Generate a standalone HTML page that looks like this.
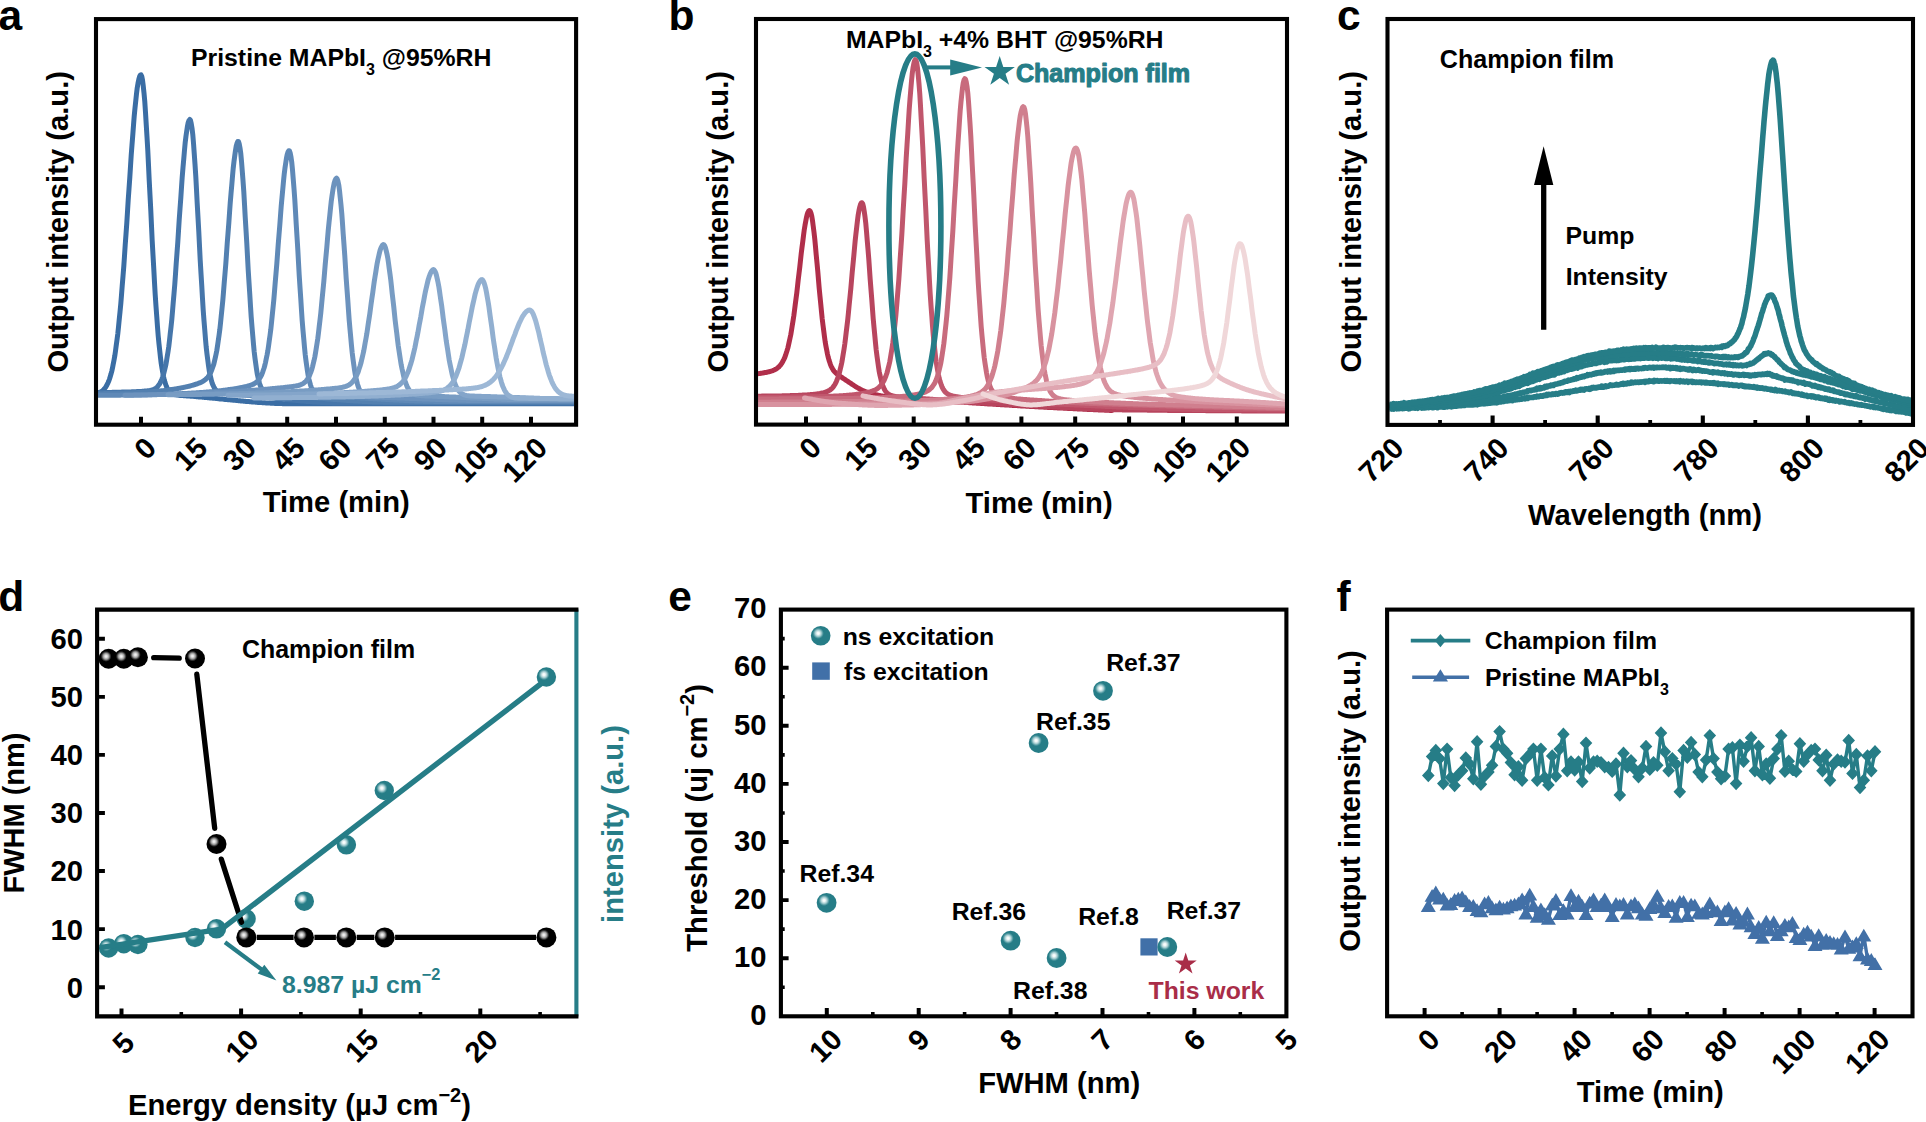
<!DOCTYPE html>
<html lang="en"><head><meta charset="utf-8"><title>Figure</title>
<style>html,body{margin:0;padding:0;background:#fff;overflow:hidden}svg{display:block}text{font-family:'Liberation Sans', sans-serif;font-weight:700}</style></head>
<body>
<svg width="1926" height="1122" viewBox="0 0 1926 1122" role="img" aria-label="Six panel figure">
<defs>
<radialGradient id="gk" cx="0.374" cy="0.378" r="0.27" fx="0.374" fy="0.378"><stop offset="0" stop-color="#f6f6f6"/><stop offset="0.22" stop-color="#e2e2e2"/><stop offset="0.55" stop-color="#9a9a9a"/><stop offset="0.82" stop-color="#333"/><stop offset="1" stop-color="#000"/></radialGradient>
<radialGradient id="gt" cx="0.374" cy="0.378" r="0.285" fx="0.374" fy="0.378"><stop offset="0" stop-color="#ffffff"/><stop offset="0.22" stop-color="#f1f8f8"/><stop offset="0.55" stop-color="#a6cdd1"/><stop offset="0.82" stop-color="#4f98a0"/><stop offset="1" stop-color="#267d87"/></radialGradient>
<clipPath id="ca"><rect x="98" y="21.1" width="476.1" height="401.6"/></clipPath>
<clipPath id="cb"><rect x="758" y="21" width="527" height="401.6"/></clipPath>
<clipPath id="cc"><rect x="1389.5" y="21" width="521.5" height="401.9"/></clipPath>
</defs>
<g id="pa">
<g clip-path="url(#ca)" fill="none" stroke-width="5.0" stroke-linecap="round" stroke-linejoin="round">
<path d="M90,394.1 L90.8,394 L91.5,394 L92.2,393.9 L93,393.9 L93.8,393.8 L94.5,393.7 L95.2,393.6 L96,393.4 L96.8,393.3 L97.5,393.1 L98.2,392.9 L99,392.6 L99.8,392.3 L100.5,392 L101.2,391.5 L102,391 L102.8,390.5 L103.5,389.8 L104.2,389 L105,388.1 L105.8,387 L106.5,385.8 L107.2,384.4 L108,382.8 L108.8,381 L109.5,379 L110.2,376.7 L111,374.1 L111.8,371.1 L112.5,367.9 L113.2,364.3 L114,360.3 L114.8,355.8 L115.5,351 L116.2,345.7 L117,339.9 L117.8,333.7 L118.5,326.9 L119.2,319.7 L120,312 L120.8,303.7 L121.5,295 L122.2,285.9 L123,276.3 L123.8,266.3 L124.5,255.9 L125.2,245.2 L126,234.2 L126.8,223 L127.5,211.6 L128.2,200.2 L129,188.8 L129.8,177.5 L130.5,166.3 L131.2,155.4 L132,144.9 L132.8,134.8 L133.5,125.2 L134.2,116.2 L135,107.9 L135.8,100.5 L136.5,93.8 L137.2,88.1 L138,83.3 L138.8,79.5 L139.5,76.8 L140.2,75.2 L141,74.8 L141.8,76.5 L142.5,80.1 L143.2,85.6 L144,92.9 L144.8,101.8 L145.5,112.3 L146.2,124 L147,136.9 L147.8,150.7 L148.5,165.2 L149.2,180.2 L150,195.4 L150.8,210.7 L151.5,225.9 L152.2,240.8 L153,255.2 L153.8,269.1 L154.5,282.3 L155.2,294.7 L156,306.3 L156.8,317.1 L157.5,326.9 L158.2,335.9 L159,344 L159.8,351.3 L160.5,357.7 L161.2,363.4 L162,368.4 L162.8,372.7 L163.5,376.5 L164.2,379.7 L165,382.4 L165.8,384.7 L166.5,386.6 L167.2,388.2 L168,389.6 L168.8,390.7 L169.5,391.6 L170.2,392.3 L171,392.9 L171.8,393.4 L172.5,393.8 L173.2,394.1 L174,394.4 L174.8,394.6 L175.5,394.8 L176.2,394.9 L177,395 L177.8,395.1 L178.5,395.2 L179.2,395.3 L180,395.4 L180.8,395.4 L181.5,395.5 L182.2,395.5 L183,395.6 L183.8,395.7 L184.5,395.7 L185.2,395.8 L186,395.8 L186.8,395.9 L187.5,395.9 L188.2,396 L189,396 L189.8,396.1 L190.5,396.2 L191.2,396.2 L192,396.3 L192.8,396.3 L193.5,396.4 L194.2,396.5 L195,396.5 L195.8,396.6 L196.5,396.7 L197.2,396.7 L198,396.8 L198.8,396.9 L199.5,396.9 L200.2,397 L201,397.1 L201.8,397.1 L202.5,397.2 L203.2,397.3 L204,397.3 L204.8,397.4 L205.5,397.5 L206.2,397.5 L207,397.6 L207.8,397.7 L208.5,397.7 L209.2,397.8 L210,397.9 L210.8,398 L211.5,398 L212.2,398.1 L213,398.2 L213.8,398.3 L214.5,398.3 L215.2,398.4 L216,398.5 L216.8,398.6 L217.5,398.6 L218.2,398.7 L219,398.8 L219.8,398.9 L220.5,398.9 L221.2,399 L222,399.1 L222.8,399.1 L223.5,399.2 L224.2,399.3 L225,399.4 L225.8,399.4 L226.5,399.5 L227.2,399.6 L228,399.7 L228.8,399.7 L229.5,399.8 L230.2,399.9 L231,400 L231.8,400 L232.5,400.1 L233.2,400.2 L234,400.3 L234.8,400.3 L235.5,400.4 L236.2,400.5 L237,400.6 L237.8,400.6 L238.5,400.7 L239.2,400.8 L240,400.8 L240.8,400.9 L241.5,401 L242.2,401 L243,401.1 L243.8,401.2 L244.5,401.2 L245.2,401.3 L246,401.4 L246.8,401.4 L247.5,401.5 L248.2,401.6 L249,401.6 L249.8,401.7 L250.5,401.8 L251.2,401.8 L252,401.9 L252.8,402 L253.5,402 L254.2,402.1 L255,402.1 L255.8,402.2 L256.5,402.3 L257.2,402.3 L258,402.4 L258.8,402.4 L259.5,402.5 L260.2,402.5 L261,402.6 L261.8,402.6 L262.5,402.7 L263.2,402.7 L264,402.8 L264.8,402.8 L265.5,402.9 L266.2,402.9 L267,403 L267.8,403 L268.5,403.1 L269.2,403.1 L270,403.1 L270.8,403.2 L271.5,403.2 L272.2,403.3 L273,403.3 L273.8,403.3 L274.5,403.4 L275.2,403.4 L276,403.4 L276.8,403.5 L277.5,403.5 L278.2,403.5 L279,403.5 L279.8,403.6 L280.5,403.6 L281.2,403.6 L282,403.6 L282.8,403.7 L283.5,403.7 L284.2,403.7 L285,403.7 L285.8,403.7 L286.5,403.7 L287.2,403.8 L288,403.8 L288.8,403.8 L289.5,403.8 L290.2,403.8 L291,403.8 L291.8,403.8 L292.5,403.8 L293.2,403.8 L294,403.8 L294.8,403.8 L295.5,403.8 L296.2,403.8 L297,403.8 L297.8,403.8 L298.5,403.8 L299.2,403.8 L300,403.8 L300.8,403.8 L301.5,403.8 L302.2,403.8 L303,403.8 L303.8,403.8 L304.5,403.8 L305.2,403.8 L306,403.8 L306.8,403.8 L307.5,403.8 L308.2,403.8 L309,403.8 L309.8,403.8 L310.5,403.8 L311.2,403.8 L312,403.8 L312.8,403.8 L313.5,403.8 L314.2,403.8 L315,403.8 L315.8,403.8 L316.5,403.8 L317.2,403.8 L318,403.8 L318.8,403.8 L319.5,403.8 L320.2,403.8 L321,403.8 L321.8,403.8 L322.5,403.8 L323.2,403.8 L324,403.8 L324.8,403.8 L325.5,403.8 L326.2,403.8 L327,403.8 L327.8,403.8 L328.5,403.8 L329.2,403.8 L330,403.8 L330.8,403.8 L331.5,403.8 L332.2,403.8 L333,403.8 L333.8,403.8 L334.5,403.8 L335.2,403.8 L336,403.8 L336.8,403.8 L337.5,403.8 L338.2,403.8 L339,403.8 L339.8,403.8 L340.5,403.8 L341.2,403.8 L342,403.8 L342.8,403.8 L343.5,403.8 L344.2,403.8 L345,403.8 L345.8,403.8 L346.5,403.8 L347.2,403.8 L348,403.8 L348.8,403.8 L349.5,403.8 L350.2,403.8 L351,403.8 L351.8,403.8 L352.5,403.8 L353.2,403.8 L354,403.8 L354.8,403.8 L355.5,403.8 L356.2,403.8 L357,403.8 L357.8,403.8 L358.5,403.8 L359.2,403.8 L360,403.8 L360.8,403.8 L361.5,403.8 L362.2,403.8 L363,403.8 L363.8,403.8 L364.5,403.8 L365.2,403.8 L366,403.8 L366.8,403.8 L367.5,403.8 L368.2,403.8 L369,403.8 L369.8,403.8 L370.5,403.8 L371.2,403.8 L372,403.8 L372.8,403.8 L373.5,403.8 L374.2,403.8 L375,403.8 L375.8,403.8 L376.5,403.8 L377.2,403.8 L378,403.8 L378.8,403.8 L379.5,403.8 L380.2,403.8 L381,403.8 L381.8,403.8 L382.5,403.8 L383.2,403.8 L384,403.8 L384.8,403.8 L385.5,403.8 L386.2,403.8 L387,403.8 L387.8,403.8 L388.5,403.8 L389.2,403.8 L390,403.8 L390.8,403.8 L391.5,403.8 L392.2,403.8 L393,403.8 L393.8,403.8 L394.5,403.8 L395.2,403.8 L396,403.8 L396.8,403.8 L397.5,403.8 L398.2,403.8 L399,403.8 L399.8,403.8 L400.5,403.8 L401.2,403.8 L402,403.8 L402.8,403.8 L403.5,403.8 L404.2,403.8 L405,403.8 L405.8,403.8 L406.5,403.8 L407.2,403.8 L408,403.8 L408.8,403.8 L409.5,403.8 L410.2,403.8 L411,403.8 L411.8,403.8 L412.5,403.8 L413.2,403.8 L414,403.8 L414.8,403.8 L415.5,403.8 L416.2,403.8 L417,403.8 L417.8,403.8 L418.5,403.8 L419.2,403.8 L420,403.8 L420.8,403.8 L421.5,403.8 L422.2,403.8 L423,403.8 L423.8,403.8 L424.5,403.8 L425.2,403.8 L426,403.8 L426.8,403.8 L427.5,403.8 L428.2,403.8 L429,403.8 L429.8,403.8 L430.5,403.8 L431.2,403.8 L432,403.8 L432.8,403.8 L433.5,403.8 L434.2,403.8 L435,403.8 L435.8,403.8 L436.5,403.8 L437.2,403.8 L438,403.8 L438.8,403.8 L439.5,403.8 L440.2,403.8 L441,403.8 L441.8,403.8 L442.5,403.8 L443.2,403.8 L444,403.8 L444.8,403.8 L445.5,403.8 L446.2,403.8 L447,403.8 L447.8,403.8 L448.5,403.8 L449.2,403.8 L450,403.8 L450.8,403.8 L451.5,403.8 L452.2,403.8 L453,403.8 L453.8,403.8 L454.5,403.8 L455.2,403.8 L456,403.8 L456.8,403.8 L457.5,403.8 L458.2,403.8 L459,403.8 L459.8,403.8 L460.5,403.8 L461.2,403.8 L462,403.8 L462.8,403.8 L463.5,403.8 L464.2,403.8 L465,403.8 L465.8,403.8 L466.5,403.8 L467.2,403.8 L468,403.8 L468.8,403.8 L469.5,403.8 L470.2,403.8 L471,403.8 L471.8,403.8 L472.5,403.8 L473.2,403.8 L474,403.8 L474.8,403.8 L475.5,403.8 L476.2,403.8 L477,403.8 L477.8,403.8 L478.5,403.8 L479.2,403.8 L480,403.8 L480.8,403.8 L481.5,403.8 L482.2,403.8 L483,403.8 L483.8,403.8 L484.5,403.8 L485.2,403.8 L486,403.8 L486.8,403.8 L487.5,403.8 L488.2,403.8 L489,403.8 L489.8,403.8 L490.5,403.8 L491.2,403.8 L492,403.8 L492.8,403.8 L493.5,403.8 L494.2,403.8 L495,403.8 L495.8,403.8 L496.5,403.8 L497.2,403.8 L498,403.8 L498.8,403.8 L499.5,403.8 L500.2,403.8 L501,403.8 L501.8,403.8 L502.5,403.8 L503.2,403.8 L504,403.8 L504.8,403.8 L505.5,403.8 L506.2,403.8 L507,403.8 L507.8,403.8 L508.5,403.8 L509.2,403.8 L510,403.8 L510.8,403.8 L511.5,403.8 L512.2,403.8 L513,403.8 L513.8,403.8 L514.5,403.8 L515.2,403.8 L516,403.8 L516.8,403.8 L517.5,403.8 L518.2,403.8 L519,403.8 L519.8,403.8 L520.5,403.8 L521.2,403.8 L522,403.8 L522.8,403.8 L523.5,403.8 L524.2,403.8 L525,403.8 L525.8,403.8 L526.5,403.8 L527.2,403.8 L528,403.8 L528.8,403.8 L529.5,403.8 L530.2,403.8 L531,403.8 L531.8,403.8 L532.5,403.8 L533.2,403.8 L534,403.8 L534.8,403.8 L535.5,403.8 L536.2,403.8 L537,403.8 L537.8,403.8 L538.5,403.8 L539.2,403.8 L540,403.8 L540.8,403.8 L541.5,403.8 L542.2,403.8 L543,403.8 L543.8,403.8 L544.5,403.8 L545.2,403.8 L546,403.8 L546.8,403.8 L547.5,403.8 L548.2,403.8 L549,403.8 L549.8,403.8 L550.5,403.8 L551.2,403.8 L552,403.8 L552.8,403.8 L553.5,403.8 L554.2,403.8 L555,403.8 L555.8,403.8 L556.5,403.8 L557.2,403.8 L558,403.8 L558.8,403.8 L559.5,403.8 L560.2,403.8 L561,403.8 L561.8,403.8 L562.5,403.8 L563.2,403.8 L564,403.8 L564.8,403.8 L565.5,403.8 L566.2,403.8 L567,403.8 L567.8,403.8 L568.5,403.8 L569.2,403.8 L570,403.8 L570.8,403.8 L571.5,403.8 L572.2,403.8 L573,403.8 L573.8,403.8 L574.5,403.8 L575.2,403.8 L576,403.8 L576.8,403.8 L577.5,403.8 L578.2,403.8 L579,403.8 L579.8,403.8 L580.5,403.8 L581.2,403.8" stroke="#3a6da4"/>
<path d="M90,392.6 L90.8,392.6 L91.5,392.6 L92.2,392.6 L93,392.6 L93.8,392.6 L94.5,392.6 L95.2,392.6 L96,392.6 L96.8,392.5 L97.5,392.5 L98.2,392.5 L99,392.5 L99.8,392.5 L100.5,392.5 L101.2,392.5 L102,392.5 L102.8,392.5 L103.5,392.5 L104.2,392.5 L105,392.5 L105.8,392.4 L106.5,392.4 L107.2,392.4 L108,392.4 L108.8,392.4 L109.5,392.4 L110.2,392.4 L111,392.4 L111.8,392.4 L112.5,392.3 L113.2,392.3 L114,392.3 L114.8,392.3 L115.5,392.3 L116.2,392.3 L117,392.3 L117.8,392.2 L118.5,392.2 L119.2,392.2 L120,392.2 L120.8,392.2 L121.5,392.1 L122.2,392.1 L123,392.1 L123.8,392.1 L124.5,392.1 L125.2,392 L126,392 L126.8,392 L127.5,392 L128.2,392 L129,391.9 L129.8,391.9 L130.5,391.9 L131.2,391.9 L132,391.8 L132.8,391.8 L133.5,391.8 L134.2,391.7 L135,391.7 L135.8,391.7 L136.5,391.6 L137.2,391.6 L138,391.6 L138.8,391.5 L139.5,391.5 L140.2,391.5 L141,391.4 L141.8,391.4 L142.5,391.3 L143.2,391.3 L144,391.2 L144.8,391.1 L145.5,391.1 L146.2,391 L147,390.9 L147.8,390.8 L148.5,390.7 L149.2,390.6 L150,390.5 L150.8,390.3 L151.5,390.1 L152.2,389.9 L153,389.6 L153.8,389.3 L154.5,389 L155.2,388.5 L156,388 L156.8,387.4 L157.5,386.7 L158.2,385.8 L159,384.8 L159.8,383.6 L160.5,382.3 L161.2,380.7 L162,378.9 L162.8,376.8 L163.5,374.4 L164.2,371.6 L165,368.5 L165.8,365 L166.5,361.1 L167.2,356.7 L168,351.8 L168.8,346.4 L169.5,340.5 L170.2,334.1 L171,327.1 L171.8,319.5 L172.5,311.4 L173.2,302.8 L174,293.7 L174.8,284.1 L175.5,274.1 L176.2,263.7 L177,253 L177.8,242.1 L178.5,231 L179.2,219.9 L180,208.9 L180.8,198 L181.5,187.4 L182.2,177.2 L183,167.5 L183.8,158.5 L184.5,150.1 L185.2,142.6 L186,136 L186.8,130.5 L187.5,126 L188.2,122.6 L189,120.5 L189.8,119.5 L190.5,120.4 L191.2,123.3 L192,128.1 L192.8,134.8 L193.5,143.1 L194.2,153 L195,164.2 L195.8,176.5 L196.5,189.6 L197.2,203.4 L198,217.5 L198.8,231.8 L199.5,246 L200.2,260 L201,273.5 L201.8,286.4 L202.5,298.6 L203.2,310.1 L204,320.7 L204.8,330.4 L205.5,339.2 L206.2,347.1 L207,354.1 L207.8,360.3 L208.5,365.7 L209.2,370.4 L210,374.5 L210.8,377.9 L211.5,380.8 L212.2,383.2 L213,385.2 L213.8,386.8 L214.5,388.2 L215.2,389.3 L216,390.2 L216.8,390.9 L217.5,391.4 L218.2,391.9 L219,392.2 L219.8,392.5 L220.5,392.8 L221.2,392.9 L222,393.1 L222.8,393.2 L223.5,393.3 L224.2,393.4 L225,393.5 L225.8,393.5 L226.5,393.6 L227.2,393.7 L228,393.7 L228.8,393.8 L229.5,393.8 L230.2,393.9 L231,393.9 L231.8,394 L232.5,394.1 L233.2,394.1 L234,394.2 L234.8,394.2 L235.5,394.3 L236.2,394.3 L237,394.4 L237.8,394.5 L238.5,394.5 L239.2,394.6 L240,394.7 L240.8,394.7 L241.5,394.8 L242.2,394.9 L243,394.9 L243.8,395 L244.5,395.1 L245.2,395.1 L246,395.2 L246.8,395.3 L247.5,395.4 L248.2,395.4 L249,395.5 L249.8,395.6 L250.5,395.6 L251.2,395.7 L252,395.8 L252.8,395.9 L253.5,395.9 L254.2,396 L255,396.1 L255.8,396.2 L256.5,396.3 L257.2,396.3 L258,396.4 L258.8,396.5 L259.5,396.6 L260.2,396.6 L261,396.7 L261.8,396.8 L262.5,396.9 L263.2,397 L264,397.1 L264.8,397.1 L265.5,397.2 L266.2,397.3 L267,397.4 L267.8,397.5 L268.5,397.5 L269.2,397.6 L270,397.7 L270.8,397.8 L271.5,397.9 L272.2,397.9 L273,398 L273.8,398.1 L274.5,398.2 L275.2,398.3 L276,398.4 L276.8,398.4 L277.5,398.5 L278.2,398.6 L279,398.7 L279.8,398.8 L280.5,398.8 L281.2,398.9 L282,399 L282.8,399.1 L283.5,399.2 L284.2,399.2 L285,399.3 L285.8,399.4 L286.5,399.5 L287.2,399.6 L288,399.6 L288.8,399.7 L289.5,399.8 L290.2,399.9 L291,399.9 L291.8,400 L292.5,400.1 L293.2,400.2 L294,400.2 L294.8,400.3 L295.5,400.4 L296.2,400.5 L297,400.5 L297.8,400.6 L298.5,400.7 L299.2,400.7 L300,400.8 L300.8,400.9 L301.5,401 L302.2,401 L303,401.1 L303.8,401.1 L304.5,401.2 L305.2,401.3 L306,401.3 L306.8,401.4 L307.5,401.5 L308.2,401.5 L309,401.6 L309.8,401.6 L310.5,401.7 L311.2,401.8 L312,401.8 L312.8,401.9 L313.5,401.9 L314.2,402 L315,402 L315.8,402.1 L316.5,402.1 L317.2,402.2 L318,402.2 L318.8,402.3 L319.5,402.3 L320.2,402.3 L321,402.4 L321.8,402.4 L322.5,402.5 L323.2,402.5 L324,402.5 L324.8,402.6 L325.5,402.6 L326.2,402.7 L327,402.7 L327.8,402.7 L328.5,402.7 L329.2,402.8 L330,402.8 L330.8,402.8 L331.5,402.8 L332.2,402.9 L333,402.9 L333.8,402.9 L334.5,402.9 L335.2,402.9 L336,402.9 L336.8,403 L337.5,403 L338.2,403 L339,403 L339.8,403 L340.5,403 L341.2,403 L342,403 L342.8,403 L343.5,403 L344.2,403 L345,403 L345.8,403 L346.5,403 L347.2,403 L348,403 L348.8,403 L349.5,403 L350.2,403 L351,403 L351.8,403 L352.5,403 L353.2,403 L354,403 L354.8,403 L355.5,403 L356.2,403 L357,403 L357.8,403 L358.5,403 L359.2,403 L360,403 L360.8,403 L361.5,403 L362.2,403 L363,403 L363.8,403 L364.5,403 L365.2,403 L366,403 L366.8,403 L367.5,403 L368.2,403 L369,403 L369.8,403 L370.5,403 L371.2,403 L372,403 L372.8,403 L373.5,403 L374.2,403 L375,403 L375.8,403 L376.5,403 L377.2,403 L378,403 L378.8,403 L379.5,403 L380.2,403 L381,403 L381.8,403 L382.5,403 L383.2,403 L384,403 L384.8,403 L385.5,403 L386.2,403 L387,403 L387.8,403 L388.5,403 L389.2,403 L390,403 L390.8,403 L391.5,403 L392.2,403 L393,403 L393.8,403 L394.5,403 L395.2,403 L396,403 L396.8,403 L397.5,403 L398.2,403 L399,403 L399.8,403 L400.5,403 L401.2,403 L402,403 L402.8,403 L403.5,403 L404.2,403 L405,403 L405.8,403 L406.5,403 L407.2,403 L408,403 L408.8,403 L409.5,403 L410.2,403 L411,403 L411.8,403 L412.5,403 L413.2,403 L414,403 L414.8,403 L415.5,403 L416.2,403 L417,403 L417.8,403 L418.5,403 L419.2,403 L420,403 L420.8,403 L421.5,403 L422.2,403 L423,403 L423.8,403 L424.5,403 L425.2,403 L426,403 L426.8,403 L427.5,403 L428.2,403 L429,403 L429.8,403 L430.5,403 L431.2,403 L432,403 L432.8,403 L433.5,403 L434.2,403 L435,403 L435.8,403 L436.5,403 L437.2,403 L438,403 L438.8,403 L439.5,403 L440.2,403 L441,403 L441.8,403 L442.5,403 L443.2,403 L444,403 L444.8,403 L445.5,403 L446.2,403 L447,403 L447.8,403 L448.5,403 L449.2,403 L450,403 L450.8,403 L451.5,403 L452.2,403 L453,403 L453.8,403 L454.5,403 L455.2,403 L456,403 L456.8,403 L457.5,403 L458.2,403 L459,403 L459.8,403 L460.5,403 L461.2,403 L462,403 L462.8,403 L463.5,403 L464.2,403 L465,403 L465.8,403 L466.5,403 L467.2,403 L468,403 L468.8,403 L469.5,403 L470.2,403 L471,403 L471.8,403 L472.5,403 L473.2,403 L474,403 L474.8,403 L475.5,403 L476.2,403 L477,403 L477.8,403 L478.5,403 L479.2,403 L480,403 L480.8,403 L481.5,403 L482.2,403 L483,403 L483.8,403 L484.5,403 L485.2,403 L486,403 L486.8,403 L487.5,403 L488.2,403 L489,403 L489.8,403 L490.5,403 L491.2,403 L492,403 L492.8,403 L493.5,403 L494.2,403 L495,403 L495.8,403 L496.5,403 L497.2,403 L498,403 L498.8,403 L499.5,403 L500.2,403 L501,403 L501.8,403 L502.5,403 L503.2,403 L504,403 L504.8,403 L505.5,403 L506.2,403 L507,403 L507.8,403 L508.5,403 L509.2,403 L510,403 L510.8,403 L511.5,403 L512.2,403 L513,403 L513.8,403 L514.5,403 L515.2,403 L516,403 L516.8,403 L517.5,403 L518.2,403 L519,403 L519.8,403 L520.5,403 L521.2,403 L522,403 L522.8,403 L523.5,403 L524.2,403 L525,403 L525.8,403 L526.5,403 L527.2,403 L528,403 L528.8,403 L529.5,403 L530.2,403 L531,403 L531.8,403 L532.5,403 L533.2,403 L534,403 L534.8,403 L535.5,403 L536.2,403 L537,403 L537.8,403 L538.5,403 L539.2,403 L540,403 L540.8,403 L541.5,403 L542.2,403 L543,403 L543.8,403 L544.5,403 L545.2,403 L546,403 L546.8,403 L547.5,403 L548.2,403 L549,403 L549.8,403 L550.5,403 L551.2,403 L552,403 L552.8,403 L553.5,403 L554.2,403 L555,403 L555.8,403 L556.5,403 L557.2,403 L558,403 L558.8,403 L559.5,403 L560.2,403 L561,403 L561.8,403 L562.5,403 L563.2,403 L564,403 L564.8,403 L565.5,403 L566.2,403 L567,403 L567.8,403 L568.5,403 L569.2,403 L570,403 L570.8,403 L571.5,403 L572.2,403 L573,403 L573.8,403 L574.5,403 L575.2,403 L576,403 L576.8,403 L577.5,403 L578.2,403 L579,403 L579.8,403 L580.5,403 L581.2,403" stroke="#4676aa"/>
<path d="M90,393.8 L90.8,393.8 L91.5,393.8 L92.2,393.8 L93,393.8 L93.8,393.8 L94.5,393.8 L95.2,393.8 L96,393.8 L96.8,393.8 L97.5,393.7 L98.2,393.7 L99,393.7 L99.8,393.7 L100.5,393.7 L101.2,393.7 L102,393.7 L102.8,393.7 L103.5,393.6 L104.2,393.6 L105,393.6 L105.8,393.6 L106.5,393.6 L107.2,393.6 L108,393.6 L108.8,393.5 L109.5,393.5 L110.2,393.5 L111,393.5 L111.8,393.5 L112.5,393.5 L113.2,393.4 L114,393.4 L114.8,393.4 L115.5,393.4 L116.2,393.4 L117,393.4 L117.8,393.3 L118.5,393.3 L119.2,393.3 L120,393.3 L120.8,393.3 L121.5,393.2 L122.2,393.2 L123,393.2 L123.8,393.2 L124.5,393.1 L125.2,393.1 L126,393.1 L126.8,393.1 L127.5,393 L128.2,393 L129,393 L129.8,392.9 L130.5,392.9 L131.2,392.9 L132,392.9 L132.8,392.8 L133.5,392.8 L134.2,392.8 L135,392.7 L135.8,392.7 L136.5,392.6 L137.2,392.6 L138,392.6 L138.8,392.5 L139.5,392.5 L140.2,392.5 L141,392.4 L141.8,392.4 L142.5,392.3 L143.2,392.3 L144,392.2 L144.8,392.2 L145.5,392.1 L146.2,392.1 L147,392 L147.8,392 L148.5,391.9 L149.2,391.9 L150,391.8 L150.8,391.8 L151.5,391.7 L152.2,391.7 L153,391.6 L153.8,391.5 L154.5,391.5 L155.2,391.4 L156,391.3 L156.8,391.3 L157.5,391.2 L158.2,391.1 L159,391.1 L159.8,391 L160.5,390.9 L161.2,390.8 L162,390.8 L162.8,390.7 L163.5,390.6 L164.2,390.5 L165,390.4 L165.8,390.3 L166.5,390.2 L167.2,390.1 L168,390 L168.8,390 L169.5,389.8 L170.2,389.7 L171,389.6 L171.8,389.5 L172.5,389.4 L173.2,389.3 L174,389.2 L174.8,389.1 L175.5,389 L176.2,388.8 L177,388.7 L177.8,388.6 L178.5,388.4 L179.2,388.3 L180,388.2 L180.8,388 L181.5,387.9 L182.2,387.7 L183,387.6 L183.8,387.4 L184.5,387.2 L185.2,387.1 L186,386.9 L186.8,386.7 L187.5,386.6 L188.2,386.4 L189,386.2 L189.8,386 L190.5,385.8 L191.2,385.6 L192,385.4 L192.8,385.2 L193.5,385 L194.2,384.7 L195,384.5 L195.8,384.3 L196.5,384 L197.2,383.8 L198,383.5 L198.8,383.2 L199.5,382.9 L200.2,382.6 L201,382.3 L201.8,381.9 L202.5,381.5 L203.2,381.1 L204,380.6 L204.8,380 L205.5,379.5 L206.2,378.8 L207,378 L207.8,377.2 L208.5,376.2 L209.2,375.1 L210,373.8 L210.8,372.3 L211.5,370.6 L212.2,368.7 L213,366.5 L213.8,364.1 L214.5,361.2 L215.2,358.1 L216,354.5 L216.8,350.5 L217.5,346 L218.2,341.1 L219,335.6 L219.8,329.7 L220.5,323.2 L221.2,316.2 L222,308.6 L222.8,300.6 L223.5,292 L224.2,283 L225,273.6 L225.8,263.9 L226.5,253.9 L227.2,243.7 L228,233.5 L228.8,223.2 L229.5,213.1 L230.2,203.2 L231,193.7 L231.8,184.7 L232.5,176.2 L233.2,168.4 L234,161.4 L234.8,155.4 L235.5,150.3 L236.2,146.2 L237,143.3 L237.8,141.5 L238.5,141.5 L239.2,143.8 L240,147.9 L240.8,153.7 L241.5,161.2 L242.2,170.2 L243,180.5 L243.8,191.8 L244.5,204 L245.2,216.8 L246,230 L246.8,243.4 L247.5,256.7 L248.2,269.8 L249,282.5 L249.8,294.7 L250.5,306.2 L251.2,317 L252,326.9 L252.8,336.1 L253.5,344.3 L254.2,351.8 L255,358.4 L255.8,364.2 L256.5,369.2 L257.2,373.6 L258,377.3 L258.8,380.5 L259.5,383.2 L260.2,385.4 L261,387.3 L261.8,388.8 L262.5,390 L263.2,391 L264,391.8 L264.8,392.4 L265.5,392.9 L266.2,393.3 L267,393.7 L267.8,393.9 L268.5,394.1 L269.2,394.3 L270,394.4 L270.8,394.5 L271.5,394.6 L272.2,394.7 L273,394.7 L273.8,394.8 L274.5,394.8 L275.2,394.9 L276,394.9 L276.8,395 L277.5,395 L278.2,395 L279,395.1 L279.8,395.1 L280.5,395.2 L281.2,395.2 L282,395.3 L282.8,395.3 L283.5,395.4 L284.2,395.4 L285,395.4 L285.8,395.5 L286.5,395.5 L287.2,395.6 L288,395.6 L288.8,395.7 L289.5,395.8 L290.2,395.8 L291,395.9 L291.8,395.9 L292.5,396 L293.2,396 L294,396.1 L294.8,396.1 L295.5,396.2 L296.2,396.2 L297,396.3 L297.8,396.4 L298.5,396.4 L299.2,396.5 L300,396.5 L300.8,396.6 L301.5,396.7 L302.2,396.7 L303,396.8 L303.8,396.8 L304.5,396.9 L305.2,397 L306,397 L306.8,397.1 L307.5,397.1 L308.2,397.2 L309,397.3 L309.8,397.3 L310.5,397.4 L311.2,397.5 L312,397.5 L312.8,397.6 L313.5,397.6 L314.2,397.7 L315,397.8 L315.8,397.8 L316.5,397.9 L317.2,398 L318,398 L318.8,398.1 L319.5,398.2 L320.2,398.2 L321,398.3 L321.8,398.3 L322.5,398.4 L323.2,398.5 L324,398.5 L324.8,398.6 L325.5,398.7 L326.2,398.7 L327,398.8 L327.8,398.9 L328.5,398.9 L329.2,399 L330,399.1 L330.8,399.1 L331.5,399.2 L332.2,399.2 L333,399.3 L333.8,399.4 L334.5,399.4 L335.2,399.5 L336,399.5 L336.8,399.6 L337.5,399.7 L338.2,399.7 L339,399.8 L339.8,399.8 L340.5,399.9 L341.2,400 L342,400 L342.8,400.1 L343.5,400.1 L344.2,400.2 L345,400.3 L345.8,400.3 L346.5,400.4 L347.2,400.4 L348,400.5 L348.8,400.5 L349.5,400.6 L350.2,400.6 L351,400.7 L351.8,400.7 L352.5,400.8 L353.2,400.8 L354,400.9 L354.8,400.9 L355.5,401 L356.2,401 L357,401.1 L357.8,401.1 L358.5,401.2 L359.2,401.2 L360,401.3 L360.8,401.3 L361.5,401.3 L362.2,401.4 L363,401.4 L363.8,401.5 L364.5,401.5 L365.2,401.5 L366,401.6 L366.8,401.6 L367.5,401.6 L368.2,401.7 L369,401.7 L369.8,401.7 L370.5,401.8 L371.2,401.8 L372,401.8 L372.8,401.9 L373.5,401.9 L374.2,401.9 L375,401.9 L375.8,402 L376.5,402 L377.2,402 L378,402 L378.8,402.1 L379.5,402.1 L380.2,402.1 L381,402.1 L381.8,402.1 L382.5,402.1 L383.2,402.1 L384,402.2 L384.8,402.2 L385.5,402.2 L386.2,402.2 L387,402.2 L387.8,402.2 L388.5,402.2 L389.2,402.2 L390,402.2 L390.8,402.2 L391.5,402.2 L392.2,402.2 L393,402.2 L393.8,402.2 L394.5,402.2 L395.2,402.2 L396,402.2 L396.8,402.2 L397.5,402.2 L398.2,402.2 L399,402.2 L399.8,402.2 L400.5,402.2 L401.2,402.2 L402,402.2 L402.8,402.2 L403.5,402.2 L404.2,402.2 L405,402.2 L405.8,402.2 L406.5,402.2 L407.2,402.2 L408,402.2 L408.8,402.2 L409.5,402.2 L410.2,402.2 L411,402.2 L411.8,402.2 L412.5,402.2 L413.2,402.2 L414,402.2 L414.8,402.2 L415.5,402.2 L416.2,402.2 L417,402.2 L417.8,402.2 L418.5,402.2 L419.2,402.2 L420,402.2 L420.8,402.2 L421.5,402.2 L422.2,402.2 L423,402.2 L423.8,402.2 L424.5,402.2 L425.2,402.2 L426,402.2 L426.8,402.2 L427.5,402.2 L428.2,402.2 L429,402.2 L429.8,402.2 L430.5,402.2 L431.2,402.2 L432,402.2 L432.8,402.2 L433.5,402.2 L434.2,402.2 L435,402.2 L435.8,402.2 L436.5,402.2 L437.2,402.2 L438,402.2 L438.8,402.2 L439.5,402.2 L440.2,402.2 L441,402.2 L441.8,402.2 L442.5,402.2 L443.2,402.2 L444,402.2 L444.8,402.2 L445.5,402.2 L446.2,402.2 L447,402.2 L447.8,402.2 L448.5,402.2 L449.2,402.2 L450,402.2 L450.8,402.2 L451.5,402.2 L452.2,402.2 L453,402.2 L453.8,402.2 L454.5,402.2 L455.2,402.2 L456,402.2 L456.8,402.2 L457.5,402.2 L458.2,402.2 L459,402.2 L459.8,402.2 L460.5,402.2 L461.2,402.2 L462,402.2 L462.8,402.2 L463.5,402.2 L464.2,402.2 L465,402.2 L465.8,402.2 L466.5,402.2 L467.2,402.2 L468,402.2 L468.8,402.2 L469.5,402.2 L470.2,402.2 L471,402.2 L471.8,402.2 L472.5,402.2 L473.2,402.2 L474,402.2 L474.8,402.2 L475.5,402.2 L476.2,402.2 L477,402.2 L477.8,402.2 L478.5,402.2 L479.2,402.2 L480,402.2 L480.8,402.2 L481.5,402.2 L482.2,402.2 L483,402.2 L483.8,402.2 L484.5,402.2 L485.2,402.2 L486,402.2 L486.8,402.2 L487.5,402.2 L488.2,402.2 L489,402.2 L489.8,402.2 L490.5,402.2 L491.2,402.2 L492,402.2 L492.8,402.2 L493.5,402.2 L494.2,402.2 L495,402.2 L495.8,402.2 L496.5,402.2 L497.2,402.2 L498,402.2 L498.8,402.2 L499.5,402.2 L500.2,402.2 L501,402.2 L501.8,402.2 L502.5,402.2 L503.2,402.2 L504,402.2 L504.8,402.2 L505.5,402.2 L506.2,402.2 L507,402.2 L507.8,402.2 L508.5,402.2 L509.2,402.2 L510,402.2 L510.8,402.2 L511.5,402.2 L512.2,402.2 L513,402.2 L513.8,402.2 L514.5,402.2 L515.2,402.2 L516,402.2 L516.8,402.2 L517.5,402.2 L518.2,402.2 L519,402.2 L519.8,402.2 L520.5,402.2 L521.2,402.2 L522,402.2 L522.8,402.2 L523.5,402.2 L524.2,402.2 L525,402.2 L525.8,402.2 L526.5,402.2 L527.2,402.2 L528,402.2 L528.8,402.2 L529.5,402.2 L530.2,402.2 L531,402.2 L531.8,402.2 L532.5,402.2 L533.2,402.2 L534,402.2 L534.8,402.2 L535.5,402.2 L536.2,402.2 L537,402.2 L537.8,402.2 L538.5,402.2 L539.2,402.2 L540,402.2 L540.8,402.2 L541.5,402.2 L542.2,402.2 L543,402.2 L543.8,402.2 L544.5,402.2 L545.2,402.2 L546,402.2 L546.8,402.2 L547.5,402.2 L548.2,402.2 L549,402.2 L549.8,402.2 L550.5,402.2 L551.2,402.2 L552,402.2 L552.8,402.2 L553.5,402.2 L554.2,402.2 L555,402.2 L555.8,402.2 L556.5,402.2 L557.2,402.2 L558,402.2 L558.8,402.2 L559.5,402.2 L560.2,402.2 L561,402.2 L561.8,402.2 L562.5,402.2 L563.2,402.2 L564,402.2 L564.8,402.2 L565.5,402.2 L566.2,402.2 L567,402.2 L567.8,402.2 L568.5,402.2 L569.2,402.2 L570,402.2 L570.8,402.2 L571.5,402.2 L572.2,402.2 L573,402.2 L573.8,402.2 L574.5,402.2 L575.2,402.2 L576,402.2 L576.8,402.2 L577.5,402.2 L578.2,402.2 L579,402.2 L579.8,402.2 L580.5,402.2 L581.2,402.2" stroke="#5380b0"/>
<path d="M90,395.4 L90.8,395.4 L91.5,395.4 L92.2,395.4 L93,395.4 L93.8,395.4 L94.5,395.4 L95.2,395.4 L96,395.3 L96.8,395.3 L97.5,395.3 L98.2,395.3 L99,395.3 L99.8,395.3 L100.5,395.3 L101.2,395.3 L102,395.3 L102.8,395.3 L103.5,395.3 L104.2,395.3 L105,395.3 L105.8,395.3 L106.5,395.3 L107.2,395.3 L108,395.3 L108.8,395.3 L109.5,395.3 L110.2,395.2 L111,395.2 L111.8,395.2 L112.5,395.2 L113.2,395.2 L114,395.2 L114.8,395.2 L115.5,395.2 L116.2,395.2 L117,395.2 L117.8,395.2 L118.5,395.2 L119.2,395.2 L120,395.2 L120.8,395.1 L121.5,395.1 L122.2,395.1 L123,395.1 L123.8,395.1 L124.5,395.1 L125.2,395.1 L126,395.1 L126.8,395.1 L127.5,395.1 L128.2,395.1 L129,395 L129.8,395 L130.5,395 L131.2,395 L132,395 L132.8,395 L133.5,395 L134.2,395 L135,395 L135.8,394.9 L136.5,394.9 L137.2,394.9 L138,394.9 L138.8,394.9 L139.5,394.9 L140.2,394.9 L141,394.9 L141.8,394.8 L142.5,394.8 L143.2,394.8 L144,394.8 L144.8,394.8 L145.5,394.8 L146.2,394.8 L147,394.7 L147.8,394.7 L148.5,394.7 L149.2,394.7 L150,394.7 L150.8,394.7 L151.5,394.7 L152.2,394.6 L153,394.6 L153.8,394.6 L154.5,394.6 L155.2,394.6 L156,394.5 L156.8,394.5 L157.5,394.5 L158.2,394.5 L159,394.5 L159.8,394.4 L160.5,394.4 L161.2,394.4 L162,394.4 L162.8,394.4 L163.5,394.3 L164.2,394.3 L165,394.3 L165.8,394.3 L166.5,394.2 L167.2,394.2 L168,394.2 L168.8,394.2 L169.5,394.1 L170.2,394.1 L171,394.1 L171.8,394.1 L172.5,394 L173.2,394 L174,394 L174.8,394 L175.5,393.9 L176.2,393.9 L177,393.9 L177.8,393.8 L178.5,393.8 L179.2,393.8 L180,393.7 L180.8,393.7 L181.5,393.7 L182.2,393.6 L183,393.6 L183.8,393.6 L184.5,393.5 L185.2,393.5 L186,393.4 L186.8,393.4 L187.5,393.4 L188.2,393.3 L189,393.3 L189.8,393.2 L190.5,393.2 L191.2,393.2 L192,393.1 L192.8,393.1 L193.5,393 L194.2,393 L195,392.9 L195.8,392.9 L196.5,392.8 L197.2,392.8 L198,392.7 L198.8,392.7 L199.5,392.6 L200.2,392.6 L201,392.5 L201.8,392.5 L202.5,392.4 L203.2,392.4 L204,392.3 L204.8,392.2 L205.5,392.2 L206.2,392.1 L207,392.1 L207.8,392 L208.5,391.9 L209.2,391.9 L210,391.8 L210.8,391.7 L211.5,391.7 L212.2,391.6 L213,391.5 L213.8,391.4 L214.5,391.4 L215.2,391.3 L216,391.2 L216.8,391.1 L217.5,391 L218.2,391 L219,390.9 L219.8,390.8 L220.5,390.7 L221.2,390.6 L222,390.5 L222.8,390.4 L223.5,390.3 L224.2,390.2 L225,390.2 L225.8,390.1 L226.5,390 L227.2,389.9 L228,389.7 L228.8,389.6 L229.5,389.5 L230.2,389.4 L231,389.3 L231.8,389.2 L232.5,389.1 L233.2,389 L234,388.9 L234.8,388.7 L235.5,388.6 L236.2,388.5 L237,388.4 L237.8,388.2 L238.5,388.1 L239.2,387.9 L240,387.8 L240.8,387.7 L241.5,387.5 L242.2,387.4 L243,387.2 L243.8,387.1 L244.5,386.9 L245.2,386.7 L246,386.6 L246.8,386.4 L247.5,386.2 L248.2,386 L249,385.8 L249.8,385.5 L250.5,385.3 L251.2,385 L252,384.7 L252.8,384.4 L253.5,384.1 L254.2,383.6 L255,383.2 L255.8,382.7 L256.5,382.1 L257.2,381.4 L258,380.6 L258.8,379.7 L259.5,378.6 L260.2,377.4 L261,376 L261.8,374.5 L262.5,372.6 L263.2,370.5 L264,368.2 L264.8,365.5 L265.5,362.5 L266.2,359.1 L267,355.3 L267.8,351 L268.5,346.3 L269.2,341.2 L270,335.5 L270.8,329.4 L271.5,322.8 L272.2,315.7 L273,308.1 L273.8,300 L274.5,291.5 L275.2,282.7 L276,273.5 L276.8,264 L277.5,254.4 L278.2,244.6 L279,234.9 L279.8,225.1 L280.5,215.6 L281.2,206.3 L282,197.5 L282.8,189.1 L283.5,181.3 L284.2,174.2 L285,167.9 L285.8,162.5 L286.5,158 L287.2,154.5 L288,152.1 L288.8,150.7 L289.5,150.9 L290.2,153.1 L291,157 L291.8,162.7 L292.5,170 L293.2,178.7 L294,188.6 L294.8,199.6 L295.5,211.4 L296.2,223.8 L297,236.6 L297.8,249.5 L298.5,262.4 L299.2,275.1 L300,287.4 L300.8,299.2 L301.5,310.4 L302.2,320.8 L303,330.5 L303.8,339.3 L304.5,347.3 L305.2,354.5 L306,360.9 L306.8,366.5 L307.5,371.4 L308.2,375.6 L309,379.3 L309.8,382.3 L310.5,384.9 L311.2,387.1 L312,388.8 L312.8,390.3 L313.5,391.5 L314.2,392.5 L315,393.2 L315.8,393.8 L316.5,394.3 L317.2,394.7 L318,395 L318.8,395.2 L319.5,395.4 L320.2,395.6 L321,395.7 L321.8,395.8 L322.5,395.8 L323.2,395.9 L324,396 L324.8,396 L325.5,396 L326.2,396.1 L327,396.1 L327.8,396.1 L328.5,396.2 L329.2,396.2 L330,396.2 L330.8,396.3 L331.5,396.3 L332.2,396.3 L333,396.4 L333.8,396.4 L334.5,396.4 L335.2,396.5 L336,396.5 L336.8,396.5 L337.5,396.6 L338.2,396.6 L339,396.6 L339.8,396.7 L340.5,396.7 L341.2,396.8 L342,396.8 L342.8,396.8 L343.5,396.9 L344.2,396.9 L345,397 L345.8,397 L346.5,397 L347.2,397.1 L348,397.1 L348.8,397.2 L349.5,397.2 L350.2,397.2 L351,397.3 L351.8,397.3 L352.5,397.4 L353.2,397.4 L354,397.5 L354.8,397.5 L355.5,397.6 L356.2,397.6 L357,397.6 L357.8,397.7 L358.5,397.7 L359.2,397.8 L360,397.8 L360.8,397.9 L361.5,397.9 L362.2,398 L363,398 L363.8,398.1 L364.5,398.1 L365.2,398.1 L366,398.2 L366.8,398.2 L367.5,398.3 L368.2,398.3 L369,398.4 L369.8,398.4 L370.5,398.5 L371.2,398.5 L372,398.6 L372.8,398.6 L373.5,398.7 L374.2,398.7 L375,398.7 L375.8,398.8 L376.5,398.8 L377.2,398.9 L378,398.9 L378.8,399 L379.5,399 L380.2,399.1 L381,399.1 L381.8,399.2 L382.5,399.2 L383.2,399.3 L384,399.3 L384.8,399.3 L385.5,399.4 L386.2,399.4 L387,399.5 L387.8,399.5 L388.5,399.6 L389.2,399.6 L390,399.7 L390.8,399.7 L391.5,399.7 L392.2,399.8 L393,399.8 L393.8,399.9 L394.5,399.9 L395.2,399.9 L396,400 L396.8,400 L397.5,400.1 L398.2,400.1 L399,400.1 L399.8,400.2 L400.5,400.2 L401.2,400.3 L402,400.3 L402.8,400.3 L403.5,400.4 L404.2,400.4 L405,400.4 L405.8,400.5 L406.5,400.5 L407.2,400.6 L408,400.6 L408.8,400.6 L409.5,400.7 L410.2,400.7 L411,400.7 L411.8,400.7 L412.5,400.8 L413.2,400.8 L414,400.8 L414.8,400.9 L415.5,400.9 L416.2,400.9 L417,400.9 L417.8,401 L418.5,401 L419.2,401 L420,401 L420.8,401.1 L421.5,401.1 L422.2,401.1 L423,401.1 L423.8,401.2 L424.5,401.2 L425.2,401.2 L426,401.2 L426.8,401.2 L427.5,401.2 L428.2,401.3 L429,401.3 L429.8,401.3 L430.5,401.3 L431.2,401.3 L432,401.3 L432.8,401.3 L433.5,401.4 L434.2,401.4 L435,401.4 L435.8,401.4 L436.5,401.4 L437.2,401.4 L438,401.4 L438.8,401.4 L439.5,401.4 L440.2,401.4 L441,401.4 L441.8,401.4 L442.5,401.4 L443.2,401.4 L444,401.4 L444.8,401.4 L445.5,401.4 L446.2,401.4 L447,401.4 L447.8,401.4 L448.5,401.4 L449.2,401.4 L450,401.4 L450.8,401.4 L451.5,401.4 L452.2,401.4 L453,401.4 L453.8,401.4 L454.5,401.4 L455.2,401.4 L456,401.4 L456.8,401.4 L457.5,401.4 L458.2,401.4 L459,401.4 L459.8,401.4 L460.5,401.4 L461.2,401.4 L462,401.4 L462.8,401.4 L463.5,401.4 L464.2,401.4 L465,401.4 L465.8,401.4 L466.5,401.4 L467.2,401.4 L468,401.4 L468.8,401.4 L469.5,401.4 L470.2,401.4 L471,401.4 L471.8,401.4 L472.5,401.4 L473.2,401.4 L474,401.4 L474.8,401.4 L475.5,401.4 L476.2,401.4 L477,401.4 L477.8,401.4 L478.5,401.4 L479.2,401.4 L480,401.4 L480.8,401.4 L481.5,401.4 L482.2,401.4 L483,401.4 L483.8,401.4 L484.5,401.4 L485.2,401.4 L486,401.4 L486.8,401.4 L487.5,401.4 L488.2,401.4 L489,401.4 L489.8,401.4 L490.5,401.4 L491.2,401.4 L492,401.4 L492.8,401.4 L493.5,401.4 L494.2,401.4 L495,401.4 L495.8,401.4 L496.5,401.4 L497.2,401.4 L498,401.4 L498.8,401.4 L499.5,401.4 L500.2,401.4 L501,401.4 L501.8,401.4 L502.5,401.4 L503.2,401.4 L504,401.4 L504.8,401.4 L505.5,401.4 L506.2,401.4 L507,401.4 L507.8,401.4 L508.5,401.4 L509.2,401.4 L510,401.4 L510.8,401.4 L511.5,401.4 L512.2,401.4 L513,401.4 L513.8,401.4 L514.5,401.4 L515.2,401.4 L516,401.4 L516.8,401.4 L517.5,401.4 L518.2,401.4 L519,401.4 L519.8,401.4 L520.5,401.4 L521.2,401.4 L522,401.4 L522.8,401.4 L523.5,401.4 L524.2,401.4 L525,401.4 L525.8,401.4 L526.5,401.4 L527.2,401.4 L528,401.4 L528.8,401.4 L529.5,401.4 L530.2,401.4 L531,401.4 L531.8,401.4 L532.5,401.4 L533.2,401.4 L534,401.4 L534.8,401.4 L535.5,401.4 L536.2,401.4 L537,401.4 L537.8,401.4 L538.5,401.4 L539.2,401.4 L540,401.4 L540.8,401.4 L541.5,401.4 L542.2,401.4 L543,401.4 L543.8,401.4 L544.5,401.4 L545.2,401.4 L546,401.4 L546.8,401.4 L547.5,401.4 L548.2,401.4 L549,401.4 L549.8,401.4 L550.5,401.4 L551.2,401.4 L552,401.4 L552.8,401.4 L553.5,401.4 L554.2,401.4 L555,401.4 L555.8,401.4 L556.5,401.4 L557.2,401.4 L558,401.4 L558.8,401.4 L559.5,401.4 L560.2,401.4 L561,401.4 L561.8,401.4 L562.5,401.4 L563.2,401.4 L564,401.4 L564.8,401.4 L565.5,401.4 L566.2,401.4 L567,401.4 L567.8,401.4 L568.5,401.4 L569.2,401.4 L570,401.4 L570.8,401.4 L571.5,401.4 L572.2,401.4 L573,401.4 L573.8,401.4 L574.5,401.4 L575.2,401.4 L576,401.4 L576.8,401.4 L577.5,401.4 L578.2,401.4 L579,401.4 L579.8,401.4 L580.5,401.4 L581.2,401.4" stroke="#5f89b7"/>
<path d="M125,395.3 L125.8,395.3 L126.5,395.3 L127.2,395.3 L128,395.3 L128.8,395.2 L129.5,395.2 L130.2,395.2 L131,395.2 L131.8,395.2 L132.5,395.2 L133.2,395.2 L134,395.1 L134.8,395.1 L135.5,395.1 L136.2,395.1 L137,395.1 L137.8,395.1 L138.5,395.1 L139.2,395 L140,395 L140.8,395 L141.5,395 L142.2,395 L143,395 L143.8,394.9 L144.5,394.9 L145.2,394.9 L146,394.9 L146.8,394.9 L147.5,394.9 L148.2,394.8 L149,394.8 L149.8,394.8 L150.5,394.8 L151.2,394.8 L152,394.8 L152.8,394.7 L153.5,394.7 L154.2,394.7 L155,394.7 L155.8,394.7 L156.5,394.7 L157.2,394.6 L158,394.6 L158.8,394.6 L159.5,394.6 L160.2,394.6 L161,394.5 L161.8,394.5 L162.5,394.5 L163.2,394.5 L164,394.5 L164.8,394.4 L165.5,394.4 L166.2,394.4 L167,394.4 L167.8,394.4 L168.5,394.3 L169.2,394.3 L170,394.3 L170.8,394.3 L171.5,394.2 L172.2,394.2 L173,394.2 L173.8,394.2 L174.5,394.2 L175.2,394.1 L176,394.1 L176.8,394.1 L177.5,394.1 L178.2,394 L179,394 L179.8,394 L180.5,394 L181.2,393.9 L182,393.9 L182.8,393.9 L183.5,393.9 L184.2,393.8 L185,393.8 L185.8,393.8 L186.5,393.8 L187.2,393.7 L188,393.7 L188.8,393.7 L189.5,393.7 L190.2,393.6 L191,393.6 L191.8,393.6 L192.5,393.6 L193.2,393.5 L194,393.5 L194.8,393.5 L195.5,393.4 L196.2,393.4 L197,393.4 L197.8,393.3 L198.5,393.3 L199.2,393.3 L200,393.3 L200.8,393.2 L201.5,393.2 L202.2,393.2 L203,393.1 L203.8,393.1 L204.5,393.1 L205.2,393 L206,393 L206.8,393 L207.5,392.9 L208.2,392.9 L209,392.9 L209.8,392.8 L210.5,392.8 L211.2,392.8 L212,392.7 L212.8,392.7 L213.5,392.7 L214.2,392.6 L215,392.6 L215.8,392.6 L216.5,392.5 L217.2,392.5 L218,392.4 L218.8,392.4 L219.5,392.4 L220.2,392.3 L221,392.3 L221.8,392.3 L222.5,392.2 L223.2,392.2 L224,392.1 L224.8,392.1 L225.5,392.1 L226.2,392 L227,392 L227.8,391.9 L228.5,391.9 L229.2,391.8 L230,391.8 L230.8,391.8 L231.5,391.7 L232.2,391.7 L233,391.6 L233.8,391.6 L234.5,391.5 L235.2,391.5 L236,391.4 L236.8,391.4 L237.5,391.4 L238.2,391.3 L239,391.3 L239.8,391.2 L240.5,391.2 L241.2,391.1 L242,391.1 L242.8,391 L243.5,391 L244.2,390.9 L245,390.9 L245.8,390.8 L246.5,390.8 L247.2,390.7 L248,390.7 L248.8,390.6 L249.5,390.5 L250.2,390.5 L251,390.4 L251.8,390.4 L252.5,390.3 L253.2,390.3 L254,390.2 L254.8,390.2 L255.5,390.1 L256.2,390 L257,390 L257.8,389.9 L258.5,389.9 L259.2,389.8 L260,389.7 L260.8,389.7 L261.5,389.6 L262.2,389.6 L263,389.5 L263.8,389.4 L264.5,389.4 L265.2,389.3 L266,389.2 L266.8,389.2 L267.5,389.1 L268.2,389 L269,389 L269.8,388.9 L270.5,388.8 L271.2,388.8 L272,388.7 L272.8,388.6 L273.5,388.6 L274.2,388.5 L275,388.4 L275.8,388.3 L276.5,388.3 L277.2,388.2 L278,388.1 L278.8,388 L279.5,388 L280.2,387.9 L281,387.8 L281.8,387.7 L282.5,387.7 L283.2,387.6 L284,387.5 L284.8,387.4 L285.5,387.3 L286.2,387.3 L287,387.2 L287.8,387.1 L288.5,387 L289.2,386.9 L290,386.8 L290.8,386.7 L291.5,386.6 L292.2,386.5 L293,386.4 L293.8,386.3 L294.5,386.2 L295.2,386.1 L296,385.9 L296.8,385.8 L297.5,385.6 L298.2,385.5 L299,385.3 L299.8,385 L300.5,384.8 L301.2,384.5 L302,384.1 L302.8,383.7 L303.5,383.3 L304.2,382.7 L305,382.1 L305.8,381.4 L306.5,380.5 L307.2,379.5 L308,378.3 L308.8,377 L309.5,375.5 L310.2,373.7 L311,371.7 L311.8,369.4 L312.5,366.8 L313.2,363.9 L314,360.7 L314.8,357 L315.5,353 L316.2,348.6 L317,343.7 L317.8,338.4 L318.5,332.7 L319.2,326.6 L320,320 L320.8,313 L321.5,305.6 L322.2,297.9 L323,289.9 L323.8,281.7 L324.5,273.2 L325.2,264.7 L326,256.1 L326.8,247.5 L327.5,239 L328.2,230.8 L329,222.8 L329.8,215.2 L330.5,208.2 L331.2,201.7 L332,195.8 L332.8,190.7 L333.5,186.4 L334.2,183 L335,180.4 L335.8,178.8 L336.5,178.2 L337.2,179 L338,181.4 L338.8,185.2 L339.5,190.5 L340.2,197.2 L341,205 L341.8,213.8 L342.5,223.5 L343.2,233.9 L344,244.8 L344.8,255.9 L345.5,267.2 L346.2,278.5 L347,289.5 L347.8,300.2 L348.5,310.5 L349.2,320.3 L350,329.4 L350.8,337.9 L351.5,345.7 L352.2,352.7 L353,359.1 L353.8,364.8 L354.5,369.8 L355.2,374.2 L356,378.1 L356.8,381.4 L357.5,384.2 L358.2,386.5 L359,388.5 L359.8,390.2 L360.5,391.6 L361.2,392.7 L362,393.6 L362.8,394.4 L363.5,394.9 L364.2,395.4 L365,395.8 L365.8,396.1 L366.5,396.3 L367.2,396.5 L368,396.6 L368.8,396.8 L369.5,396.8 L370.2,396.9 L371,397 L371.8,397 L372.5,397 L373.2,397.1 L374,397.1 L374.8,397.1 L375.5,397.2 L376.2,397.2 L377,397.2 L377.8,397.2 L378.5,397.2 L379.2,397.3 L380,397.3 L380.8,397.3 L381.5,397.3 L382.2,397.4 L383,397.4 L383.8,397.4 L384.5,397.4 L385.2,397.4 L386,397.5 L386.8,397.5 L387.5,397.5 L388.2,397.5 L389,397.6 L389.8,397.6 L390.5,397.6 L391.2,397.6 L392,397.7 L392.8,397.7 L393.5,397.7 L394.2,397.8 L395,397.8 L395.8,397.8 L396.5,397.8 L397.2,397.9 L398,397.9 L398.8,397.9 L399.5,397.9 L400.2,398 L401,398 L401.8,398 L402.5,398.1 L403.2,398.1 L404,398.1 L404.8,398.1 L405.5,398.2 L406.2,398.2 L407,398.2 L407.8,398.3 L408.5,398.3 L409.2,398.3 L410,398.4 L410.8,398.4 L411.5,398.4 L412.2,398.4 L413,398.5 L413.8,398.5 L414.5,398.5 L415.2,398.6 L416,398.6 L416.8,398.6 L417.5,398.7 L418.2,398.7 L419,398.7 L419.8,398.8 L420.5,398.8 L421.2,398.8 L422,398.8 L422.8,398.9 L423.5,398.9 L424.2,398.9 L425,399 L425.8,399 L426.5,399 L427.2,399.1 L428,399.1 L428.8,399.1 L429.5,399.1 L430.2,399.2 L431,399.2 L431.8,399.2 L432.5,399.3 L433.2,399.3 L434,399.3 L434.8,399.3 L435.5,399.4 L436.2,399.4 L437,399.4 L437.8,399.5 L438.5,399.5 L439.2,399.5 L440,399.5 L440.8,399.6 L441.5,399.6 L442.2,399.6 L443,399.7 L443.8,399.7 L444.5,399.7 L445.2,399.7 L446,399.8 L446.8,399.8 L447.5,399.8 L448.2,399.8 L449,399.9 L449.8,399.9 L450.5,399.9 L451.2,399.9 L452,400 L452.8,400 L453.5,400 L454.2,400 L455,400.1 L455.8,400.1 L456.5,400.1 L457.2,400.1 L458,400.1 L458.8,400.2 L459.5,400.2 L460.2,400.2 L461,400.2 L461.8,400.2 L462.5,400.3 L463.2,400.3 L464,400.3 L464.8,400.3 L465.5,400.3 L466.2,400.3 L467,400.4 L467.8,400.4 L468.5,400.4 L469.2,400.4 L470,400.4 L470.8,400.4 L471.5,400.4 L472.2,400.5 L473,400.5 L473.8,400.5 L474.5,400.5 L475.2,400.5 L476,400.5 L476.8,400.5 L477.5,400.5 L478.2,400.5 L479,400.5 L479.8,400.6 L480.5,400.6 L481.2,400.6 L482,400.6 L482.8,400.6 L483.5,400.6 L484.2,400.6 L485,400.6 L485.8,400.6 L486.5,400.6 L487.2,400.6 L488,400.6 L488.8,400.6 L489.5,400.6 L490.2,400.6 L491,400.6 L491.8,400.6 L492.5,400.6 L493.2,400.6 L494,400.6 L494.8,400.6 L495.5,400.6 L496.2,400.6 L497,400.6 L497.8,400.6 L498.5,400.6 L499.2,400.6 L500,400.6 L500.8,400.6 L501.5,400.6 L502.2,400.6 L503,400.6 L503.8,400.6 L504.5,400.6 L505.2,400.6 L506,400.6 L506.8,400.6 L507.5,400.6 L508.2,400.6 L509,400.6 L509.8,400.6 L510.5,400.6 L511.2,400.6 L512,400.6 L512.8,400.6 L513.5,400.6 L514.2,400.6 L515,400.6 L515.8,400.6 L516.5,400.6 L517.2,400.6 L518,400.6 L518.8,400.6 L519.5,400.6 L520.2,400.6 L521,400.6 L521.8,400.6 L522.5,400.6 L523.2,400.6 L524,400.6 L524.8,400.6 L525.5,400.6 L526.2,400.6 L527,400.6 L527.8,400.6 L528.5,400.6 L529.2,400.6 L530,400.6 L530.8,400.6 L531.5,400.6 L532.2,400.6 L533,400.6 L533.8,400.6 L534.5,400.6 L535.2,400.6 L536,400.6 L536.8,400.6 L537.5,400.6 L538.2,400.6 L539,400.6 L539.8,400.6 L540.5,400.6 L541.2,400.6 L542,400.6 L542.8,400.6 L543.5,400.6 L544.2,400.6 L545,400.6 L545.8,400.6 L546.5,400.6 L547.2,400.6 L548,400.6 L548.8,400.6 L549.5,400.6 L550.2,400.6 L551,400.6 L551.8,400.6 L552.5,400.6 L553.2,400.6 L554,400.6 L554.8,400.6 L555.5,400.6 L556.2,400.6 L557,400.6 L557.8,400.6 L558.5,400.6 L559.2,400.6 L560,400.6 L560.8,400.6 L561.5,400.6 L562.2,400.6 L563,400.6 L563.8,400.6 L564.5,400.6 L565.2,400.6 L566,400.6 L566.8,400.6 L567.5,400.6 L568.2,400.6 L569,400.6 L569.8,400.6 L570.5,400.6 L571.2,400.6 L572,400.6 L572.8,400.6 L573.5,400.6 L574.2,400.6 L575,400.6 L575.8,400.6 L576.5,400.6 L577.2,400.6 L578,400.6 L578.8,400.6 L579.5,400.6 L580.2,400.6 L581,400.6 L581.8,400.6" stroke="#6c92bd"/>
<path d="M168,394.8 L168.8,394.7 L169.5,394.7 L170.2,394.7 L171,394.7 L171.8,394.7 L172.5,394.7 L173.2,394.7 L174,394.7 L174.8,394.7 L175.5,394.7 L176.2,394.7 L177,394.7 L177.8,394.7 L178.5,394.7 L179.2,394.6 L180,394.6 L180.8,394.6 L181.5,394.6 L182.2,394.6 L183,394.6 L183.8,394.6 L184.5,394.6 L185.2,394.6 L186,394.6 L186.8,394.6 L187.5,394.5 L188.2,394.5 L189,394.5 L189.8,394.5 L190.5,394.5 L191.2,394.5 L192,394.5 L192.8,394.5 L193.5,394.5 L194.2,394.5 L195,394.5 L195.8,394.4 L196.5,394.4 L197.2,394.4 L198,394.4 L198.8,394.4 L199.5,394.4 L200.2,394.4 L201,394.4 L201.8,394.4 L202.5,394.3 L203.2,394.3 L204,394.3 L204.8,394.3 L205.5,394.3 L206.2,394.3 L207,394.3 L207.8,394.3 L208.5,394.2 L209.2,394.2 L210,394.2 L210.8,394.2 L211.5,394.2 L212.2,394.2 L213,394.2 L213.8,394.2 L214.5,394.1 L215.2,394.1 L216,394.1 L216.8,394.1 L217.5,394.1 L218.2,394.1 L219,394.1 L219.8,394 L220.5,394 L221.2,394 L222,394 L222.8,394 L223.5,394 L224.2,394 L225,393.9 L225.8,393.9 L226.5,393.9 L227.2,393.9 L228,393.9 L228.8,393.9 L229.5,393.8 L230.2,393.8 L231,393.8 L231.8,393.8 L232.5,393.8 L233.2,393.8 L234,393.7 L234.8,393.7 L235.5,393.7 L236.2,393.7 L237,393.7 L237.8,393.7 L238.5,393.6 L239.2,393.6 L240,393.6 L240.8,393.6 L241.5,393.6 L242.2,393.5 L243,393.5 L243.8,393.5 L244.5,393.5 L245.2,393.5 L246,393.4 L246.8,393.4 L247.5,393.4 L248.2,393.4 L249,393.3 L249.8,393.3 L250.5,393.3 L251.2,393.3 L252,393.3 L252.8,393.2 L253.5,393.2 L254.2,393.2 L255,393.2 L255.8,393.1 L256.5,393.1 L257.2,393.1 L258,393.1 L258.8,393 L259.5,393 L260.2,393 L261,393 L261.8,392.9 L262.5,392.9 L263.2,392.9 L264,392.9 L264.8,392.8 L265.5,392.8 L266.2,392.8 L267,392.7 L267.8,392.7 L268.5,392.7 L269.2,392.7 L270,392.6 L270.8,392.6 L271.5,392.6 L272.2,392.5 L273,392.5 L273.8,392.5 L274.5,392.4 L275.2,392.4 L276,392.4 L276.8,392.3 L277.5,392.3 L278.2,392.3 L279,392.2 L279.8,392.2 L280.5,392.2 L281.2,392.1 L282,392.1 L282.8,392.1 L283.5,392 L284.2,392 L285,392 L285.8,391.9 L286.5,391.9 L287.2,391.9 L288,391.8 L288.8,391.8 L289.5,391.7 L290.2,391.7 L291,391.7 L291.8,391.6 L292.5,391.6 L293.2,391.5 L294,391.5 L294.8,391.5 L295.5,391.4 L296.2,391.4 L297,391.3 L297.8,391.3 L298.5,391.2 L299.2,391.2 L300,391.1 L300.8,391.1 L301.5,391.1 L302.2,391 L303,391 L303.8,390.9 L304.5,390.9 L305.2,390.8 L306,390.8 L306.8,390.7 L307.5,390.7 L308.2,390.6 L309,390.6 L309.8,390.5 L310.5,390.5 L311.2,390.4 L312,390.4 L312.8,390.3 L313.5,390.2 L314.2,390.2 L315,390.1 L315.8,390.1 L316.5,390 L317.2,390 L318,389.9 L318.8,389.8 L319.5,389.8 L320.2,389.7 L321,389.7 L321.8,389.6 L322.5,389.5 L323.2,389.5 L324,389.4 L324.8,389.3 L325.5,389.3 L326.2,389.2 L327,389.1 L327.8,389.1 L328.5,389 L329.2,388.9 L330,388.9 L330.8,388.8 L331.5,388.7 L332.2,388.6 L333,388.6 L333.8,388.5 L334.5,388.4 L335.2,388.3 L336,388.2 L336.8,388.2 L337.5,388.1 L338.2,388 L339,387.9 L339.8,387.7 L340.5,387.6 L341.2,387.5 L342,387.4 L342.8,387.2 L343.5,387 L344.2,386.8 L345,386.6 L345.8,386.4 L346.5,386.1 L347.2,385.8 L348,385.4 L348.8,385 L349.5,384.6 L350.2,384 L351,383.4 L351.8,382.7 L352.5,382 L353.2,381.1 L354,380.1 L354.8,378.9 L355.5,377.6 L356.2,376.2 L357,374.6 L357.8,372.8 L358.5,370.8 L359.2,368.6 L360,366.2 L360.8,363.6 L361.5,360.7 L362.2,357.6 L363,354.2 L363.8,350.6 L364.5,346.8 L365.2,342.7 L366,338.4 L366.8,333.8 L367.5,329.1 L368.2,324.1 L369,319 L369.8,313.8 L370.5,308.5 L371.2,303.1 L372,297.7 L372.8,292.3 L373.5,287 L374.2,281.8 L375,276.8 L375.8,272 L376.5,267.4 L377.2,263.2 L378,259.2 L378.8,255.7 L379.5,252.6 L380.2,250 L381,247.9 L381.8,246.3 L382.5,245.2 L383.2,244.6 L384,244.9 L384.8,246 L385.5,247.9 L386.2,250.6 L387,254.1 L387.8,258.2 L388.5,263 L389.2,268.3 L390,274.1 L390.8,280.3 L391.5,286.8 L392.2,293.5 L393,300.3 L393.8,307.1 L394.5,314 L395.2,320.7 L396,327.2 L396.8,333.5 L397.5,339.6 L398.2,345.3 L399,350.7 L399.8,355.8 L400.5,360.5 L401.2,364.8 L402,368.7 L402.8,372.2 L403.5,375.4 L404.2,378.3 L405,380.8 L405.8,383.1 L406.5,385 L407.2,386.7 L408,388.2 L408.8,389.4 L409.5,390.5 L410.2,391.4 L411,392.2 L411.8,392.9 L412.5,393.4 L413.2,393.8 L414,394.2 L414.8,394.5 L415.5,394.8 L416.2,395 L417,395.1 L417.8,395.3 L418.5,395.4 L419.2,395.5 L420,395.6 L420.8,395.6 L421.5,395.7 L422.2,395.7 L423,395.8 L423.8,395.8 L424.5,395.9 L425.2,395.9 L426,395.9 L426.8,396 L427.5,396 L428.2,396 L429,396 L429.8,396.1 L430.5,396.1 L431.2,396.1 L432,396.1 L432.8,396.2 L433.5,396.2 L434.2,396.2 L435,396.3 L435.8,396.3 L436.5,396.3 L437.2,396.3 L438,396.4 L438.8,396.4 L439.5,396.4 L440.2,396.5 L441,396.5 L441.8,396.5 L442.5,396.6 L443.2,396.6 L444,396.6 L444.8,396.7 L445.5,396.7 L446.2,396.7 L447,396.8 L447.8,396.8 L448.5,396.8 L449.2,396.9 L450,396.9 L450.8,396.9 L451.5,397 L452.2,397 L453,397 L453.8,397.1 L454.5,397.1 L455.2,397.1 L456,397.2 L456.8,397.2 L457.5,397.2 L458.2,397.3 L459,397.3 L459.8,397.3 L460.5,397.4 L461.2,397.4 L462,397.4 L462.8,397.5 L463.5,397.5 L464.2,397.5 L465,397.6 L465.8,397.6 L466.5,397.7 L467.2,397.7 L468,397.7 L468.8,397.8 L469.5,397.8 L470.2,397.8 L471,397.9 L471.8,397.9 L472.5,397.9 L473.2,398 L474,398 L474.8,398 L475.5,398.1 L476.2,398.1 L477,398.1 L477.8,398.2 L478.5,398.2 L479.2,398.2 L480,398.3 L480.8,398.3 L481.5,398.3 L482.2,398.4 L483,398.4 L483.8,398.4 L484.5,398.5 L485.2,398.5 L486,398.5 L486.8,398.6 L487.5,398.6 L488.2,398.6 L489,398.7 L489.8,398.7 L490.5,398.7 L491.2,398.8 L492,398.8 L492.8,398.8 L493.5,398.9 L494.2,398.9 L495,398.9 L495.8,398.9 L496.5,399 L497.2,399 L498,399 L498.8,399.1 L499.5,399.1 L500.2,399.1 L501,399.1 L501.8,399.2 L502.5,399.2 L503.2,399.2 L504,399.2 L504.8,399.3 L505.5,399.3 L506.2,399.3 L507,399.3 L507.8,399.4 L508.5,399.4 L509.2,399.4 L510,399.4 L510.8,399.4 L511.5,399.5 L512.2,399.5 L513,399.5 L513.8,399.5 L514.5,399.5 L515.2,399.6 L516,399.6 L516.8,399.6 L517.5,399.6 L518.2,399.6 L519,399.6 L519.8,399.6 L520.5,399.7 L521.2,399.7 L522,399.7 L522.8,399.7 L523.5,399.7 L524.2,399.7 L525,399.7 L525.8,399.7 L526.5,399.7 L527.2,399.8 L528,399.8 L528.8,399.8 L529.5,399.8 L530.2,399.8 L531,399.8 L531.8,399.8 L532.5,399.8 L533.2,399.8 L534,399.8 L534.8,399.8 L535.5,399.8 L536.2,399.8 L537,399.8 L537.8,399.8 L538.5,399.8 L539.2,399.8 L540,399.8 L540.8,399.8 L541.5,399.8 L542.2,399.8 L543,399.8 L543.8,399.8 L544.5,399.8 L545.2,399.8 L546,399.8 L546.8,399.8 L547.5,399.8 L548.2,399.8 L549,399.8 L549.8,399.8 L550.5,399.8 L551.2,399.8 L552,399.8 L552.8,399.8 L553.5,399.8 L554.2,399.8 L555,399.8 L555.8,399.8 L556.5,399.8 L557.2,399.8 L558,399.8 L558.8,399.8 L559.5,399.8 L560.2,399.8 L561,399.8 L561.8,399.8 L562.5,399.8 L563.2,399.8 L564,399.8 L564.8,399.8 L565.5,399.8 L566.2,399.8 L567,399.8 L567.8,399.8 L568.5,399.8 L569.2,399.8 L570,399.8 L570.8,399.8 L571.5,399.8 L572.2,399.8 L573,399.8 L573.8,399.8 L574.5,399.8 L575.2,399.8 L576,399.8 L576.8,399.8 L577.5,399.8 L578.2,399.8 L579,399.8 L579.8,399.8 L580.5,399.8 L581.2,399.8" stroke="#789cc3"/>
<path d="M228,395.3 L228.8,395.3 L229.5,395.3 L230.2,395.3 L231,395.3 L231.8,395.3 L232.5,395.3 L233.2,395.3 L234,395.3 L234.8,395.3 L235.5,395.3 L236.2,395.3 L237,395.3 L237.8,395.3 L238.5,395.3 L239.2,395.2 L240,395.2 L240.8,395.2 L241.5,395.2 L242.2,395.2 L243,395.2 L243.8,395.2 L244.5,395.2 L245.2,395.2 L246,395.2 L246.8,395.2 L247.5,395.2 L248.2,395.2 L249,395.2 L249.8,395.1 L250.5,395.1 L251.2,395.1 L252,395.1 L252.8,395.1 L253.5,395.1 L254.2,395.1 L255,395.1 L255.8,395.1 L256.5,395.1 L257.2,395.1 L258,395 L258.8,395 L259.5,395 L260.2,395 L261,395 L261.8,395 L262.5,395 L263.2,395 L264,395 L264.8,395 L265.5,394.9 L266.2,394.9 L267,394.9 L267.8,394.9 L268.5,394.9 L269.2,394.9 L270,394.9 L270.8,394.9 L271.5,394.9 L272.2,394.8 L273,394.8 L273.8,394.8 L274.5,394.8 L275.2,394.8 L276,394.8 L276.8,394.8 L277.5,394.8 L278.2,394.7 L279,394.7 L279.8,394.7 L280.5,394.7 L281.2,394.7 L282,394.7 L282.8,394.7 L283.5,394.6 L284.2,394.6 L285,394.6 L285.8,394.6 L286.5,394.6 L287.2,394.6 L288,394.6 L288.8,394.5 L289.5,394.5 L290.2,394.5 L291,394.5 L291.8,394.5 L292.5,394.5 L293.2,394.4 L294,394.4 L294.8,394.4 L295.5,394.4 L296.2,394.4 L297,394.4 L297.8,394.3 L298.5,394.3 L299.2,394.3 L300,394.3 L300.8,394.3 L301.5,394.2 L302.2,394.2 L303,394.2 L303.8,394.2 L304.5,394.2 L305.2,394.1 L306,394.1 L306.8,394.1 L307.5,394.1 L308.2,394.1 L309,394 L309.8,394 L310.5,394 L311.2,394 L312,393.9 L312.8,393.9 L313.5,393.9 L314.2,393.9 L315,393.9 L315.8,393.8 L316.5,393.8 L317.2,393.8 L318,393.8 L318.8,393.7 L319.5,393.7 L320.2,393.7 L321,393.6 L321.8,393.6 L322.5,393.6 L323.2,393.6 L324,393.5 L324.8,393.5 L325.5,393.5 L326.2,393.5 L327,393.4 L327.8,393.4 L328.5,393.4 L329.2,393.3 L330,393.3 L330.8,393.3 L331.5,393.2 L332.2,393.2 L333,393.2 L333.8,393.1 L334.5,393.1 L335.2,393.1 L336,393 L336.8,393 L337.5,393 L338.2,392.9 L339,392.9 L339.8,392.9 L340.5,392.8 L341.2,392.8 L342,392.7 L342.8,392.7 L343.5,392.7 L344.2,392.6 L345,392.6 L345.8,392.6 L346.5,392.5 L347.2,392.5 L348,392.4 L348.8,392.4 L349.5,392.3 L350.2,392.3 L351,392.3 L351.8,392.2 L352.5,392.2 L353.2,392.1 L354,392.1 L354.8,392 L355.5,392 L356.2,391.9 L357,391.9 L357.8,391.8 L358.5,391.8 L359.2,391.7 L360,391.7 L360.8,391.6 L361.5,391.6 L362.2,391.5 L363,391.5 L363.8,391.4 L364.5,391.4 L365.2,391.3 L366,391.2 L366.8,391.2 L367.5,391.1 L368.2,391.1 L369,391 L369.8,391 L370.5,390.9 L371.2,390.8 L372,390.8 L372.8,390.7 L373.5,390.6 L374.2,390.6 L375,390.5 L375.8,390.4 L376.5,390.4 L377.2,390.3 L378,390.2 L378.8,390.2 L379.5,390.1 L380.2,390 L381,389.9 L381.8,389.9 L382.5,389.8 L383.2,389.7 L384,389.6 L384.8,389.5 L385.5,389.4 L386.2,389.3 L387,389.2 L387.8,389.1 L388.5,389 L389.2,388.9 L390,388.7 L390.8,388.6 L391.5,388.4 L392.2,388.2 L393,388 L393.8,387.8 L394.5,387.5 L395.2,387.2 L396,386.9 L396.8,386.6 L397.5,386.2 L398.2,385.7 L399,385.2 L399.8,384.6 L400.5,384 L401.2,383.3 L402,382.5 L402.8,381.6 L403.5,380.6 L404.2,379.5 L405,378.2 L405.8,376.9 L406.5,375.4 L407.2,373.7 L408,371.9 L408.8,370 L409.5,367.8 L410.2,365.5 L411,363.1 L411.8,360.4 L412.5,357.6 L413.2,354.6 L414,351.4 L414.8,348 L415.5,344.5 L416.2,340.8 L417,337.1 L417.8,333.1 L418.5,329.1 L419.2,325 L420,320.9 L420.8,316.7 L421.5,312.5 L422.2,308.3 L423,304.2 L423.8,300.2 L424.5,296.3 L425.2,292.6 L426,289 L426.8,285.7 L427.5,282.6 L428.2,279.7 L429,277.2 L429.8,275 L430.5,273.2 L431.2,271.7 L432,270.6 L432.8,269.9 L433.5,269.6 L434.2,270.1 L435,271.2 L435.8,273 L436.5,275.5 L437.2,278.6 L438,282.3 L438.8,286.4 L439.5,291 L440.2,296 L441,301.3 L441.8,306.7 L442.5,312.4 L443.2,318.1 L444,323.8 L444.8,329.5 L445.5,335.1 L446.2,340.5 L447,345.7 L447.8,350.7 L448.5,355.4 L449.2,359.9 L450,364 L450.8,367.8 L451.5,371.3 L452.2,374.5 L453,377.3 L453.8,379.9 L454.5,382.2 L455.2,384.3 L456,386 L456.8,387.6 L457.5,389 L458.2,390.1 L459,391.1 L459.8,392 L460.5,392.7 L461.2,393.3 L462,393.8 L462.8,394.2 L463.5,394.6 L464.2,394.9 L465,395.1 L465.8,395.3 L466.5,395.5 L467.2,395.6 L468,395.7 L468.8,395.8 L469.5,395.9 L470.2,395.9 L471,396 L471.8,396 L472.5,396.1 L473.2,396.1 L474,396.1 L474.8,396.2 L475.5,396.2 L476.2,396.2 L477,396.2 L477.8,396.3 L478.5,396.3 L479.2,396.3 L480,396.3 L480.8,396.3 L481.5,396.4 L482.2,396.4 L483,396.4 L483.8,396.4 L484.5,396.4 L485.2,396.5 L486,396.5 L486.8,396.5 L487.5,396.5 L488.2,396.6 L489,396.6 L489.8,396.6 L490.5,396.6 L491.2,396.7 L492,396.7 L492.8,396.7 L493.5,396.7 L494.2,396.8 L495,396.8 L495.8,396.8 L496.5,396.8 L497.2,396.9 L498,396.9 L498.8,396.9 L499.5,396.9 L500.2,397 L501,397 L501.8,397 L502.5,397 L503.2,397.1 L504,397.1 L504.8,397.1 L505.5,397.1 L506.2,397.2 L507,397.2 L507.8,397.2 L508.5,397.2 L509.2,397.3 L510,397.3 L510.8,397.3 L511.5,397.4 L512.2,397.4 L513,397.4 L513.8,397.4 L514.5,397.5 L515.2,397.5 L516,397.5 L516.8,397.5 L517.5,397.6 L518.2,397.6 L519,397.6 L519.8,397.7 L520.5,397.7 L521.2,397.7 L522,397.7 L522.8,397.8 L523.5,397.8 L524.2,397.8 L525,397.8 L525.8,397.9 L526.5,397.9 L527.2,397.9 L528,398 L528.8,398 L529.5,398 L530.2,398 L531,398.1 L531.8,398.1 L532.5,398.1 L533.2,398.1 L534,398.2 L534.8,398.2 L535.5,398.2 L536.2,398.2 L537,398.3 L537.8,398.3 L538.5,398.3 L539.2,398.3 L540,398.4 L540.8,398.4 L541.5,398.4 L542.2,398.4 L543,398.5 L543.8,398.5 L544.5,398.5 L545.2,398.5 L546,398.5 L546.8,398.6 L547.5,398.6 L548.2,398.6 L549,398.6 L549.8,398.7 L550.5,398.7 L551.2,398.7 L552,398.7 L552.8,398.7 L553.5,398.8 L554.2,398.8 L555,398.8 L555.8,398.8 L556.5,398.8 L557.2,398.8 L558,398.9 L558.8,398.9 L559.5,398.9 L560.2,398.9 L561,398.9 L561.8,398.9 L562.5,399 L563.2,399 L564,399 L564.8,399 L565.5,399 L566.2,399 L567,399 L567.8,399.1 L568.5,399.1 L569.2,399.1 L570,399.1 L570.8,399.1 L571.5,399.1 L572.2,399.1 L573,399.1 L573.8,399.1 L574.5,399.1 L575.2,399.1 L576,399.2 L576.8,399.2 L577.5,399.2 L578.2,399.2 L579,399.2 L579.8,399.2 L580.5,399.2 L581.2,399.2" stroke="#84a5ca"/>
<path d="M254,397.9 L254.8,397.9 L255.5,397.9 L256.2,397.9 L257,397.9 L257.8,397.9 L258.5,397.9 L259.2,397.9 L260,397.9 L260.8,397.9 L261.5,397.9 L262.2,397.9 L263,397.9 L263.8,397.9 L264.5,397.9 L265.2,397.8 L266,397.8 L266.8,397.8 L267.5,397.8 L268.2,397.8 L269,397.8 L269.8,397.8 L270.5,397.8 L271.2,397.8 L272,397.8 L272.8,397.8 L273.5,397.8 L274.2,397.8 L275,397.8 L275.8,397.8 L276.5,397.8 L277.2,397.8 L278,397.8 L278.8,397.8 L279.5,397.8 L280.2,397.7 L281,397.7 L281.8,397.7 L282.5,397.7 L283.2,397.7 L284,397.7 L284.8,397.7 L285.5,397.7 L286.2,397.7 L287,397.7 L287.8,397.7 L288.5,397.7 L289.2,397.7 L290,397.7 L290.8,397.7 L291.5,397.7 L292.2,397.6 L293,397.6 L293.8,397.6 L294.5,397.6 L295.2,397.6 L296,397.6 L296.8,397.6 L297.5,397.6 L298.2,397.6 L299,397.6 L299.8,397.6 L300.5,397.6 L301.2,397.6 L302,397.6 L302.8,397.5 L303.5,397.5 L304.2,397.5 L305,397.5 L305.8,397.5 L306.5,397.5 L307.2,397.5 L308,397.5 L308.8,397.5 L309.5,397.5 L310.2,397.5 L311,397.4 L311.8,397.4 L312.5,397.4 L313.2,397.4 L314,397.4 L314.8,397.4 L315.5,397.4 L316.2,397.4 L317,397.4 L317.8,397.4 L318.5,397.3 L319.2,397.3 L320,397.3 L320.8,397.3 L321.5,397.3 L322.2,397.3 L323,397.3 L323.8,397.3 L324.5,397.3 L325.2,397.2 L326,397.2 L326.8,397.2 L327.5,397.2 L328.2,397.2 L329,397.2 L329.8,397.2 L330.5,397.2 L331.2,397.1 L332,397.1 L332.8,397.1 L333.5,397.1 L334.2,397.1 L335,397.1 L335.8,397.1 L336.5,397 L337.2,397 L338,397 L338.8,397 L339.5,397 L340.2,397 L341,397 L341.8,396.9 L342.5,396.9 L343.2,396.9 L344,396.9 L344.8,396.9 L345.5,396.9 L346.2,396.8 L347,396.8 L347.8,396.8 L348.5,396.8 L349.2,396.8 L350,396.8 L350.8,396.7 L351.5,396.7 L352.2,396.7 L353,396.7 L353.8,396.7 L354.5,396.6 L355.2,396.6 L356,396.6 L356.8,396.6 L357.5,396.6 L358.2,396.5 L359,396.5 L359.8,396.5 L360.5,396.5 L361.2,396.5 L362,396.4 L362.8,396.4 L363.5,396.4 L364.2,396.4 L365,396.3 L365.8,396.3 L366.5,396.3 L367.2,396.3 L368,396.2 L368.8,396.2 L369.5,396.2 L370.2,396.2 L371,396.1 L371.8,396.1 L372.5,396.1 L373.2,396.1 L374,396 L374.8,396 L375.5,396 L376.2,396 L377,395.9 L377.8,395.9 L378.5,395.9 L379.2,395.8 L380,395.8 L380.8,395.8 L381.5,395.8 L382.2,395.7 L383,395.7 L383.8,395.7 L384.5,395.6 L385.2,395.6 L386,395.6 L386.8,395.5 L387.5,395.5 L388.2,395.5 L389,395.4 L389.8,395.4 L390.5,395.4 L391.2,395.3 L392,395.3 L392.8,395.3 L393.5,395.2 L394.2,395.2 L395,395.1 L395.8,395.1 L396.5,395.1 L397.2,395 L398,395 L398.8,394.9 L399.5,394.9 L400.2,394.9 L401,394.8 L401.8,394.8 L402.5,394.7 L403.2,394.7 L404,394.6 L404.8,394.6 L405.5,394.6 L406.2,394.5 L407,394.5 L407.8,394.4 L408.5,394.4 L409.2,394.3 L410,394.3 L410.8,394.2 L411.5,394.2 L412.2,394.1 L413,394.1 L413.8,394 L414.5,394 L415.2,393.9 L416,393.9 L416.8,393.8 L417.5,393.7 L418.2,393.7 L419,393.6 L419.8,393.6 L420.5,393.5 L421.2,393.5 L422,393.4 L422.8,393.3 L423.5,393.3 L424.2,393.2 L425,393.1 L425.8,393.1 L426.5,393 L427.2,393 L428,392.9 L428.8,392.8 L429.5,392.7 L430.2,392.7 L431,392.6 L431.8,392.5 L432.5,392.4 L433.2,392.3 L434,392.2 L434.8,392.1 L435.5,392 L436.2,391.9 L437,391.8 L437.8,391.7 L438.5,391.5 L439.2,391.4 L440,391.2 L440.8,391 L441.5,390.8 L442.2,390.6 L443,390.3 L443.8,390 L444.5,389.7 L445.2,389.3 L446,388.9 L446.8,388.5 L447.5,387.9 L448.2,387.4 L449,386.7 L449.8,386 L450.5,385.2 L451.2,384.3 L452,383.3 L452.8,382.2 L453.5,380.9 L454.2,379.6 L455,378.1 L455.8,376.5 L456.5,374.7 L457.2,372.8 L458,370.7 L458.8,368.5 L459.5,366.1 L460.2,363.5 L461,360.8 L461.8,357.9 L462.5,354.9 L463.2,351.7 L464,348.4 L464.8,344.9 L465.5,341.4 L466.2,337.7 L467,333.9 L467.8,330.1 L468.5,326.2 L469.2,322.4 L470,318.5 L470.8,314.6 L471.5,310.9 L472.2,307.2 L473,303.6 L473.8,300.2 L474.5,296.9 L475.2,293.9 L476,291.1 L476.8,288.6 L477.5,286.3 L478.2,284.3 L479,282.7 L479.8,281.4 L480.5,280.4 L481.2,279.8 L482,279.6 L482.8,280.2 L483.5,281.4 L484.2,283.2 L485,285.8 L485.8,288.9 L486.5,292.5 L487.2,296.6 L488,301.1 L488.8,306 L489.5,311.1 L490.2,316.4 L491,321.9 L491.8,327.4 L492.5,332.9 L493.2,338.3 L494,343.6 L494.8,348.7 L495.5,353.6 L496.2,358.2 L497,362.6 L497.8,366.7 L498.5,370.4 L499.2,373.9 L500,377.1 L500.8,379.9 L501.5,382.5 L502.2,384.8 L503,386.8 L503.8,388.6 L504.5,390.1 L505.2,391.4 L506,392.6 L506.8,393.6 L507.5,394.4 L508.2,395.1 L509,395.7 L509.8,396.2 L510.5,396.6 L511.2,396.9 L512,397.2 L512.8,397.4 L513.5,397.6 L514.2,397.8 L515,397.9 L515.8,398 L516.5,398 L517.2,398.1 L518,398.2 L518.8,398.2 L519.5,398.2 L520.2,398.2 L521,398.3 L521.8,398.3 L522.5,398.3 L523.2,398.3 L524,398.3 L524.8,398.3 L525.5,398.3 L526.2,398.3 L527,398.3 L527.8,398.3 L528.5,398.4 L529.2,398.4 L530,398.4 L530.8,398.4 L531.5,398.4 L532.2,398.4 L533,398.4 L533.8,398.4 L534.5,398.4 L535.2,398.4 L536,398.4 L536.8,398.4 L537.5,398.4 L538.2,398.4 L539,398.4 L539.8,398.5 L540.5,398.5 L541.2,398.5 L542,398.5 L542.8,398.5 L543.5,398.5 L544.2,398.5 L545,398.5 L545.8,398.5 L546.5,398.5 L547.2,398.5 L548,398.5 L548.8,398.5 L549.5,398.5 L550.2,398.6 L551,398.6 L551.8,398.6 L552.5,398.6 L553.2,398.6 L554,398.6 L554.8,398.6 L555.5,398.6 L556.2,398.6 L557,398.6 L557.8,398.6 L558.5,398.6 L559.2,398.7 L560,398.7 L560.8,398.7 L561.5,398.7 L562.2,398.7 L563,398.7 L563.8,398.7 L564.5,398.7 L565.2,398.7 L566,398.7 L566.8,398.7 L567.5,398.7 L568.2,398.7 L569,398.8 L569.8,398.8 L570.5,398.8 L571.2,398.8 L572,398.8 L572.8,398.8 L573.5,398.8 L574.2,398.8 L575,398.8 L575.8,398.8 L576.5,398.8 L577.2,398.8 L578,398.9 L578.8,398.9 L579.5,398.9 L580.2,398.9 L581,398.9 L581.8,398.9" stroke="#91afd0"/>
<path d="M319,393.9 L319.8,393.9 L320.5,393.9 L321.2,393.9 L322,393.9 L322.8,393.9 L323.5,393.8 L324.2,393.8 L325,393.8 L325.8,393.8 L326.5,393.8 L327.2,393.8 L328,393.8 L328.8,393.7 L329.5,393.7 L330.2,393.7 L331,393.7 L331.8,393.7 L332.5,393.7 L333.2,393.7 L334,393.6 L334.8,393.6 L335.5,393.6 L336.2,393.6 L337,393.6 L337.8,393.6 L338.5,393.6 L339.2,393.5 L340,393.5 L340.8,393.5 L341.5,393.5 L342.2,393.5 L343,393.5 L343.8,393.4 L344.5,393.4 L345.2,393.4 L346,393.4 L346.8,393.4 L347.5,393.4 L348.2,393.4 L349,393.3 L349.8,393.3 L350.5,393.3 L351.2,393.3 L352,393.3 L352.8,393.2 L353.5,393.2 L354.2,393.2 L355,393.2 L355.8,393.2 L356.5,393.2 L357.2,393.1 L358,393.1 L358.8,393.1 L359.5,393.1 L360.2,393.1 L361,393.1 L361.8,393 L362.5,393 L363.2,393 L364,393 L364.8,393 L365.5,392.9 L366.2,392.9 L367,392.9 L367.8,392.9 L368.5,392.9 L369.2,392.8 L370,392.8 L370.8,392.8 L371.5,392.8 L372.2,392.8 L373,392.7 L373.8,392.7 L374.5,392.7 L375.2,392.7 L376,392.7 L376.8,392.6 L377.5,392.6 L378.2,392.6 L379,392.6 L379.8,392.6 L380.5,392.5 L381.2,392.5 L382,392.5 L382.8,392.5 L383.5,392.4 L384.2,392.4 L385,392.4 L385.8,392.4 L386.5,392.4 L387.2,392.3 L388,392.3 L388.8,392.3 L389.5,392.3 L390.2,392.2 L391,392.2 L391.8,392.2 L392.5,392.2 L393.2,392.1 L394,392.1 L394.8,392.1 L395.5,392.1 L396.2,392 L397,392 L397.8,392 L398.5,392 L399.2,391.9 L400,391.9 L400.8,391.9 L401.5,391.9 L402.2,391.8 L403,391.8 L403.8,391.8 L404.5,391.8 L405.2,391.7 L406,391.7 L406.8,391.7 L407.5,391.7 L408.2,391.6 L409,391.6 L409.8,391.6 L410.5,391.5 L411.2,391.5 L412,391.5 L412.8,391.5 L413.5,391.4 L414.2,391.4 L415,391.4 L415.8,391.3 L416.5,391.3 L417.2,391.3 L418,391.3 L418.8,391.2 L419.5,391.2 L420.2,391.2 L421,391.1 L421.8,391.1 L422.5,391.1 L423.2,391 L424,391 L424.8,391 L425.5,391 L426.2,390.9 L427,390.9 L427.8,390.9 L428.5,390.8 L429.2,390.8 L430,390.8 L430.8,390.7 L431.5,390.7 L432.2,390.7 L433,390.6 L433.8,390.6 L434.5,390.6 L435.2,390.5 L436,390.5 L436.8,390.5 L437.5,390.4 L438.2,390.4 L439,390.4 L439.8,390.3 L440.5,390.3 L441.2,390.2 L442,390.2 L442.8,390.2 L443.5,390.1 L444.2,390.1 L445,390.1 L445.8,390 L446.5,390 L447.2,390 L448,389.9 L448.8,389.9 L449.5,389.8 L450.2,389.8 L451,389.8 L451.8,389.7 L452.5,389.7 L453.2,389.6 L454,389.6 L454.8,389.6 L455.5,389.5 L456.2,389.5 L457,389.4 L457.8,389.4 L458.5,389.3 L459.2,389.3 L460,389.3 L460.8,389.2 L461.5,389.2 L462.2,389.1 L463,389.1 L463.8,389 L464.5,389 L465.2,388.9 L466,388.9 L466.8,388.8 L467.5,388.7 L468.2,388.7 L469,388.6 L469.8,388.6 L470.5,388.5 L471.2,388.4 L472,388.3 L472.8,388.2 L473.5,388.1 L474.2,388.1 L475,387.9 L475.8,387.8 L476.5,387.7 L477.2,387.6 L478,387.4 L478.8,387.3 L479.5,387.1 L480.2,386.9 L481,386.7 L481.8,386.5 L482.5,386.3 L483.2,386 L484,385.7 L484.8,385.4 L485.5,385.1 L486.2,384.7 L487,384.3 L487.8,383.9 L488.5,383.4 L489.2,382.9 L490,382.4 L490.8,381.8 L491.5,381.2 L492.2,380.5 L493,379.8 L493.8,379 L494.5,378.1 L495.2,377.3 L496,376.3 L496.8,375.3 L497.5,374.2 L498.2,373.1 L499,371.9 L499.8,370.6 L500.5,369.3 L501.2,367.9 L502,366.5 L502.8,364.9 L503.5,363.4 L504.2,361.7 L505,360 L505.8,358.3 L506.5,356.5 L507.2,354.6 L508,352.7 L508.8,350.8 L509.5,348.8 L510.2,346.8 L511,344.8 L511.8,342.7 L512.5,340.7 L513.2,338.7 L514,336.6 L514.8,334.6 L515.5,332.6 L516.2,330.6 L517,328.7 L517.8,326.8 L518.5,325 L519.2,323.3 L520,321.6 L520.8,320 L521.5,318.5 L522.2,317.1 L523,315.8 L523.8,314.7 L524.5,313.6 L525.2,312.7 L526,311.9 L526.8,311.2 L527.5,310.7 L528.2,310.3 L529,310.1 L529.8,310 L530.5,310.3 L531.2,310.9 L532,311.9 L532.8,313.2 L533.5,314.8 L534.2,316.7 L535,318.9 L535.8,321.3 L536.5,323.9 L537.2,326.7 L538,329.7 L538.8,332.7 L539.5,335.9 L540.2,339.2 L541,342.5 L541.8,345.8 L542.5,349.1 L543.2,352.4 L544,355.6 L544.8,358.7 L545.5,361.7 L546.2,364.6 L547,367.4 L547.8,370 L548.5,372.5 L549.2,374.8 L550,377 L550.8,379 L551.5,380.9 L552.2,382.6 L553,384.2 L553.8,385.6 L554.5,386.9 L555.2,388.1 L556,389.2 L556.8,390.1 L557.5,390.9 L558.2,391.7 L559,392.3 L559.8,392.9 L560.5,393.4 L561.2,393.8 L562,394.2 L562.8,394.5 L563.5,394.8 L564.2,395 L565,395.2 L565.8,395.4 L566.5,395.6 L567.2,395.7 L568,395.8 L568.8,395.9 L569.5,396 L570.2,396 L571,396.1 L571.8,396.1 L572.5,396.2 L573.2,396.2 L574,396.2 L574.8,396.3 L575.5,396.3 L576.2,396.3 L577,396.3 L577.8,396.3 L578.5,396.4 L579.2,396.4 L580,396.4 L580.8,396.4 L581.5,396.4" stroke="#9db8d6"/>
</g>
<rect x="96" y="19.1" width="480.1" height="405.6" fill="none" stroke="#000" stroke-width="4.1"/>
<path d="M141,424.7 v-8M189.8,424.7 v-8M238.5,424.7 v-8M287.2,424.7 v-8M336,424.7 v-8M384.8,424.7 v-8M433.5,424.7 v-8M482.2,424.7 v-8M531,424.7 v-8" stroke="#000" stroke-width="4.0" fill="none"/>
<text transform="translate(158,449.7) rotate(-45)" font-size="29.2" text-anchor="end">0</text>
<text transform="translate(209.2,449.7) rotate(-45)" font-size="29.2" text-anchor="end">15</text>
<text transform="translate(258,449.7) rotate(-45)" font-size="29.2" text-anchor="end">30</text>
<text transform="translate(306.8,449.7) rotate(-45)" font-size="29.2" text-anchor="end">45</text>
<text transform="translate(353.5,449.7) rotate(-45)" font-size="29.2" text-anchor="end">60</text>
<text transform="translate(401.2,449.7) rotate(-45)" font-size="29.2" text-anchor="end">75</text>
<text transform="translate(449,449.7) rotate(-45)" font-size="29.2" text-anchor="end">90</text>
<text transform="translate(500.2,449.7) rotate(-45)" font-size="29.2" text-anchor="end">105</text>
<text transform="translate(549,449.7) rotate(-45)" font-size="29.2" text-anchor="end">120</text>
<text x="-1.5" y="30.2" font-size="42.5" text-anchor="start" fill="#000">a</text>
<text transform="translate(67.6,221.8) rotate(-90)" font-size="29.2" text-anchor="middle" fill="#000">Output intensity (a.u.)</text>
<text x="191" y="66" font-size="24.8" text-anchor="start" fill="#000">Pristine MAPbI<tspan font-size="16" dy="8.5">3</tspan><tspan dy="-8.5"> @95%RH</tspan></text>
<text x="336.2" y="512" font-size="29.2" text-anchor="middle" fill="#000">Time (min)</text>
</g>
<g id="pb">
<g clip-path="url(#cb)" fill="none" stroke-width="5.0" stroke-linecap="round" stroke-linejoin="round">
<path d="M736,375.6 L736.8,375.6 L737.5,375.5 L738.2,375.5 L739,375.4 L739.8,375.3 L740.5,375.3 L741.2,375.2 L742,375.2 L742.8,375.1 L743.5,375.1 L744.2,375 L745,374.9 L745.8,374.9 L746.5,374.8 L747.2,374.7 L748,374.7 L748.8,374.6 L749.5,374.5 L750.2,374.5 L751,374.4 L751.8,374.3 L752.5,374.3 L753.2,374.2 L754,374.1 L754.8,374 L755.5,373.9 L756.2,373.9 L757,373.8 L757.8,373.7 L758.5,373.6 L759.2,373.5 L760,373.4 L760.8,373.3 L761.5,373.2 L762.2,373.1 L763,372.9 L763.8,372.8 L764.5,372.7 L765.2,372.5 L766,372.4 L766.8,372.3 L767.5,372.1 L768.2,371.9 L769,371.7 L769.8,371.5 L770.5,371.3 L771.2,371.1 L772,370.9 L772.8,370.6 L773.5,370.3 L774.2,370 L775,369.6 L775.8,369.2 L776.5,368.7 L777.2,368.2 L778,367.6 L778.8,367 L779.5,366.2 L780.2,365.4 L781,364.4 L781.8,363.3 L782.5,362.1 L783.2,360.7 L784,359.1 L784.8,357.4 L785.5,355.4 L786.2,353.2 L787,350.8 L787.8,348.1 L788.5,345.1 L789.2,341.9 L790,338.3 L790.8,334.5 L791.5,330.3 L792.2,325.8 L793,321 L793.8,315.9 L794.5,310.5 L795.2,304.9 L796,298.9 L796.8,292.8 L797.5,286.5 L798.2,280 L799,273.5 L799.8,266.9 L800.5,260.3 L801.2,253.8 L802,247.4 L802.8,241.3 L803.5,235.6 L804.2,230.2 L805,225.3 L805.8,221 L806.5,217.3 L807.2,214.4 L808,212.2 L808.8,210.9 L809.5,210.5 L810.2,211.2 L811,213.1 L811.8,216.3 L812.5,220.6 L813.2,226 L814,232.2 L814.8,239.2 L815.5,246.8 L816.2,254.8 L817,263.1 L817.8,271.6 L818.5,280 L819.2,288.4 L820,296.5 L820.8,304.4 L821.5,311.8 L822.2,318.8 L823,325.3 L823.8,331.4 L824.5,336.9 L825.2,342 L826,346.5 L826.8,350.6 L827.5,354.2 L828.2,357.3 L829,360.1 L829.8,362.5 L830.5,364.6 L831.2,366.4 L832,367.9 L832.8,369.2 L833.5,370.4 L834.2,371.3 L835,372.2 L835.8,372.9 L836.5,373.6 L837.2,374.2 L838,374.8 L838.8,375.4 L839.5,375.9 L840.2,376.4 L841,376.9 L841.8,377.4 L842.5,377.9 L843.2,378.4 L844,378.9 L844.8,379.4 L845.5,379.9 L846.2,380.4 L847,380.9 L847.8,381.4 L848.5,381.9 L849.2,382.4 L850,382.9 L850.8,383.4 L851.5,383.9 L852.2,384.4 L853,384.9 L853.8,385.4 L854.5,385.8 L855.2,386.3 L856,386.8 L856.8,387.3 L857.5,387.7 L858.2,388.1 L859,388.6 L859.8,389 L860.5,389.4 L861.2,389.8 L862,390.2 L862.8,390.5 L863.5,390.9 L864.2,391.2 L865,391.5 L865.8,391.7 L866.5,392 L867.2,392.2 L868,392.5 L868.8,392.7 L869.5,392.9 L870.2,393.2 L871,393.4 L871.8,393.6 L872.5,393.8 L873.2,394 L874,394.2 L874.8,394.4 L875.5,394.6 L876.2,394.8 L877,395 L877.8,395.1 L878.5,395.3 L879.2,395.5 L880,395.6 L880.8,395.8 L881.5,395.9 L882.2,396 L883,396.2 L883.8,396.3 L884.5,396.4 L885.2,396.5 L886,396.6 L886.8,396.7 L887.5,396.8 L888.2,396.9 L889,396.9 L889.8,397 L890.5,397.1 L891.2,397.2 L892,397.3 L892.8,397.4 L893.5,397.5 L894.2,397.5 L895,397.6 L895.8,397.7 L896.5,397.8 L897.2,397.8 L898,397.9 L898.8,398 L899.5,398 L900.2,398.1 L901,398.2 L901.8,398.2 L902.5,398.3 L903.2,398.4 L904,398.4 L904.8,398.5 L905.5,398.6 L906.2,398.6 L907,398.7 L907.8,398.7 L908.5,398.8 L909.2,398.9 L910,398.9 L910.8,399 L911.5,399 L912.2,399.1 L913,399.1 L913.8,399.2 L914.5,399.2 L915.2,399.3 L916,399.3 L916.8,399.4 L917.5,399.4 L918.2,399.5 L919,399.5 L919.8,399.6 L920.5,399.6 L921.2,399.7 L922,399.7 L922.8,399.8 L923.5,399.8 L924.2,399.8 L925,399.9 L925.8,399.9 L926.5,400 L927.2,400 L928,400.1 L928.8,400.1 L929.5,400.2 L930.2,400.2 L931,400.2 L931.8,400.3 L932.5,400.3 L933.2,400.4 L934,400.4 L934.8,400.5 L935.5,400.5 L936.2,400.5 L937,400.6 L937.8,400.6 L938.5,400.7 L939.2,400.7 L940,400.8 L940.8,400.8 L941.5,400.9 L942.2,400.9 L943,400.9 L943.8,401 L944.5,401 L945.2,401.1 L946,401.1 L946.8,401.2 L947.5,401.2 L948.2,401.3 L949,401.3 L949.8,401.4 L950.5,401.4 L951.2,401.5 L952,401.5 L952.8,401.6 L953.5,401.6 L954.2,401.7 L955,401.7 L955.8,401.8 L956.5,401.8 L957.2,401.9 L958,401.9 L958.8,402 L959.5,402 L960.2,402.1 L961,402.1 L961.8,402.2 L962.5,402.2 L963.2,402.3 L964,402.3 L964.8,402.4 L965.5,402.4 L966.2,402.5 L967,402.5 L967.8,402.6 L968.5,402.6 L969.2,402.7 L970,402.7 L970.8,402.8 L971.5,402.8 L972.2,402.9 L973,402.9 L973.8,403 L974.5,403 L975.2,403.1 L976,403.1 L976.8,403.2 L977.5,403.2 L978.2,403.3 L979,403.3 L979.8,403.3 L980.5,403.4 L981.2,403.4 L982,403.5 L982.8,403.5 L983.5,403.6 L984.2,403.6 L985,403.7 L985.8,403.7 L986.5,403.8 L987.2,403.8 L988,403.9 L988.8,403.9 L989.5,404 L990.2,404 L991,404.1 L991.8,404.1 L992.5,404.1 L993.2,404.2 L994,404.2 L994.8,404.3 L995.5,404.3 L996.2,404.4 L997,404.4 L997.8,404.5 L998.5,404.5 L999.2,404.6 L1000,404.6 L1000.8,404.7 L1001.5,404.7 L1002.2,404.7 L1003,404.8 L1003.8,404.8 L1004.5,404.9 L1005.2,404.9 L1006,405 L1006.8,405 L1007.5,405.1 L1008.2,405.1 L1009,405.1 L1009.8,405.2 L1010.5,405.2 L1011.2,405.3 L1012,405.3 L1012.8,405.4 L1013.5,405.4 L1014.2,405.5 L1015,405.5 L1015.8,405.5 L1016.5,405.6 L1017.2,405.6 L1018,405.7 L1018.8,405.7 L1019.5,405.8 L1020.2,405.8 L1021,405.9 L1021.8,405.9 L1022.5,405.9 L1023.2,406 L1024,406 L1024.8,406.1 L1025.5,406.1 L1026.2,406.2 L1027,406.2 L1027.8,406.2 L1028.5,406.3 L1029.2,406.3 L1030,406.4 L1030.8,406.4 L1031.5,406.5 L1032.2,406.5 L1033,406.5 L1033.8,406.6 L1034.5,406.6 L1035.2,406.7 L1036,406.7 L1036.8,406.7 L1037.5,406.8 L1038.2,406.8 L1039,406.9 L1039.8,406.9 L1040.5,407 L1041.2,407 L1042,407 L1042.8,407.1 L1043.5,407.1 L1044.2,407.2 L1045,407.2 L1045.8,407.2 L1046.5,407.3 L1047.2,407.3 L1048,407.4 L1048.8,407.4 L1049.5,407.4 L1050.2,407.5 L1051,407.5 L1051.8,407.6 L1052.5,407.6 L1053.2,407.6 L1054,407.7 L1054.8,407.7 L1055.5,407.8 L1056.2,407.8 L1057,407.8 L1057.8,407.9 L1058.5,407.9 L1059.2,408 L1060,408 L1060.8,408 L1061.5,408.1 L1062.2,408.1 L1063,408.1 L1063.8,408.2 L1064.5,408.2 L1065.2,408.3 L1066,408.3 L1066.8,408.3 L1067.5,408.4 L1068.2,408.4 L1069,408.5 L1069.8,408.5 L1070.5,408.5 L1071.2,408.6 L1072,408.6 L1072.8,408.6 L1073.5,408.7 L1074.2,408.7 L1075,408.8 L1075.8,408.8 L1076.5,408.8 L1077.2,408.9 L1078,408.9 L1078.8,408.9 L1079.5,409 L1080.2,409 L1081,409 L1081.8,409.1 L1082.5,409.1 L1083.2,409.2 L1084,409.2 L1084.8,409.2 L1085.5,409.3 L1086.2,409.3 L1087,409.3 L1087.8,409.4 L1088.5,409.4 L1089.2,409.4 L1090,409.5 L1090.8,409.5 L1091.5,409.5 L1092.2,409.6 L1093,409.6 L1093.8,409.7 L1094.5,409.7 L1095.2,409.7 L1096,409.8 L1096.8,409.8 L1097.5,409.8 L1098.2,409.9 L1099,409.9 L1099.8,409.9 L1100.5,410 L1101.2,410 L1102,410 L1102.8,410.1 L1103.5,410.1 L1104.2,410.1 L1105,410.2 L1105.8,410.2 L1106.5,410.2 L1107.2,410.3 L1108,410.3 L1108.8,410.3 L1109.5,410.4 L1110.2,410.4 L1111,410.4 L1111.8,410.5" stroke="#b02e4a"/>
<path d="M736,396.4 L736.8,396.3 L737.5,396.3 L738.2,396.3 L739,396.3 L739.8,396.3 L740.5,396.3 L741.2,396.3 L742,396.3 L742.8,396.3 L743.5,396.3 L744.2,396.3 L745,396.3 L745.8,396.3 L746.5,396.3 L747.2,396.3 L748,396.3 L748.8,396.3 L749.5,396.3 L750.2,396.2 L751,396.2 L751.8,396.2 L752.5,396.2 L753.2,396.2 L754,396.2 L754.8,396.2 L755.5,396.2 L756.2,396.2 L757,396.2 L757.8,396.2 L758.5,396.2 L759.2,396.2 L760,396.2 L760.8,396.2 L761.5,396.1 L762.2,396.1 L763,396.1 L763.8,396.1 L764.5,396.1 L765.2,396.1 L766,396.1 L766.8,396.1 L767.5,396.1 L768.2,396.1 L769,396.1 L769.8,396.1 L770.5,396 L771.2,396 L772,396 L772.8,396 L773.5,396 L774.2,396 L775,396 L775.8,396 L776.5,396 L777.2,395.9 L778,395.9 L778.8,395.9 L779.5,395.9 L780.2,395.9 L781,395.9 L781.8,395.9 L782.5,395.8 L783.2,395.8 L784,395.8 L784.8,395.8 L785.5,395.8 L786.2,395.8 L787,395.7 L787.8,395.7 L788.5,395.7 L789.2,395.7 L790,395.7 L790.8,395.6 L791.5,395.6 L792.2,395.6 L793,395.6 L793.8,395.5 L794.5,395.5 L795.2,395.5 L796,395.5 L796.8,395.4 L797.5,395.4 L798.2,395.4 L799,395.3 L799.8,395.3 L800.5,395.3 L801.2,395.2 L802,395.2 L802.8,395.1 L803.5,395.1 L804.2,395.1 L805,395 L805.8,395 L806.5,394.9 L807.2,394.9 L808,394.8 L808.8,394.8 L809.5,394.7 L810.2,394.6 L811,394.6 L811.8,394.5 L812.5,394.4 L813.2,394.4 L814,394.3 L814.8,394.2 L815.5,394.1 L816.2,394 L817,393.9 L817.8,393.8 L818.5,393.7 L819.2,393.6 L820,393.5 L820.8,393.3 L821.5,393.2 L822.2,393 L823,392.9 L823.8,392.7 L824.5,392.5 L825.2,392.2 L826,392 L826.8,391.7 L827.5,391.4 L828.2,391 L829,390.6 L829.8,390.1 L830.5,389.6 L831.2,389 L832,388.3 L832.8,387.5 L833.5,386.5 L834.2,385.5 L835,384.2 L835.8,382.8 L836.5,381.2 L837.2,379.4 L838,377.3 L838.8,375 L839.5,372.4 L840.2,369.4 L841,366.1 L841.8,362.5 L842.5,358.5 L843.2,354.1 L844,349.3 L844.8,344 L845.5,338.4 L846.2,332.4 L847,325.9 L847.8,319.1 L848.5,311.9 L849.2,304.4 L850,296.7 L850.8,288.7 L851.5,280.6 L852.2,272.4 L853,264.2 L853.8,256 L854.5,248.1 L855.2,240.4 L856,233.2 L856.8,226.4 L857.5,220.3 L858.2,214.9 L859,210.4 L859.8,206.9 L860.5,204.4 L861.2,203 L862,202.8 L862.8,204 L863.5,206.8 L864.2,211.1 L865,216.7 L865.8,223.5 L866.5,231.4 L867.2,240.1 L868,249.4 L868.8,259.2 L869.5,269.3 L870.2,279.5 L871,289.7 L871.8,299.7 L872.5,309.3 L873.2,318.6 L874,327.3 L874.8,335.5 L875.5,343.1 L876.2,350 L877,356.3 L877.8,362 L878.5,367 L879.2,371.5 L880,375.4 L880.8,378.7 L881.5,381.7 L882.2,384.2 L883,386.3 L883.8,388.1 L884.5,389.6 L885.2,390.8 L886,391.8 L886.8,392.7 L887.5,393.4 L888.2,394 L889,394.5 L889.8,394.9 L890.5,395.2 L891.2,395.5 L892,395.7 L892.8,395.9 L893.5,396.1 L894.2,396.2 L895,396.4 L895.8,396.5 L896.5,396.6 L897.2,396.7 L898,396.8 L898.8,396.9 L899.5,396.9 L900.2,397 L901,397.1 L901.8,397.1 L902.5,397.2 L903.2,397.3 L904,397.3 L904.8,397.4 L905.5,397.5 L906.2,397.5 L907,397.6 L907.8,397.6 L908.5,397.7 L909.2,397.7 L910,397.8 L910.8,397.8 L911.5,397.9 L912.2,397.9 L913,398 L913.8,398.1 L914.5,398.1 L915.2,398.2 L916,398.2 L916.8,398.3 L917.5,398.3 L918.2,398.4 L919,398.4 L919.8,398.5 L920.5,398.5 L921.2,398.6 L922,398.6 L922.8,398.7 L923.5,398.7 L924.2,398.8 L925,398.8 L925.8,398.9 L926.5,398.9 L927.2,399 L928,399 L928.8,399.1 L929.5,399.1 L930.2,399.2 L931,399.2 L931.8,399.3 L932.5,399.3 L933.2,399.4 L934,399.4 L934.8,399.5 L935.5,399.5 L936.2,399.6 L937,399.6 L937.8,399.7 L938.5,399.7 L939.2,399.8 L940,399.8 L940.8,399.9 L941.5,399.9 L942.2,400 L943,400.1 L943.8,400.1 L944.5,400.2 L945.2,400.2 L946,400.3 L946.8,400.3 L947.5,400.4 L948.2,400.4 L949,400.5 L949.8,400.5 L950.5,400.6 L951.2,400.6 L952,400.7 L952.8,400.8 L953.5,400.8 L954.2,400.9 L955,400.9 L955.8,401 L956.5,401 L957.2,401.1 L958,401.1 L958.8,401.2 L959.5,401.2 L960.2,401.3 L961,401.3 L961.8,401.4 L962.5,401.5 L963.2,401.5 L964,401.6 L964.8,401.6 L965.5,401.7 L966.2,401.7 L967,401.8 L967.8,401.8 L968.5,401.9 L969.2,401.9 L970,402 L970.8,402 L971.5,402.1 L972.2,402.1 L973,402.2 L973.8,402.3 L974.5,402.3 L975.2,402.4 L976,402.4 L976.8,402.5 L977.5,402.5 L978.2,402.6 L979,402.6 L979.8,402.7 L980.5,402.7 L981.2,402.8 L982,402.8 L982.8,402.9 L983.5,402.9 L984.2,403 L985,403 L985.8,403 L986.5,403.1 L987.2,403.1 L988,403.2 L988.8,403.2 L989.5,403.3 L990.2,403.3 L991,403.4 L991.8,403.4 L992.5,403.5 L993.2,403.5 L994,403.5 L994.8,403.6 L995.5,403.6 L996.2,403.7 L997,403.7 L997.8,403.8 L998.5,403.8 L999.2,403.8 L1000,403.9 L1000.8,403.9 L1001.5,404 L1002.2,404 L1003,404 L1003.8,404.1 L1004.5,404.1 L1005.2,404.2 L1006,404.2 L1006.8,404.2 L1007.5,404.3 L1008.2,404.3 L1009,404.4 L1009.8,404.4 L1010.5,404.4 L1011.2,404.5 L1012,404.5 L1012.8,404.6 L1013.5,404.6 L1014.2,404.7 L1015,404.7 L1015.8,404.7 L1016.5,404.8 L1017.2,404.8 L1018,404.9 L1018.8,404.9 L1019.5,405 L1020.2,405 L1021,405 L1021.8,405.1 L1022.5,405.1 L1023.2,405.2 L1024,405.2 L1024.8,405.3 L1025.5,405.3 L1026.2,405.3 L1027,405.4 L1027.8,405.4 L1028.5,405.5 L1029.2,405.5 L1030,405.6 L1030.8,405.6 L1031.5,405.7 L1032.2,405.7 L1033,405.7 L1033.8,405.8 L1034.5,405.8 L1035.2,405.9 L1036,405.9 L1036.8,406 L1037.5,406 L1038.2,406.1 L1039,406.1 L1039.8,406.1 L1040.5,406.2 L1041.2,406.2 L1042,406.3 L1042.8,406.3 L1043.5,406.4 L1044.2,406.4 L1045,406.4 L1045.8,406.5 L1046.5,406.5 L1047.2,406.6 L1048,406.6 L1048.8,406.7 L1049.5,406.7 L1050.2,406.8 L1051,406.8 L1051.8,406.8 L1052.5,406.9 L1053.2,406.9 L1054,407 L1054.8,407 L1055.5,407.1 L1056.2,407.1 L1057,407.1 L1057.8,407.2 L1058.5,407.2 L1059.2,407.3 L1060,407.3 L1060.8,407.4 L1061.5,407.4 L1062.2,407.4 L1063,407.5 L1063.8,407.5 L1064.5,407.6 L1065.2,407.6 L1066,407.6 L1066.8,407.7 L1067.5,407.7 L1068.2,407.8 L1069,407.8 L1069.8,407.8 L1070.5,407.9 L1071.2,407.9 L1072,408 L1072.8,408 L1073.5,408 L1074.2,408.1 L1075,408.1 L1075.8,408.2 L1076.5,408.2 L1077.2,408.2 L1078,408.3 L1078.8,408.3 L1079.5,408.3 L1080.2,408.4 L1081,408.4 L1081.8,408.4 L1082.5,408.5 L1083.2,408.5 L1084,408.6 L1084.8,408.6 L1085.5,408.6 L1086.2,408.7 L1087,408.7 L1087.8,408.7 L1088.5,408.8 L1089.2,408.8 L1090,408.8 L1090.8,408.9 L1091.5,408.9 L1092.2,408.9 L1093,408.9 L1093.8,409 L1094.5,409 L1095.2,409 L1096,409.1 L1096.8,409.1 L1097.5,409.1 L1098.2,409.2 L1099,409.2 L1099.8,409.2 L1100.5,409.2 L1101.2,409.3 L1102,409.3 L1102.8,409.3 L1103.5,409.3 L1104.2,409.4 L1105,409.4 L1105.8,409.4 L1106.5,409.4 L1107.2,409.5 L1108,409.5 L1108.8,409.5 L1109.5,409.5 L1110.2,409.6 L1111,409.6 L1111.8,409.6 L1112.5,409.6 L1113.2,409.6 L1114,409.7 L1114.8,409.7 L1115.5,409.7 L1116.2,409.7 L1117,409.7 L1117.8,409.8 L1118.5,409.8 L1119.2,409.8 L1120,409.8 L1120.8,409.8 L1121.5,409.8 L1122.2,409.9 L1123,409.9 L1123.8,409.9 L1124.5,409.9 L1125.2,409.9 L1126,409.9 L1126.8,409.9 L1127.5,409.9 L1128.2,409.9 L1129,410 L1129.8,410 L1130.5,410 L1131.2,410 L1132,410 L1132.8,410 L1133.5,410 L1134.2,410 L1135,410 L1135.8,410 L1136.5,410 L1137.2,410 L1138,410.1 L1138.8,410.1 L1139.5,410.1 L1140.2,410.1 L1141,410.1 L1141.8,410.1 L1142.5,410.1 L1143.2,410.1 L1144,410.1 L1144.8,410.1 L1145.5,410.1 L1146.2,410.1 L1147,410.1 L1147.8,410.2 L1148.5,410.2 L1149.2,410.2 L1150,410.2 L1150.8,410.2 L1151.5,410.2 L1152.2,410.2 L1153,410.2 L1153.8,410.2 L1154.5,410.2 L1155.2,410.2 L1156,410.2 L1156.8,410.2 L1157.5,410.3 L1158.2,410.3 L1159,410.3 L1159.8,410.3 L1160.5,410.3 L1161.2,410.3 L1162,410.3 L1162.8,410.3 L1163.5,410.3 L1164.2,410.3 L1165,410.3 L1165.8,410.3 L1166.5,410.3 L1167.2,410.3 L1168,410.4 L1168.8,410.4 L1169.5,410.4 L1170.2,410.4 L1171,410.4 L1171.8,410.4 L1172.5,410.4 L1173.2,410.4 L1174,410.4 L1174.8,410.4 L1175.5,410.4 L1176.2,410.4 L1177,410.4 L1177.8,410.4 L1178.5,410.4 L1179.2,410.4 L1180,410.5 L1180.8,410.5 L1181.5,410.5 L1182.2,410.5 L1183,410.5 L1183.8,410.5 L1184.5,410.5 L1185.2,410.5 L1186,410.5 L1186.8,410.5 L1187.5,410.5 L1188.2,410.5 L1189,410.5 L1189.8,410.5 L1190.5,410.5 L1191.2,410.5 L1192,410.6 L1192.8,410.6 L1193.5,410.6 L1194.2,410.6 L1195,410.6 L1195.8,410.6 L1196.5,410.6 L1197.2,410.6 L1198,410.6 L1198.8,410.6 L1199.5,410.6 L1200.2,410.6 L1201,410.6 L1201.8,410.6 L1202.5,410.6 L1203.2,410.6 L1204,410.6 L1204.8,410.6 L1205.5,410.6 L1206.2,410.7 L1207,410.7 L1207.8,410.7 L1208.5,410.7 L1209.2,410.7 L1210,410.7 L1210.8,410.7 L1211.5,410.7 L1212.2,410.7 L1213,410.7 L1213.8,410.7 L1214.5,410.7 L1215.2,410.7 L1216,410.7 L1216.8,410.7 L1217.5,410.7 L1218.2,410.7 L1219,410.7 L1219.8,410.7 L1220.5,410.7 L1221.2,410.7 L1222,410.8 L1222.8,410.8 L1223.5,410.8 L1224.2,410.8 L1225,410.8 L1225.8,410.8 L1226.5,410.8 L1227.2,410.8 L1228,410.8 L1228.8,410.8 L1229.5,410.8 L1230.2,410.8 L1231,410.8 L1231.8,410.8 L1232.5,410.8 L1233.2,410.8 L1234,410.8 L1234.8,410.8 L1235.5,410.8 L1236.2,410.8 L1237,410.8 L1237.8,410.8 L1238.5,410.8 L1239.2,410.8 L1240,410.8 L1240.8,410.8 L1241.5,410.9 L1242.2,410.9 L1243,410.9 L1243.8,410.9 L1244.5,410.9 L1245.2,410.9 L1246,410.9 L1246.8,410.9 L1247.5,410.9 L1248.2,410.9 L1249,410.9 L1249.8,410.9 L1250.5,410.9 L1251.2,410.9 L1252,410.9 L1252.8,410.9 L1253.5,410.9 L1254.2,410.9 L1255,410.9 L1255.8,410.9 L1256.5,410.9 L1257.2,410.9 L1258,410.9 L1258.8,410.9 L1259.5,410.9 L1260.2,410.9 L1261,410.9 L1261.8,410.9 L1262.5,410.9 L1263.2,410.9 L1264,410.9 L1264.8,410.9 L1265.5,410.9 L1266.2,410.9 L1267,410.9 L1267.8,410.9 L1268.5,410.9 L1269.2,410.9 L1270,411 L1270.8,411 L1271.5,411 L1272.2,411 L1273,411 L1273.8,411 L1274.5,411 L1275.2,411 L1276,411 L1276.8,411 L1277.5,411 L1278.2,411 L1279,411 L1279.8,411 L1280.5,411 L1281.2,411 L1282,411 L1282.8,411 L1283.5,411 L1284.2,411 L1285,411 L1285.8,411 L1286.5,411 L1287.2,411 L1288,411 L1288.8,411 L1289.5,411 L1290.2,411 L1291,411 L1291.8,411 L1292.5,411 L1293.2,411 L1294,411 L1294.8,411 L1295.5,411 L1296.2,411 L1297,411 L1297.8,411 L1298.5,411 L1299.2,411 L1300,411" stroke="#b8455e"/>
<path d="M736,397.5 L736.8,397.5 L737.5,397.5 L738.2,397.5 L739,397.5 L739.8,397.5 L740.5,397.5 L741.2,397.5 L742,397.5 L742.8,397.5 L743.5,397.5 L744.2,397.5 L745,397.5 L745.8,397.5 L746.5,397.5 L747.2,397.5 L748,397.5 L748.8,397.5 L749.5,397.5 L750.2,397.5 L751,397.5 L751.8,397.5 L752.5,397.4 L753.2,397.4 L754,397.4 L754.8,397.4 L755.5,397.4 L756.2,397.4 L757,397.4 L757.8,397.4 L758.5,397.4 L759.2,397.4 L760,397.4 L760.8,397.4 L761.5,397.4 L762.2,397.4 L763,397.4 L763.8,397.4 L764.5,397.4 L765.2,397.4 L766,397.4 L766.8,397.4 L767.5,397.4 L768.2,397.3 L769,397.3 L769.8,397.3 L770.5,397.3 L771.2,397.3 L772,397.3 L772.8,397.3 L773.5,397.3 L774.2,397.3 L775,397.3 L775.8,397.3 L776.5,397.3 L777.2,397.3 L778,397.3 L778.8,397.3 L779.5,397.3 L780.2,397.3 L781,397.2 L781.8,397.2 L782.5,397.2 L783.2,397.2 L784,397.2 L784.8,397.2 L785.5,397.2 L786.2,397.2 L787,397.2 L787.8,397.2 L788.5,397.2 L789.2,397.2 L790,397.2 L790.8,397.2 L791.5,397.1 L792.2,397.1 L793,397.1 L793.8,397.1 L794.5,397.1 L795.2,397.1 L796,397.1 L796.8,397.1 L797.5,397.1 L798.2,397.1 L799,397 L799.8,397 L800.5,397 L801.2,397 L802,397 L802.8,397 L803.5,397 L804.2,397 L805,397 L805.8,396.9 L806.5,396.9 L807.2,396.9 L808,396.9 L808.8,396.9 L809.5,396.9 L810.2,396.9 L811,396.8 L811.8,396.8 L812.5,396.8 L813.2,396.8 L814,396.8 L814.8,396.8 L815.5,396.7 L816.2,396.7 L817,396.7 L817.8,396.7 L818.5,396.7 L819.2,396.6 L820,396.6 L820.8,396.6 L821.5,396.6 L822.2,396.6 L823,396.5 L823.8,396.5 L824.5,396.5 L825.2,396.5 L826,396.4 L826.8,396.4 L827.5,396.4 L828.2,396.4 L829,396.3 L829.8,396.3 L830.5,396.3 L831.2,396.2 L832,396.2 L832.8,396.2 L833.5,396.1 L834.2,396.1 L835,396.1 L835.8,396 L836.5,396 L837.2,396 L838,395.9 L838.8,395.9 L839.5,395.8 L840.2,395.8 L841,395.8 L841.8,395.7 L842.5,395.7 L843.2,395.6 L844,395.6 L844.8,395.5 L845.5,395.4 L846.2,395.4 L847,395.3 L847.8,395.3 L848.5,395.2 L849.2,395.1 L850,395.1 L850.8,395 L851.5,394.9 L852.2,394.9 L853,394.8 L853.8,394.7 L854.5,394.6 L855.2,394.5 L856,394.4 L856.8,394.3 L857.5,394.3 L858.2,394.2 L859,394 L859.8,393.9 L860.5,393.8 L861.2,393.7 L862,393.6 L862.8,393.5 L863.5,393.3 L864.2,393.2 L865,393 L865.8,392.9 L866.5,392.7 L867.2,392.5 L868,392.4 L868.8,392.2 L869.5,392 L870.2,391.8 L871,391.5 L871.8,391.3 L872.5,391 L873.2,390.7 L874,390.4 L874.8,390.1 L875.5,389.7 L876.2,389.3 L877,388.8 L877.8,388.3 L878.5,387.7 L879.2,387.1 L880,386.3 L880.8,385.5 L881.5,384.6 L882.2,383.5 L883,382.3 L883.8,381 L884.5,379.4 L885.2,377.7 L886,375.7 L886.8,373.5 L887.5,371 L888.2,368.2 L889,365 L889.8,361.5 L890.5,357.5 L891.2,353.1 L892,348.3 L892.8,342.9 L893.5,337.1 L894.2,330.6 L895,323.7 L895.8,316.1 L896.5,307.9 L897.2,299.2 L898,289.8 L898.8,279.9 L899.5,269.4 L900.2,258.4 L901,246.8 L901.8,234.9 L902.5,222.6 L903.2,209.9 L904,197 L904.8,184 L905.5,171 L906.2,158 L907,145.2 L907.8,132.8 L908.5,120.9 L909.2,109.6 L910,99.1 L910.8,89.6 L911.5,81.1 L912.2,73.9 L913,68 L913.8,63.7 L914.5,60.9 L915.2,59.7 L916,60.4 L916.8,63.2 L917.5,68.1 L918.2,75 L919,83.8 L919.8,94.1 L920.5,106 L921.2,119 L922,133 L922.8,147.8 L923.5,163.1 L924.2,178.7 L925,194.4 L925.8,210 L926.5,225.4 L927.2,240.4 L928,254.9 L928.8,268.7 L929.5,281.8 L930.2,294 L931,305.5 L931.8,316.1 L932.5,325.8 L933.2,334.6 L934,342.6 L934.8,349.8 L935.5,356.2 L936.2,361.8 L937,366.8 L937.8,371.2 L938.5,375 L939.2,378.3 L940,381.1 L940.8,383.5 L941.5,385.5 L942.2,387.3 L943,388.8 L943.8,390 L944.5,391.1 L945.2,392 L946,392.7 L946.8,393.3 L947.5,393.9 L948.2,394.3 L949,394.7 L949.8,395 L950.5,395.3 L951.2,395.6 L952,395.8 L952.8,396 L953.5,396.1 L954.2,396.3 L955,396.5 L955.8,396.6 L956.5,396.7 L957.2,396.8 L958,397 L958.8,397.1 L959.5,397.2 L960.2,397.3 L961,397.4 L961.8,397.5 L962.5,397.5 L963.2,397.6 L964,397.7 L964.8,397.8 L965.5,397.9 L966.2,398 L967,398 L967.8,398.1 L968.5,398.2 L969.2,398.3 L970,398.3 L970.8,398.4 L971.5,398.5 L972.2,398.5 L973,398.6 L973.8,398.7 L974.5,398.7 L975.2,398.8 L976,398.9 L976.8,398.9 L977.5,399 L978.2,399.1 L979,399.1 L979.8,399.2 L980.5,399.2 L981.2,399.3 L982,399.4 L982.8,399.4 L983.5,399.5 L984.2,399.5 L985,399.6 L985.8,399.7 L986.5,399.7 L987.2,399.8 L988,399.8 L988.8,399.9 L989.5,399.9 L990.2,400 L991,400 L991.8,400.1 L992.5,400.2 L993.2,400.2 L994,400.3 L994.8,400.3 L995.5,400.4 L996.2,400.4 L997,400.5 L997.8,400.5 L998.5,400.6 L999.2,400.6 L1000,400.7 L1000.8,400.7 L1001.5,400.8 L1002.2,400.9 L1003,400.9 L1003.8,401 L1004.5,401 L1005.2,401.1 L1006,401.1 L1006.8,401.2 L1007.5,401.2 L1008.2,401.3 L1009,401.3 L1009.8,401.4 L1010.5,401.4 L1011.2,401.5 L1012,401.5 L1012.8,401.6 L1013.5,401.6 L1014.2,401.7 L1015,401.7 L1015.8,401.8 L1016.5,401.8 L1017.2,401.9 L1018,401.9 L1018.8,402 L1019.5,402 L1020.2,402.1 L1021,402.1 L1021.8,402.2 L1022.5,402.2 L1023.2,402.2 L1024,402.3 L1024.8,402.3 L1025.5,402.4 L1026.2,402.4 L1027,402.5 L1027.8,402.5 L1028.5,402.6 L1029.2,402.6 L1030,402.7 L1030.8,402.7 L1031.5,402.8 L1032.2,402.8 L1033,402.8 L1033.8,402.9 L1034.5,402.9 L1035.2,403 L1036,403 L1036.8,403 L1037.5,403.1 L1038.2,403.1 L1039,403.2 L1039.8,403.2 L1040.5,403.3 L1041.2,403.3 L1042,403.3 L1042.8,403.4 L1043.5,403.4 L1044.2,403.4 L1045,403.5 L1045.8,403.5 L1046.5,403.6 L1047.2,403.6 L1048,403.6 L1048.8,403.7 L1049.5,403.7 L1050.2,403.7 L1051,403.8 L1051.8,403.8 L1052.5,403.8 L1053.2,403.9 L1054,403.9 L1054.8,403.9 L1055.5,404 L1056.2,404 L1057,404 L1057.8,404.1 L1058.5,404.1 L1059.2,404.1 L1060,404.2 L1060.8,404.2 L1061.5,404.2 L1062.2,404.3 L1063,404.3 L1063.8,404.3 L1064.5,404.4 L1065.2,404.4 L1066,404.5 L1066.8,404.5 L1067.5,404.5 L1068.2,404.6 L1069,404.6 L1069.8,404.6 L1070.5,404.7 L1071.2,404.7 L1072,404.7 L1072.8,404.8 L1073.5,404.8 L1074.2,404.8 L1075,404.9 L1075.8,404.9 L1076.5,405 L1077.2,405 L1078,405 L1078.8,405.1 L1079.5,405.1 L1080.2,405.1 L1081,405.2 L1081.8,405.2 L1082.5,405.2 L1083.2,405.3 L1084,405.3 L1084.8,405.4 L1085.5,405.4 L1086.2,405.4 L1087,405.5 L1087.8,405.5 L1088.5,405.5 L1089.2,405.6 L1090,405.6 L1090.8,405.6 L1091.5,405.7 L1092.2,405.7 L1093,405.7 L1093.8,405.8 L1094.5,405.8 L1095.2,405.9 L1096,405.9 L1096.8,405.9 L1097.5,406 L1098.2,406 L1099,406 L1099.8,406.1 L1100.5,406.1 L1101.2,406.1 L1102,406.2 L1102.8,406.2 L1103.5,406.3 L1104.2,406.3 L1105,406.3 L1105.8,406.4 L1106.5,406.4 L1107.2,406.4 L1108,406.5 L1108.8,406.5 L1109.5,406.5 L1110.2,406.6 L1111,406.6 L1111.8,406.6 L1112.5,406.7 L1113.2,406.7 L1114,406.7 L1114.8,406.8 L1115.5,406.8 L1116.2,406.8 L1117,406.9 L1117.8,406.9 L1118.5,406.9 L1119.2,407 L1120,407 L1120.8,407 L1121.5,407.1 L1122.2,407.1 L1123,407.1 L1123.8,407.2 L1124.5,407.2 L1125.2,407.2 L1126,407.3 L1126.8,407.3 L1127.5,407.3 L1128.2,407.4 L1129,407.4 L1129.8,407.4 L1130.5,407.5 L1131.2,407.5 L1132,407.5 L1132.8,407.6 L1133.5,407.6 L1134.2,407.6 L1135,407.7 L1135.8,407.7 L1136.5,407.7 L1137.2,407.8 L1138,407.8 L1138.8,407.8 L1139.5,407.8 L1140.2,407.9 L1141,407.9 L1141.8,407.9 L1142.5,408 L1143.2,408 L1144,408 L1144.8,408.1 L1145.5,408.1 L1146.2,408.1 L1147,408.1 L1147.8,408.2 L1148.5,408.2 L1149.2,408.2 L1150,408.2 L1150.8,408.3 L1151.5,408.3 L1152.2,408.3 L1153,408.4 L1153.8,408.4 L1154.5,408.4 L1155.2,408.4 L1156,408.5 L1156.8,408.5 L1157.5,408.5 L1158.2,408.5 L1159,408.6 L1159.8,408.6 L1160.5,408.6 L1161.2,408.6 L1162,408.6 L1162.8,408.7 L1163.5,408.7 L1164.2,408.7 L1165,408.7 L1165.8,408.8 L1166.5,408.8 L1167.2,408.8 L1168,408.8 L1168.8,408.8 L1169.5,408.9 L1170.2,408.9 L1171,408.9 L1171.8,408.9 L1172.5,408.9 L1173.2,409 L1174,409 L1174.8,409 L1175.5,409 L1176.2,409 L1177,409.1 L1177.8,409.1 L1178.5,409.1 L1179.2,409.1 L1180,409.1 L1180.8,409.1 L1181.5,409.2 L1182.2,409.2 L1183,409.2 L1183.8,409.2 L1184.5,409.2 L1185.2,409.2 L1186,409.2 L1186.8,409.3 L1187.5,409.3 L1188.2,409.3 L1189,409.3 L1189.8,409.3 L1190.5,409.3 L1191.2,409.3 L1192,409.3 L1192.8,409.4 L1193.5,409.4 L1194.2,409.4 L1195,409.4 L1195.8,409.4 L1196.5,409.4 L1197.2,409.4 L1198,409.4 L1198.8,409.4 L1199.5,409.4 L1200.2,409.4 L1201,409.4 L1201.8,409.5 L1202.5,409.5 L1203.2,409.5 L1204,409.5 L1204.8,409.5 L1205.5,409.5 L1206.2,409.5 L1207,409.5 L1207.8,409.5 L1208.5,409.5 L1209.2,409.5 L1210,409.5 L1210.8,409.5 L1211.5,409.5 L1212.2,409.5 L1213,409.5 L1213.8,409.6 L1214.5,409.6 L1215.2,409.6 L1216,409.6 L1216.8,409.6 L1217.5,409.6 L1218.2,409.6 L1219,409.6 L1219.8,409.6 L1220.5,409.6 L1221.2,409.6 L1222,409.6 L1222.8,409.6 L1223.5,409.6 L1224.2,409.6 L1225,409.6 L1225.8,409.6 L1226.5,409.7 L1227.2,409.7 L1228,409.7 L1228.8,409.7 L1229.5,409.7 L1230.2,409.7 L1231,409.7 L1231.8,409.7 L1232.5,409.7 L1233.2,409.7 L1234,409.7 L1234.8,409.7 L1235.5,409.7 L1236.2,409.7 L1237,409.7 L1237.8,409.7 L1238.5,409.7 L1239.2,409.7 L1240,409.7 L1240.8,409.8 L1241.5,409.8 L1242.2,409.8 L1243,409.8 L1243.8,409.8 L1244.5,409.8 L1245.2,409.8 L1246,409.8 L1246.8,409.8 L1247.5,409.8 L1248.2,409.8 L1249,409.8 L1249.8,409.8 L1250.5,409.8 L1251.2,409.8 L1252,409.8 L1252.8,409.8 L1253.5,409.8 L1254.2,409.8 L1255,409.8 L1255.8,409.8 L1256.5,409.8 L1257.2,409.8 L1258,409.9 L1258.8,409.9 L1259.5,409.9 L1260.2,409.9 L1261,409.9 L1261.8,409.9 L1262.5,409.9 L1263.2,409.9 L1264,409.9 L1264.8,409.9 L1265.5,409.9 L1266.2,409.9 L1267,409.9 L1267.8,409.9 L1268.5,409.9 L1269.2,409.9 L1270,409.9 L1270.8,409.9 L1271.5,409.9 L1272.2,409.9 L1273,409.9 L1273.8,409.9 L1274.5,409.9 L1275.2,409.9 L1276,409.9 L1276.8,409.9 L1277.5,409.9 L1278.2,409.9 L1279,409.9 L1279.8,409.9 L1280.5,409.9 L1281.2,409.9 L1282,409.9 L1282.8,409.9 L1283.5,409.9 L1284.2,409.9 L1285,409.9 L1285.8,409.9 L1286.5,410 L1287.2,410 L1288,410 L1288.8,410 L1289.5,410 L1290.2,410 L1291,410 L1291.8,410 L1292.5,410 L1293.2,410 L1294,410 L1294.8,410 L1295.5,410 L1296.2,410 L1297,410 L1297.8,410 L1298.5,410 L1299.2,410 L1300,410" stroke="#c0566c"/>
<path d="M736,399 L736.8,399 L737.5,398.9 L738.2,398.9 L739,398.9 L739.8,398.9 L740.5,398.9 L741.2,398.9 L742,398.9 L742.8,398.9 L743.5,398.9 L744.2,398.9 L745,398.9 L745.8,398.9 L746.5,398.9 L747.2,398.9 L748,398.9 L748.8,398.9 L749.5,398.9 L750.2,398.9 L751,398.9 L751.8,398.9 L752.5,398.9 L753.2,398.9 L754,398.9 L754.8,398.9 L755.5,398.9 L756.2,398.9 L757,398.9 L757.8,398.9 L758.5,398.9 L759.2,398.9 L760,398.9 L760.8,398.9 L761.5,398.9 L762.2,398.9 L763,398.9 L763.8,398.9 L764.5,398.9 L765.2,398.9 L766,398.9 L766.8,398.9 L767.5,398.9 L768.2,398.9 L769,398.9 L769.8,398.9 L770.5,398.9 L771.2,398.9 L772,398.9 L772.8,398.9 L773.5,398.9 L774.2,398.9 L775,398.9 L775.8,398.9 L776.5,398.9 L777.2,398.9 L778,398.9 L778.8,398.9 L779.5,398.8 L780.2,398.8 L781,398.8 L781.8,398.8 L782.5,398.8 L783.2,398.8 L784,398.8 L784.8,398.8 L785.5,398.8 L786.2,398.8 L787,398.8 L787.8,398.8 L788.5,398.8 L789.2,398.8 L790,398.8 L790.8,398.8 L791.5,398.8 L792.2,398.8 L793,398.8 L793.8,398.8 L794.5,398.8 L795.2,398.8 L796,398.8 L796.8,398.8 L797.5,398.8 L798.2,398.8 L799,398.8 L799.8,398.8 L800.5,398.8 L801.2,398.8 L802,398.8 L802.8,398.8 L803.5,398.8 L804.2,398.8 L805,398.8 L805.8,398.8 L806.5,398.8 L807.2,398.8 L808,398.7 L808.8,398.7 L809.5,398.7 L810.2,398.7 L811,398.7 L811.8,398.7 L812.5,398.7 L813.2,398.7 L814,398.7 L814.8,398.7 L815.5,398.7 L816.2,398.7 L817,398.7 L817.8,398.7 L818.5,398.7 L819.2,398.7 L820,398.7 L820.8,398.7 L821.5,398.7 L822.2,398.7 L823,398.7 L823.8,398.7 L824.5,398.7 L825.2,398.6 L826,398.6 L826.8,398.6 L827.5,398.6 L828.2,398.6 L829,398.6 L829.8,398.6 L830.5,398.6 L831.2,398.6 L832,398.6 L832.8,398.6 L833.5,398.6 L834.2,398.6 L835,398.6 L835.8,398.6 L836.5,398.6 L837.2,398.6 L838,398.5 L838.8,398.5 L839.5,398.5 L840.2,398.5 L841,398.5 L841.8,398.5 L842.5,398.5 L843.2,398.5 L844,398.5 L844.8,398.5 L845.5,398.5 L846.2,398.5 L847,398.4 L847.8,398.4 L848.5,398.4 L849.2,398.4 L850,398.4 L850.8,398.4 L851.5,398.4 L852.2,398.4 L853,398.4 L853.8,398.4 L854.5,398.3 L855.2,398.3 L856,398.3 L856.8,398.3 L857.5,398.3 L858.2,398.3 L859,398.3 L859.8,398.3 L860.5,398.2 L861.2,398.2 L862,398.2 L862.8,398.2 L863.5,398.2 L864.2,398.2 L865,398.2 L865.8,398.1 L866.5,398.1 L867.2,398.1 L868,398.1 L868.8,398.1 L869.5,398 L870.2,398 L871,398 L871.8,398 L872.5,398 L873.2,397.9 L874,397.9 L874.8,397.9 L875.5,397.9 L876.2,397.9 L877,397.8 L877.8,397.8 L878.5,397.8 L879.2,397.8 L880,397.7 L880.8,397.7 L881.5,397.7 L882.2,397.6 L883,397.6 L883.8,397.6 L884.5,397.6 L885.2,397.5 L886,397.5 L886.8,397.5 L887.5,397.4 L888.2,397.4 L889,397.3 L889.8,397.3 L890.5,397.3 L891.2,397.2 L892,397.2 L892.8,397.1 L893.5,397.1 L894.2,397 L895,397 L895.8,396.9 L896.5,396.9 L897.2,396.8 L898,396.8 L898.8,396.7 L899.5,396.7 L900.2,396.6 L901,396.5 L901.8,396.5 L902.5,396.4 L903.2,396.3 L904,396.3 L904.8,396.2 L905.5,396.1 L906.2,396 L907,395.9 L907.8,395.8 L908.5,395.7 L909.2,395.6 L910,395.5 L910.8,395.4 L911.5,395.3 L912.2,395.2 L913,395.1 L913.8,395 L914.5,394.9 L915.2,394.7 L916,394.6 L916.8,394.4 L917.5,394.3 L918.2,394.1 L919,393.9 L919.8,393.8 L920.5,393.6 L921.2,393.4 L922,393.1 L922.8,392.9 L923.5,392.7 L924.2,392.4 L925,392.1 L925.8,391.8 L926.5,391.4 L927.2,391 L928,390.6 L928.8,390.1 L929.5,389.5 L930.2,388.9 L931,388.2 L931.8,387.4 L932.5,386.5 L933.2,385.4 L934,384.3 L934.8,382.9 L935.5,381.4 L936.2,379.7 L937,377.7 L937.8,375.4 L938.5,372.9 L939.2,370 L940,366.7 L940.8,363.1 L941.5,359 L942.2,354.5 L943,349.4 L943.8,343.9 L944.5,337.7 L945.2,331 L946,323.7 L946.8,315.8 L947.5,307.2 L948.2,298.1 L949,288.3 L949.8,278 L950.5,267.1 L951.2,255.7 L952,243.8 L952.8,231.5 L953.5,219 L954.2,206.2 L955,193.3 L955.8,180.4 L956.5,167.6 L957.2,155 L958,142.9 L958.8,131.4 L959.5,120.5 L960.2,110.6 L961,101.8 L961.8,94.2 L962.5,87.9 L963.2,83.2 L964,80.1 L964.8,78.7 L965.5,79.1 L966.2,81.6 L967,86.3 L967.8,93 L968.5,101.5 L969.2,111.7 L970,123.3 L970.8,136.2 L971.5,150 L972.2,164.5 L973,179.5 L973.8,194.8 L974.5,210.2 L975.2,225.4 L976,240.3 L976.8,254.8 L977.5,268.7 L978.2,281.9 L979,294.3 L979.8,306 L980.5,316.7 L981.2,326.6 L982,335.6 L982.8,343.7 L983.5,351 L984.2,357.5 L985,363.2 L985.8,368.2 L986.5,372.6 L987.2,376.4 L988,379.7 L988.8,382.5 L989.5,384.9 L990.2,386.9 L991,388.6 L991.8,390.1 L992.5,391.3 L993.2,392.3 L994,393.2 L994.8,393.9 L995.5,394.5 L996.2,395 L997,395.4 L997.8,395.7 L998.5,396 L999.2,396.3 L1000,396.5 L1000.8,396.7 L1001.5,396.9 L1002.2,397.1 L1003,397.2 L1003.8,397.3 L1004.5,397.5 L1005.2,397.6 L1006,397.7 L1006.8,397.8 L1007.5,397.9 L1008.2,398 L1009,398.1 L1009.8,398.2 L1010.5,398.2 L1011.2,398.3 L1012,398.4 L1012.8,398.5 L1013.5,398.6 L1014.2,398.6 L1015,398.7 L1015.8,398.8 L1016.5,398.8 L1017.2,398.9 L1018,399 L1018.8,399 L1019.5,399.1 L1020.2,399.1 L1021,399.2 L1021.8,399.3 L1022.5,399.3 L1023.2,399.4 L1024,399.4 L1024.8,399.5 L1025.5,399.6 L1026.2,399.6 L1027,399.7 L1027.8,399.7 L1028.5,399.8 L1029.2,399.8 L1030,399.9 L1030.8,399.9 L1031.5,400 L1032.2,400 L1033,400.1 L1033.8,400.1 L1034.5,400.2 L1035.2,400.2 L1036,400.3 L1036.8,400.3 L1037.5,400.4 L1038.2,400.4 L1039,400.5 L1039.8,400.5 L1040.5,400.6 L1041.2,400.6 L1042,400.7 L1042.8,400.7 L1043.5,400.8 L1044.2,400.8 L1045,400.9 L1045.8,400.9 L1046.5,401 L1047.2,401 L1048,401.1 L1048.8,401.1 L1049.5,401.2 L1050.2,401.2 L1051,401.2 L1051.8,401.3 L1052.5,401.3 L1053.2,401.4 L1054,401.4 L1054.8,401.5 L1055.5,401.5 L1056.2,401.6 L1057,401.6 L1057.8,401.7 L1058.5,401.7 L1059.2,401.7 L1060,401.8 L1060.8,401.8 L1061.5,401.9 L1062.2,401.9 L1063,402 L1063.8,402 L1064.5,402.1 L1065.2,402.1 L1066,402.1 L1066.8,402.2 L1067.5,402.2 L1068.2,402.3 L1069,402.3 L1069.8,402.3 L1070.5,402.4 L1071.2,402.4 L1072,402.5 L1072.8,402.5 L1073.5,402.6 L1074.2,402.6 L1075,402.6 L1075.8,402.7 L1076.5,402.7 L1077.2,402.7 L1078,402.8 L1078.8,402.8 L1079.5,402.9 L1080.2,402.9 L1081,402.9 L1081.8,403 L1082.5,403 L1083.2,403 L1084,403.1 L1084.8,403.1 L1085.5,403.2 L1086.2,403.2 L1087,403.2 L1087.8,403.3 L1088.5,403.3 L1089.2,403.3 L1090,403.4 L1090.8,403.4 L1091.5,403.4 L1092.2,403.5 L1093,403.5 L1093.8,403.5 L1094.5,403.5 L1095.2,403.6 L1096,403.6 L1096.8,403.6 L1097.5,403.7 L1098.2,403.7 L1099,403.7 L1099.8,403.7 L1100.5,403.8 L1101.2,403.8 L1102,403.8 L1102.8,403.8 L1103.5,403.9 L1104.2,403.9 L1105,403.9 L1105.8,403.9 L1106.5,404 L1107.2,404 L1108,404 L1108.8,404 L1109.5,404.1 L1110.2,404.1 L1111,404.1 L1111.8,404.1 L1112.5,404.2 L1113.2,404.2 L1114,404.2 L1114.8,404.2 L1115.5,404.3 L1116.2,404.3 L1117,404.3 L1117.8,404.3 L1118.5,404.4 L1119.2,404.4 L1120,404.4 L1120.8,404.4 L1121.5,404.5 L1122.2,404.5 L1123,404.5 L1123.8,404.5 L1124.5,404.6 L1125.2,404.6 L1126,404.6 L1126.8,404.6 L1127.5,404.7 L1128.2,404.7 L1129,404.7 L1129.8,404.7 L1130.5,404.8 L1131.2,404.8 L1132,404.8 L1132.8,404.8 L1133.5,404.9 L1134.2,404.9 L1135,404.9 L1135.8,404.9 L1136.5,404.9 L1137.2,405 L1138,405 L1138.8,405 L1139.5,405 L1140.2,405.1 L1141,405.1 L1141.8,405.1 L1142.5,405.1 L1143.2,405.2 L1144,405.2 L1144.8,405.2 L1145.5,405.2 L1146.2,405.2 L1147,405.3 L1147.8,405.3 L1148.5,405.3 L1149.2,405.3 L1150,405.4 L1150.8,405.4 L1151.5,405.4 L1152.2,405.4 L1153,405.5 L1153.8,405.5 L1154.5,405.5 L1155.2,405.5 L1156,405.5 L1156.8,405.6 L1157.5,405.6 L1158.2,405.6 L1159,405.6 L1159.8,405.7 L1160.5,405.7 L1161.2,405.7 L1162,405.7 L1162.8,405.7 L1163.5,405.8 L1164.2,405.8 L1165,405.8 L1165.8,405.8 L1166.5,405.9 L1167.2,405.9 L1168,405.9 L1168.8,405.9 L1169.5,405.9 L1170.2,406 L1171,406 L1171.8,406 L1172.5,406 L1173.2,406 L1174,406.1 L1174.8,406.1 L1175.5,406.1 L1176.2,406.1 L1177,406.2 L1177.8,406.2 L1178.5,406.2 L1179.2,406.2 L1180,406.2 L1180.8,406.3 L1181.5,406.3 L1182.2,406.3 L1183,406.3 L1183.8,406.3 L1184.5,406.4 L1185.2,406.4 L1186,406.4 L1186.8,406.4 L1187.5,406.4 L1188.2,406.5 L1189,406.5 L1189.8,406.5 L1190.5,406.5 L1191.2,406.5 L1192,406.6 L1192.8,406.6 L1193.5,406.6 L1194.2,406.6 L1195,406.6 L1195.8,406.7 L1196.5,406.7 L1197.2,406.7 L1198,406.7 L1198.8,406.7 L1199.5,406.8 L1200.2,406.8 L1201,406.8 L1201.8,406.8 L1202.5,406.8 L1203.2,406.9 L1204,406.9 L1204.8,406.9 L1205.5,406.9 L1206.2,406.9 L1207,407 L1207.8,407 L1208.5,407 L1209.2,407 L1210,407 L1210.8,407.1 L1211.5,407.1 L1212.2,407.1 L1213,407.1 L1213.8,407.1 L1214.5,407.2 L1215.2,407.2 L1216,407.2 L1216.8,407.2 L1217.5,407.2 L1218.2,407.2 L1219,407.3 L1219.8,407.3 L1220.5,407.3 L1221.2,407.3 L1222,407.3 L1222.8,407.4 L1223.5,407.4 L1224.2,407.4 L1225,407.4 L1225.8,407.4 L1226.5,407.5 L1227.2,407.5 L1228,407.5 L1228.8,407.5 L1229.5,407.5 L1230.2,407.5 L1231,407.6 L1231.8,407.6 L1232.5,407.6 L1233.2,407.6 L1234,407.6 L1234.8,407.6 L1235.5,407.7 L1236.2,407.7 L1237,407.7 L1237.8,407.7 L1238.5,407.7 L1239.2,407.8 L1240,407.8 L1240.8,407.8 L1241.5,407.8 L1242.2,407.8 L1243,407.8 L1243.8,407.9 L1244.5,407.9 L1245.2,407.9 L1246,407.9 L1246.8,407.9 L1247.5,407.9 L1248.2,408 L1249,408 L1249.8,408 L1250.5,408 L1251.2,408 L1252,408 L1252.8,408.1 L1253.5,408.1 L1254.2,408.1 L1255,408.1 L1255.8,408.1 L1256.5,408.1 L1257.2,408.1 L1258,408.2 L1258.8,408.2 L1259.5,408.2 L1260.2,408.2 L1261,408.2 L1261.8,408.2 L1262.5,408.3 L1263.2,408.3 L1264,408.3 L1264.8,408.3 L1265.5,408.3 L1266.2,408.3 L1267,408.4 L1267.8,408.4 L1268.5,408.4 L1269.2,408.4 L1270,408.4 L1270.8,408.4 L1271.5,408.4 L1272.2,408.5 L1273,408.5 L1273.8,408.5 L1274.5,408.5 L1275.2,408.5 L1276,408.5 L1276.8,408.5 L1277.5,408.6 L1278.2,408.6 L1279,408.6 L1279.8,408.6 L1280.5,408.6 L1281.2,408.6 L1282,408.6 L1282.8,408.7 L1283.5,408.7 L1284.2,408.7 L1285,408.7 L1285.8,408.7 L1286.5,408.7 L1287.2,408.7 L1288,408.8 L1288.8,408.8 L1289.5,408.8 L1290.2,408.8 L1291,408.8 L1291.8,408.8 L1292.5,408.8 L1293.2,408.8 L1294,408.9 L1294.8,408.9 L1295.5,408.9 L1296.2,408.9 L1297,408.9 L1297.8,408.9 L1298.5,408.9 L1299.2,408.9 L1300,409" stroke="#c86b7d"/>
<path d="M736,402.4 L736.8,402.4 L737.5,402.4 L738.2,402.4 L739,402.4 L739.8,402.4 L740.5,402.4 L741.2,402.4 L742,402.3 L742.8,402.3 L743.5,402.3 L744.2,402.3 L745,402.3 L745.8,402.3 L746.5,402.3 L747.2,402.3 L748,402.3 L748.8,402.3 L749.5,402.3 L750.2,402.3 L751,402.3 L751.8,402.3 L752.5,402.3 L753.2,402.3 L754,402.3 L754.8,402.3 L755.5,402.3 L756.2,402.2 L757,402.2 L757.8,402.2 L758.5,402.2 L759.2,402.2 L760,402.2 L760.8,402.2 L761.5,402.2 L762.2,402.2 L763,402.2 L763.8,402.2 L764.5,402.2 L765.2,402.2 L766,402.2 L766.8,402.2 L767.5,402.2 L768.2,402.2 L769,402.2 L769.8,402.2 L770.5,402.2 L771.2,402.1 L772,402.1 L772.8,402.1 L773.5,402.1 L774.2,402.1 L775,402.1 L775.8,402.1 L776.5,402.1 L777.2,402.1 L778,402.1 L778.8,402.1 L779.5,402.1 L780.2,402.1 L781,402.1 L781.8,402.1 L782.5,402.1 L783.2,402.1 L784,402.1 L784.8,402.1 L785.5,402.1 L786.2,402 L787,402 L787.8,402 L788.5,402 L789.2,402 L790,402 L790.8,402 L791.5,402 L792.2,402 L793,402 L793.8,402 L794.5,402 L795.2,402 L796,402 L796.8,402 L797.5,402 L798.2,402 L799,402 L799.8,402 L800.5,402 L801.2,401.9 L802,401.9 L802.8,401.9 L803.5,401.9 L804.2,401.9 L805,401.9 L805.8,401.9 L806.5,401.9 L807.2,401.9 L808,401.9 L808.8,401.9 L809.5,401.9 L810.2,401.9 L811,401.9 L811.8,401.9 L812.5,401.9 L813.2,401.9 L814,401.9 L814.8,401.9 L815.5,401.9 L816.2,401.8 L817,401.8 L817.8,401.8 L818.5,401.8 L819.2,401.8 L820,401.8 L820.8,401.8 L821.5,401.8 L822.2,401.8 L823,401.8 L823.8,401.8 L824.5,401.8 L825.2,401.8 L826,401.8 L826.8,401.8 L827.5,401.8 L828.2,401.8 L829,401.8 L829.8,401.7 L830.5,401.7 L831.2,401.7 L832,401.7 L832.8,401.7 L833.5,401.7 L834.2,401.7 L835,401.7 L835.8,401.7 L836.5,401.7 L837.2,401.7 L838,401.7 L838.8,401.7 L839.5,401.7 L840.2,401.7 L841,401.7 L841.8,401.7 L842.5,401.6 L843.2,401.6 L844,401.6 L844.8,401.6 L845.5,401.6 L846.2,401.6 L847,401.6 L847.8,401.6 L848.5,401.6 L849.2,401.6 L850,401.6 L850.8,401.6 L851.5,401.6 L852.2,401.6 L853,401.6 L853.8,401.6 L854.5,401.5 L855.2,401.5 L856,401.5 L856.8,401.5 L857.5,401.5 L858.2,401.5 L859,401.5 L859.8,401.5 L860.5,401.5 L861.2,401.5 L862,401.5 L862.8,401.5 L863.5,401.5 L864.2,401.4 L865,401.4 L865.8,401.4 L866.5,401.4 L867.2,401.4 L868,401.4 L868.8,401.4 L869.5,401.4 L870.2,401.4 L871,401.4 L871.8,401.4 L872.5,401.4 L873.2,401.3 L874,401.3 L874.8,401.3 L875.5,401.3 L876.2,401.3 L877,401.3 L877.8,401.3 L878.5,401.3 L879.2,401.3 L880,401.3 L880.8,401.3 L881.5,401.2 L882.2,401.2 L883,401.2 L883.8,401.2 L884.5,401.2 L885.2,401.2 L886,401.2 L886.8,401.2 L887.5,401.2 L888.2,401.1 L889,401.1 L889.8,401.1 L890.5,401.1 L891.2,401.1 L892,401.1 L892.8,401.1 L893.5,401.1 L894.2,401.1 L895,401 L895.8,401 L896.5,401 L897.2,401 L898,401 L898.8,401 L899.5,401 L900.2,400.9 L901,400.9 L901.8,400.9 L902.5,400.9 L903.2,400.9 L904,400.9 L904.8,400.9 L905.5,400.8 L906.2,400.8 L907,400.8 L907.8,400.8 L908.5,400.8 L909.2,400.8 L910,400.7 L910.8,400.7 L911.5,400.7 L912.2,400.7 L913,400.7 L913.8,400.6 L914.5,400.6 L915.2,400.6 L916,400.6 L916.8,400.6 L917.5,400.5 L918.2,400.5 L919,400.5 L919.8,400.5 L920.5,400.4 L921.2,400.4 L922,400.4 L922.8,400.4 L923.5,400.3 L924.2,400.3 L925,400.3 L925.8,400.3 L926.5,400.2 L927.2,400.2 L928,400.2 L928.8,400.2 L929.5,400.1 L930.2,400.1 L931,400.1 L931.8,400 L932.5,400 L933.2,400 L934,399.9 L934.8,399.9 L935.5,399.9 L936.2,399.8 L937,399.8 L937.8,399.7 L938.5,399.7 L939.2,399.7 L940,399.6 L940.8,399.6 L941.5,399.5 L942.2,399.5 L943,399.4 L943.8,399.4 L944.5,399.3 L945.2,399.3 L946,399.2 L946.8,399.2 L947.5,399.1 L948.2,399.1 L949,399 L949.8,399 L950.5,398.9 L951.2,398.8 L952,398.8 L952.8,398.7 L953.5,398.6 L954.2,398.6 L955,398.5 L955.8,398.4 L956.5,398.3 L957.2,398.3 L958,398.2 L958.8,398.1 L959.5,398 L960.2,397.9 L961,397.8 L961.8,397.7 L962.5,397.6 L963.2,397.5 L964,397.4 L964.8,397.3 L965.5,397.2 L966.2,397.1 L967,396.9 L967.8,396.8 L968.5,396.7 L969.2,396.5 L970,396.4 L970.8,396.2 L971.5,396 L972.2,395.8 L973,395.7 L973.8,395.5 L974.5,395.2 L975.2,395 L976,394.8 L976.8,394.5 L977.5,394.2 L978.2,393.9 L979,393.5 L979.8,393.1 L980.5,392.7 L981.2,392.3 L982,391.7 L982.8,391.2 L983.5,390.5 L984.2,389.8 L985,389.1 L985.8,388.2 L986.5,387.2 L987.2,386.2 L988,384.9 L988.8,383.6 L989.5,382.1 L990.2,380.5 L991,378.6 L991.8,376.6 L992.5,374.3 L993.2,371.8 L994,369.1 L994.8,366.1 L995.5,362.8 L996.2,359.2 L997,355.3 L997.8,351 L998.5,346.4 L999.2,341.4 L1000,336.1 L1000.8,330.3 L1001.5,324.2 L1002.2,317.7 L1003,310.8 L1003.8,303.5 L1004.5,295.8 L1005.2,287.8 L1006,279.4 L1006.8,270.7 L1007.5,261.7 L1008.2,252.4 L1009,242.9 L1009.8,233.3 L1010.5,223.5 L1011.2,213.6 L1012,203.7 L1012.8,193.9 L1013.5,184.2 L1014.2,174.7 L1015,165.5 L1015.8,156.7 L1016.5,148.3 L1017.2,140.4 L1018,133.2 L1018.8,126.7 L1019.5,120.9 L1020.2,116.1 L1021,112.2 L1021.8,109.3 L1022.5,107.5 L1023.2,106.7 L1024,107.3 L1024.8,109.8 L1025.5,114 L1026.2,120 L1027,127.6 L1027.8,136.6 L1028.5,146.9 L1029.2,158.2 L1030,170.4 L1030.8,183.3 L1031.5,196.6 L1032.2,210.1 L1033,223.8 L1033.8,237.4 L1034.5,250.8 L1035.2,263.8 L1036,276.4 L1036.8,288.4 L1037.5,299.8 L1038.2,310.5 L1039,320.4 L1039.8,329.6 L1040.5,338 L1041.2,345.7 L1042,352.7 L1042.8,358.9 L1043.5,364.5 L1044.2,369.4 L1045,373.7 L1045.8,377.5 L1046.5,380.8 L1047.2,383.6 L1048,386.1 L1048.8,388.2 L1049.5,390 L1050.2,391.5 L1051,392.7 L1051.8,393.8 L1052.5,394.7 L1053.2,395.5 L1054,396.1 L1054.8,396.7 L1055.5,397.1 L1056.2,397.5 L1057,397.9 L1057.8,398.1 L1058.5,398.4 L1059.2,398.6 L1060,398.8 L1060.8,399 L1061.5,399.1 L1062.2,399.2 L1063,399.4 L1063.8,399.5 L1064.5,399.6 L1065.2,399.7 L1066,399.8 L1066.8,399.9 L1067.5,400 L1068.2,400 L1069,400.1 L1069.8,400.2 L1070.5,400.3 L1071.2,400.3 L1072,400.4 L1072.8,400.5 L1073.5,400.5 L1074.2,400.6 L1075,400.7 L1075.8,400.7 L1076.5,400.8 L1077.2,400.8 L1078,400.9 L1078.8,400.9 L1079.5,401 L1080.2,401 L1081,401.1 L1081.8,401.1 L1082.5,401.2 L1083.2,401.2 L1084,401.3 L1084.8,401.3 L1085.5,401.4 L1086.2,401.4 L1087,401.5 L1087.8,401.5 L1088.5,401.6 L1089.2,401.6 L1090,401.7 L1090.8,401.7 L1091.5,401.7 L1092.2,401.8 L1093,401.8 L1093.8,401.9 L1094.5,401.9 L1095.2,401.9 L1096,402 L1096.8,402 L1097.5,402.1 L1098.2,402.1 L1099,402.1 L1099.8,402.2 L1100.5,402.2 L1101.2,402.3 L1102,402.3 L1102.8,402.3 L1103.5,402.4 L1104.2,402.4 L1105,402.4 L1105.8,402.5 L1106.5,402.5 L1107.2,402.5 L1108,402.6 L1108.8,402.6 L1109.5,402.7 L1110.2,402.7 L1111,402.7 L1111.8,402.8 L1112.5,402.8 L1113.2,402.8 L1114,402.9 L1114.8,402.9 L1115.5,402.9 L1116.2,403 L1117,403 L1117.8,403 L1118.5,403.1 L1119.2,403.1 L1120,403.1 L1120.8,403.2 L1121.5,403.2 L1122.2,403.2 L1123,403.3 L1123.8,403.3 L1124.5,403.3 L1125.2,403.3 L1126,403.4 L1126.8,403.4 L1127.5,403.4 L1128.2,403.5 L1129,403.5 L1129.8,403.5 L1130.5,403.6 L1131.2,403.6 L1132,403.6 L1132.8,403.6 L1133.5,403.7 L1134.2,403.7 L1135,403.7 L1135.8,403.8 L1136.5,403.8 L1137.2,403.8 L1138,403.8 L1138.8,403.9 L1139.5,403.9 L1140.2,403.9 L1141,403.9 L1141.8,404 L1142.5,404 L1143.2,404 L1144,404 L1144.8,404.1 L1145.5,404.1 L1146.2,404.1 L1147,404.1 L1147.8,404.2 L1148.5,404.2 L1149.2,404.2 L1150,404.2 L1150.8,404.2 L1151.5,404.3 L1152.2,404.3 L1153,404.3 L1153.8,404.3 L1154.5,404.3 L1155.2,404.4 L1156,404.4 L1156.8,404.4 L1157.5,404.4 L1158.2,404.5 L1159,404.5 L1159.8,404.5 L1160.5,404.5 L1161.2,404.5 L1162,404.6 L1162.8,404.6 L1163.5,404.6 L1164.2,404.6 L1165,404.6 L1165.8,404.7 L1166.5,404.7 L1167.2,404.7 L1168,404.7 L1168.8,404.7 L1169.5,404.8 L1170.2,404.8 L1171,404.8 L1171.8,404.8 L1172.5,404.8 L1173.2,404.9 L1174,404.9 L1174.8,404.9 L1175.5,404.9 L1176.2,404.9 L1177,405 L1177.8,405 L1178.5,405 L1179.2,405 L1180,405 L1180.8,405.1 L1181.5,405.1 L1182.2,405.1 L1183,405.1 L1183.8,405.1 L1184.5,405.2 L1185.2,405.2 L1186,405.2 L1186.8,405.2 L1187.5,405.2 L1188.2,405.3 L1189,405.3 L1189.8,405.3 L1190.5,405.3 L1191.2,405.3 L1192,405.3 L1192.8,405.4 L1193.5,405.4 L1194.2,405.4 L1195,405.4 L1195.8,405.4 L1196.5,405.5 L1197.2,405.5 L1198,405.5 L1198.8,405.5 L1199.5,405.5 L1200.2,405.6 L1201,405.6 L1201.8,405.6 L1202.5,405.6 L1203.2,405.6 L1204,405.7 L1204.8,405.7 L1205.5,405.7 L1206.2,405.7 L1207,405.7 L1207.8,405.7 L1208.5,405.8 L1209.2,405.8 L1210,405.8 L1210.8,405.8 L1211.5,405.8 L1212.2,405.9 L1213,405.9 L1213.8,405.9 L1214.5,405.9 L1215.2,405.9 L1216,406 L1216.8,406 L1217.5,406 L1218.2,406 L1219,406 L1219.8,406 L1220.5,406.1 L1221.2,406.1 L1222,406.1 L1222.8,406.1 L1223.5,406.1 L1224.2,406.2 L1225,406.2 L1225.8,406.2 L1226.5,406.2 L1227.2,406.2 L1228,406.2 L1228.8,406.3 L1229.5,406.3 L1230.2,406.3 L1231,406.3 L1231.8,406.3 L1232.5,406.4 L1233.2,406.4 L1234,406.4 L1234.8,406.4 L1235.5,406.4 L1236.2,406.4 L1237,406.5 L1237.8,406.5 L1238.5,406.5 L1239.2,406.5 L1240,406.5 L1240.8,406.6 L1241.5,406.6 L1242.2,406.6 L1243,406.6 L1243.8,406.6 L1244.5,406.6 L1245.2,406.7 L1246,406.7 L1246.8,406.7 L1247.5,406.7 L1248.2,406.7 L1249,406.8 L1249.8,406.8 L1250.5,406.8 L1251.2,406.8 L1252,406.8 L1252.8,406.8 L1253.5,406.9 L1254.2,406.9 L1255,406.9 L1255.8,406.9 L1256.5,406.9 L1257.2,406.9 L1258,407 L1258.8,407 L1259.5,407 L1260.2,407 L1261,407 L1261.8,407.1 L1262.5,407.1 L1263.2,407.1 L1264,407.1 L1264.8,407.1 L1265.5,407.1 L1266.2,407.2 L1267,407.2 L1267.8,407.2 L1268.5,407.2 L1269.2,407.2 L1270,407.2 L1270.8,407.3 L1271.5,407.3 L1272.2,407.3 L1273,407.3 L1273.8,407.3 L1274.5,407.4 L1275.2,407.4 L1276,407.4 L1276.8,407.4 L1277.5,407.4 L1278.2,407.4 L1279,407.5 L1279.8,407.5 L1280.5,407.5 L1281.2,407.5 L1282,407.5 L1282.8,407.5 L1283.5,407.6 L1284.2,407.6 L1285,407.6 L1285.8,407.6 L1286.5,407.6 L1287.2,407.6 L1288,407.7 L1288.8,407.7 L1289.5,407.7 L1290.2,407.7 L1291,407.7 L1291.8,407.8 L1292.5,407.8 L1293.2,407.8 L1294,407.8 L1294.8,407.8 L1295.5,407.8 L1296.2,407.9 L1297,407.9 L1297.8,407.9 L1298.5,407.9 L1299.2,407.9 L1300,407.9" stroke="#d07f8e"/>
<path d="M736,404.7 L736.8,404.7 L737.5,404.7 L738.2,404.7 L739,404.7 L739.8,404.7 L740.5,404.7 L741.2,404.7 L742,404.7 L742.8,404.7 L743.5,404.7 L744.2,404.7 L745,404.7 L745.8,404.7 L746.5,404.7 L747.2,404.6 L748,404.6 L748.8,404.6 L749.5,404.6 L750.2,404.6 L751,404.6 L751.8,404.6 L752.5,404.6 L753.2,404.6 L754,404.6 L754.8,404.6 L755.5,404.6 L756.2,404.6 L757,404.6 L757.8,404.6 L758.5,404.6 L759.2,404.6 L760,404.6 L760.8,404.6 L761.5,404.6 L762.2,404.6 L763,404.6 L763.8,404.6 L764.5,404.6 L765.2,404.6 L766,404.6 L766.8,404.6 L767.5,404.6 L768.2,404.6 L769,404.6 L769.8,404.6 L770.5,404.6 L771.2,404.6 L772,404.6 L772.8,404.6 L773.5,404.6 L774.2,404.6 L775,404.6 L775.8,404.6 L776.5,404.6 L777.2,404.6 L778,404.6 L778.8,404.6 L779.5,404.6 L780.2,404.6 L781,404.6 L781.8,404.6 L782.5,404.6 L783.2,404.6 L784,404.6 L784.8,404.6 L785.5,404.6 L786.2,404.6 L787,404.6 L787.8,404.6 L788.5,404.6 L789.2,404.6 L790,404.6 L790.8,404.5 L791.5,404.5 L792.2,404.5 L793,404.5 L793.8,404.5 L794.5,404.5 L795.2,404.5 L796,404.5 L796.8,404.5 L797.5,404.5 L798.2,404.5 L799,404.5 L799.8,404.5 L800.5,404.5 L801.2,404.5 L802,404.5 L802.8,404.5 L803.5,404.5 L804.2,404.5 L805,404.5 L805.8,404.5 L806.5,404.5 L807.2,404.5 L808,404.5 L808.8,404.5 L809.5,404.5 L810.2,404.5 L811,404.5 L811.8,404.5 L812.5,404.5 L813.2,404.5 L814,404.5 L814.8,404.4 L815.5,404.4 L816.2,404.4 L817,404.4 L817.8,404.4 L818.5,404.4 L819.2,404.4 L820,404.4 L820.8,404.4 L821.5,404.4 L822.2,404.4 L823,404.4 L823.8,404.4 L824.5,404.4 L825.2,404.4 L826,404.4 L826.8,404.4 L827.5,404.4 L828.2,404.4 L829,404.4 L829.8,404.4 L830.5,404.4 L831.2,404.4 L832,404.3 L832.8,404.3 L833.5,404.3 L834.2,404.3 L835,404.3 L835.8,404.3 L836.5,404.3 L837.2,404.3 L838,404.3 L838.8,404.3 L839.5,404.3 L840.2,404.3 L841,404.3 L841.8,404.3 L842.5,404.3 L843.2,404.3 L844,404.3 L844.8,404.3 L845.5,404.3 L846.2,404.2 L847,404.2 L847.8,404.2 L848.5,404.2 L849.2,404.2 L850,404.2 L850.8,404.2 L851.5,404.2 L852.2,404.2 L853,404.2 L853.8,404.2 L854.5,404.2 L855.2,404.2 L856,404.2 L856.8,404.2 L857.5,404.2 L858.2,404.1 L859,404.1 L859.8,404.1 L860.5,404.1 L861.2,404.1 L862,404.1 L862.8,404.1 L863.5,404.1 L864.2,404.1 L865,404.1 L865.8,404.1 L866.5,404.1 L867.2,404.1 L868,404.1 L868.8,404 L869.5,404 L870.2,404 L871,404 L871.8,404 L872.5,404 L873.2,404 L874,404 L874.8,404 L875.5,404 L876.2,404 L877,404 L877.8,403.9 L878.5,403.9 L879.2,403.9 L880,403.9 L880.8,403.9 L881.5,403.9 L882.2,403.9 L883,403.9 L883.8,403.9 L884.5,403.9 L885.2,403.9 L886,403.9 L886.8,403.8 L887.5,403.8 L888.2,403.8 L889,403.8 L889.8,403.8 L890.5,403.8 L891.2,403.8 L892,403.8 L892.8,403.8 L893.5,403.8 L894.2,403.7 L895,403.7 L895.8,403.7 L896.5,403.7 L897.2,403.7 L898,403.7 L898.8,403.7 L899.5,403.7 L900.2,403.7 L901,403.6 L901.8,403.6 L902.5,403.6 L903.2,403.6 L904,403.6 L904.8,403.6 L905.5,403.6 L906.2,403.6 L907,403.6 L907.8,403.5 L908.5,403.5 L909.2,403.5 L910,403.5 L910.8,403.5 L911.5,403.5 L912.2,403.5 L913,403.5 L913.8,403.4 L914.5,403.4 L915.2,403.4 L916,403.4 L916.8,403.4 L917.5,403.4 L918.2,403.4 L919,403.4 L919.8,403.3 L920.5,403.3 L921.2,403.3 L922,403.3 L922.8,403.3 L923.5,403.3 L924.2,403.2 L925,403.2 L925.8,403.2 L926.5,403.2 L927.2,403.2 L928,403.2 L928.8,403.2 L929.5,403.1 L930.2,403.1 L931,403.1 L931.8,403.1 L932.5,403.1 L933.2,403.1 L934,403 L934.8,403 L935.5,403 L936.2,403 L937,403 L937.8,403 L938.5,402.9 L939.2,402.9 L940,402.9 L940.8,402.9 L941.5,402.9 L942.2,402.8 L943,402.8 L943.8,402.8 L944.5,402.8 L945.2,402.8 L946,402.7 L946.8,402.7 L947.5,402.7 L948.2,402.7 L949,402.7 L949.8,402.6 L950.5,402.6 L951.2,402.6 L952,402.6 L952.8,402.6 L953.5,402.5 L954.2,402.5 L955,402.5 L955.8,402.5 L956.5,402.4 L957.2,402.4 L958,402.4 L958.8,402.4 L959.5,402.3 L960.2,402.3 L961,402.3 L961.8,402.3 L962.5,402.2 L963.2,402.2 L964,402.1 L964.8,402.1 L965.5,402 L966.2,401.9 L967,401.9 L967.8,401.8 L968.5,401.7 L969.2,401.7 L970,401.6 L970.8,401.5 L971.5,401.4 L972.2,401.3 L973,401.2 L973.8,401.1 L974.5,401 L975.2,400.9 L976,400.8 L976.8,400.7 L977.5,400.6 L978.2,400.4 L979,400.3 L979.8,400.2 L980.5,400.1 L981.2,399.9 L982,399.8 L982.8,399.7 L983.5,399.6 L984.2,399.4 L985,399.3 L985.8,399.1 L986.5,399 L987.2,398.9 L988,398.7 L988.8,398.6 L989.5,398.4 L990.2,398.3 L991,398.1 L991.8,398 L992.5,397.8 L993.2,397.7 L994,397.5 L994.8,397.4 L995.5,397.2 L996.2,397.1 L997,396.9 L997.8,396.8 L998.5,396.6 L999.2,396.5 L1000,396.3 L1000.8,396.2 L1001.5,396 L1002.2,395.8 L1003,395.7 L1003.8,395.5 L1004.5,395.3 L1005.2,395.1 L1006,394.9 L1006.8,394.7 L1007.5,394.5 L1008.2,394.2 L1009,394 L1009.8,393.8 L1010.5,393.5 L1011.2,393.3 L1012,393.1 L1012.8,392.8 L1013.5,392.6 L1014.2,392.3 L1015,392 L1015.8,391.8 L1016.5,391.5 L1017.2,391.2 L1018,390.9 L1018.8,390.7 L1019.5,390.4 L1020.2,390.1 L1021,389.8 L1021.8,389.5 L1022.5,389.2 L1023.2,388.9 L1024,388.5 L1024.8,388.2 L1025.5,387.9 L1026.2,387.5 L1027,387.2 L1027.8,386.8 L1028.5,386.4 L1029.2,386 L1030,385.6 L1030.8,385.1 L1031.5,384.6 L1032.2,384.1 L1033,383.6 L1033.8,383 L1034.5,382.3 L1035.2,381.6 L1036,380.9 L1036.8,380.1 L1037.5,379.2 L1038.2,378.2 L1039,377.2 L1039.8,376 L1040.5,374.8 L1041.2,373.4 L1042,371.8 L1042.8,370.1 L1043.5,368.3 L1044.2,366.3 L1045,364 L1045.8,361.6 L1046.5,359 L1047.2,356.1 L1048,353 L1048.8,349.6 L1049.5,346 L1050.2,342.1 L1051,338 L1051.8,333.5 L1052.5,328.8 L1053.2,323.8 L1054,318.5 L1054.8,312.9 L1055.5,307 L1056.2,300.9 L1057,294.5 L1057.8,287.9 L1058.5,281 L1059.2,273.9 L1060,266.7 L1060.8,259.2 L1061.5,251.7 L1062.2,244.1 L1063,236.4 L1063.8,228.7 L1064.5,221.1 L1065.2,213.5 L1066,206.1 L1066.8,198.8 L1067.5,191.8 L1068.2,185.1 L1069,178.8 L1069.8,173 L1070.5,167.6 L1071.2,162.7 L1072,158.5 L1072.8,154.9 L1073.5,152.1 L1074.2,149.9 L1075,148.6 L1075.8,148 L1076.5,148.4 L1077.2,149.8 L1078,152.4 L1078.8,155.9 L1079.5,160.5 L1080.2,166 L1081,172.4 L1081.8,179.5 L1082.5,187.2 L1083.2,195.5 L1084,204.3 L1084.8,213.4 L1085.5,222.8 L1086.2,232.4 L1087,242 L1087.8,251.6 L1088.5,261.1 L1089.2,270.5 L1090,279.7 L1090.8,288.6 L1091.5,297.2 L1092.2,305.4 L1093,313.3 L1093.8,320.7 L1094.5,327.7 L1095.2,334.2 L1096,340.3 L1096.8,346 L1097.5,351.2 L1098.2,356 L1099,360.4 L1099.8,364.4 L1100.5,368 L1101.2,371.2 L1102,374.2 L1102.8,376.8 L1103.5,379.1 L1104.2,381.2 L1105,383 L1105.8,384.6 L1106.5,386 L1107.2,387.3 L1108,388.4 L1108.8,389.3 L1109.5,390.1 L1110.2,390.9 L1111,391.5 L1111.8,392 L1112.5,392.5 L1113.2,392.9 L1114,393.3 L1114.8,393.6 L1115.5,393.9 L1116.2,394.2 L1117,394.4 L1117.8,394.7 L1118.5,394.9 L1119.2,395 L1120,395.2 L1120.8,395.4 L1121.5,395.5 L1122.2,395.7 L1123,395.8 L1123.8,395.9 L1124.5,396 L1125.2,396.2 L1126,396.3 L1126.8,396.4 L1127.5,396.5 L1128.2,396.6 L1129,396.7 L1129.8,396.8 L1130.5,396.9 L1131.2,397 L1132,397.1 L1132.8,397.1 L1133.5,397.2 L1134.2,397.3 L1135,397.4 L1135.8,397.5 L1136.5,397.6 L1137.2,397.6 L1138,397.7 L1138.8,397.8 L1139.5,397.9 L1140.2,397.9 L1141,398 L1141.8,398.1 L1142.5,398.1 L1143.2,398.2 L1144,398.3 L1144.8,398.3 L1145.5,398.4 L1146.2,398.5 L1147,398.5 L1147.8,398.6 L1148.5,398.6 L1149.2,398.7 L1150,398.8 L1150.8,398.8 L1151.5,398.9 L1152.2,398.9 L1153,399 L1153.8,399 L1154.5,399.1 L1155.2,399.1 L1156,399.2 L1156.8,399.3 L1157.5,399.3 L1158.2,399.4 L1159,399.4 L1159.8,399.5 L1160.5,399.5 L1161.2,399.5 L1162,399.6 L1162.8,399.6 L1163.5,399.7 L1164.2,399.7 L1165,399.8 L1165.8,399.8 L1166.5,399.9 L1167.2,399.9 L1168,400 L1168.8,400 L1169.5,400 L1170.2,400.1 L1171,400.1 L1171.8,400.2 L1172.5,400.2 L1173.2,400.3 L1174,400.3 L1174.8,400.3 L1175.5,400.4 L1176.2,400.4 L1177,400.5 L1177.8,400.5 L1178.5,400.5 L1179.2,400.6 L1180,400.6 L1180.8,400.7 L1181.5,400.7 L1182.2,400.7 L1183,400.8 L1183.8,400.8 L1184.5,400.9 L1185.2,400.9 L1186,400.9 L1186.8,401 L1187.5,401 L1188.2,401.1 L1189,401.1 L1189.8,401.1 L1190.5,401.2 L1191.2,401.2 L1192,401.2 L1192.8,401.3 L1193.5,401.3 L1194.2,401.4 L1195,401.4 L1195.8,401.4 L1196.5,401.5 L1197.2,401.5 L1198,401.6 L1198.8,401.6 L1199.5,401.6 L1200.2,401.7 L1201,401.7 L1201.8,401.8 L1202.5,401.8 L1203.2,401.8 L1204,401.9 L1204.8,401.9 L1205.5,401.9 L1206.2,402 L1207,402 L1207.8,402.1 L1208.5,402.1 L1209.2,402.1 L1210,402.2 L1210.8,402.2 L1211.5,402.2 L1212.2,402.3 L1213,402.3 L1213.8,402.4 L1214.5,402.4 L1215.2,402.4 L1216,402.5 L1216.8,402.5 L1217.5,402.5 L1218.2,402.6 L1219,402.6 L1219.8,402.6 L1220.5,402.7 L1221.2,402.7 L1222,402.8 L1222.8,402.8 L1223.5,402.8 L1224.2,402.9 L1225,402.9 L1225.8,402.9 L1226.5,403 L1227.2,403 L1228,403 L1228.8,403.1 L1229.5,403.1 L1230.2,403.1 L1231,403.2 L1231.8,403.2 L1232.5,403.2 L1233.2,403.3 L1234,403.3 L1234.8,403.3 L1235.5,403.4 L1236.2,403.4 L1237,403.4 L1237.8,403.5 L1238.5,403.5 L1239.2,403.5 L1240,403.6 L1240.8,403.6 L1241.5,403.6 L1242.2,403.7 L1243,403.7 L1243.8,403.7 L1244.5,403.8 L1245.2,403.8 L1246,403.8 L1246.8,403.9 L1247.5,403.9 L1248.2,403.9 L1249,404 L1249.8,404 L1250.5,404 L1251.2,404.1 L1252,404.1 L1252.8,404.1 L1253.5,404.2 L1254.2,404.2 L1255,404.2 L1255.8,404.3 L1256.5,404.3 L1257.2,404.3 L1258,404.3 L1258.8,404.4 L1259.5,404.4 L1260.2,404.4 L1261,404.5 L1261.8,404.5 L1262.5,404.5 L1263.2,404.6 L1264,404.6 L1264.8,404.6 L1265.5,404.6 L1266.2,404.7 L1267,404.7 L1267.8,404.7 L1268.5,404.8 L1269.2,404.8 L1270,404.8 L1270.8,404.9 L1271.5,404.9 L1272.2,404.9 L1273,404.9 L1273.8,405 L1274.5,405 L1275.2,405 L1276,405.1 L1276.8,405.1 L1277.5,405.1 L1278.2,405.1 L1279,405.2 L1279.8,405.2 L1280.5,405.2 L1281.2,405.2 L1282,405.3 L1282.8,405.3 L1283.5,405.3 L1284.2,405.4 L1285,405.4 L1285.8,405.4 L1286.5,405.4 L1287.2,405.5 L1288,405.5 L1288.8,405.5 L1289.5,405.5 L1290.2,405.6 L1291,405.6 L1291.8,405.6 L1292.5,405.6 L1293.2,405.7 L1294,405.7 L1294.8,405.7 L1295.5,405.7 L1296.2,405.8 L1297,405.8 L1297.8,405.8 L1298.5,405.8 L1299.2,405.9 L1300,405.9" stroke="#d8929f"/>
<path d="M804.5,397.9 L805.2,398 L806,398.2 L806.8,398.3 L807.5,398.5 L808.2,398.6 L809,398.8 L809.8,398.9 L810.5,399 L811.2,399.2 L812,399.3 L812.8,399.5 L813.5,399.6 L814.2,399.7 L815,399.9 L815.8,400 L816.5,400.1 L817.2,400.3 L818,400.4 L818.8,400.5 L819.5,400.6 L820.2,400.8 L821,400.9 L821.8,401 L822.5,401.1 L823.2,401.2 L824,401.4 L824.8,401.5 L825.5,401.6 L826.2,401.7 L827,401.8 L827.8,401.9 L828.5,402 L829.2,402.1 L830,402.2 L830.8,402.3 L831.5,402.4 L832.2,402.5 L833,402.6 L833.8,402.6 L834.5,402.7 L835.2,402.8 L836,402.9 L836.8,403 L837.5,403 L838.2,403.1 L839,403.2 L839.8,403.2 L840.5,403.3 L841.2,403.3 L842,403.4 L842.8,403.5 L843.5,403.5 L844.2,403.6 L845,403.6 L845.8,403.7 L846.5,403.8 L847.2,403.8 L848,403.9 L848.8,403.9 L849.5,404 L850.2,404.1 L851,404.1 L851.8,404.2 L852.5,404.2 L853.2,404.3 L854,404.3 L854.8,404.4 L855.5,404.4 L856.2,404.5 L857,404.5 L857.8,404.6 L858.5,404.6 L859.2,404.7 L860,404.7 L860.8,404.8 L861.5,404.8 L862.2,404.9 L863,404.9 L863.8,404.9 L864.5,405 L865.2,405 L866,405.1 L866.8,405.1 L867.5,405.1 L868.2,405.2 L869,405.2 L869.8,405.2 L870.5,405.2 L871.2,405.3 L872,405.3 L872.8,405.3 L873.5,405.3 L874.2,405.3 L875,405.4 L875.8,405.4 L876.5,405.4 L877.2,405.4 L878,405.4 L878.8,405.4 L879.5,405.4 L880.2,405.4 L881,405.4 L881.8,405.4 L882.5,405.4 L883.2,405.4 L884,405.4 L884.8,405.4 L885.5,405.4 L886.2,405.4 L887,405.4 L887.8,405.4 L888.5,405.3 L889.2,405.3 L890,405.3 L890.8,405.3 L891.5,405.3 L892.2,405.3 L893,405.3 L893.8,405.3 L894.5,405.3 L895.2,405.3 L896,405.3 L896.8,405.2 L897.5,405.2 L898.2,405.2 L899,405.2 L899.8,405.2 L900.5,405.2 L901.2,405.2 L902,405.1 L902.8,405.1 L903.5,405.1 L904.2,405.1 L905,405.1 L905.8,405.1 L906.5,405 L907.2,405 L908,405 L908.8,405 L909.5,405 L910.2,405 L911,404.9 L911.8,404.9 L912.5,404.9 L913.2,404.9 L914,404.8 L914.8,404.8 L915.5,404.8 L916.2,404.8 L917,404.8 L917.8,404.7 L918.5,404.7 L919.2,404.7 L920,404.7 L920.8,404.6 L921.5,404.6 L922.2,404.6 L923,404.6 L923.8,404.5 L924.5,404.5 L925.2,404.5 L926,404.4 L926.8,404.4 L927.5,404.4 L928.2,404.4 L929,404.3 L929.8,404.3 L930.5,404.3 L931.2,404.2 L932,404.2 L932.8,404.1 L933.5,404 L934.2,404 L935,403.9 L935.8,403.8 L936.5,403.7 L937.2,403.6 L938,403.5 L938.8,403.4 L939.5,403.3 L940.2,403.2 L941,403 L941.8,402.9 L942.5,402.8 L943.2,402.6 L944,402.5 L944.8,402.3 L945.5,402.2 L946.2,402 L947,401.9 L947.8,401.7 L948.5,401.5 L949.2,401.4 L950,401.2 L950.8,401.1 L951.5,400.9 L952.2,400.7 L953,400.5 L953.8,400.4 L954.5,400.2 L955.2,400 L956,399.9 L956.8,399.7 L957.5,399.5 L958.2,399.4 L959,399.2 L959.8,399.1 L960.5,398.9 L961.2,398.8 L962,398.6 L962.8,398.5 L963.5,398.3 L964.2,398.2 L965,398 L965.8,397.9 L966.5,397.8 L967.2,397.6 L968,397.5 L968.8,397.3 L969.5,397.2 L970.2,397 L971,396.9 L971.8,396.7 L972.5,396.6 L973.2,396.4 L974,396.3 L974.8,396.1 L975.5,396 L976.2,395.8 L977,395.6 L977.8,395.5 L978.5,395.3 L979.2,395.2 L980,395 L980.8,394.9 L981.5,394.7 L982.2,394.6 L983,394.4 L983.8,394.3 L984.5,394.1 L985.2,394 L986,393.8 L986.8,393.7 L987.5,393.5 L988.2,393.4 L989,393.3 L989.8,393.1 L990.5,393 L991.2,392.9 L992,392.8 L992.8,392.6 L993.5,392.5 L994.2,392.4 L995,392.3 L995.8,392.2 L996.5,392.1 L997.2,392 L998,392 L998.8,391.9 L999.5,391.8 L1000.2,391.7 L1001,391.7 L1001.8,391.6 L1002.5,391.5 L1003.2,391.5 L1004,391.4 L1004.8,391.3 L1005.5,391.3 L1006.2,391.2 L1007,391.2 L1007.8,391.1 L1008.5,391 L1009.2,391 L1010,390.9 L1010.8,390.9 L1011.5,390.8 L1012.2,390.7 L1013,390.7 L1013.8,390.6 L1014.5,390.6 L1015.2,390.5 L1016,390.5 L1016.8,390.4 L1017.5,390.3 L1018.2,390.3 L1019,390.2 L1019.8,390.2 L1020.5,390.1 L1021.2,390.1 L1022,390 L1022.8,390 L1023.5,389.9 L1024.2,389.9 L1025,389.8 L1025.8,389.8 L1026.5,389.7 L1027.2,389.7 L1028,389.6 L1028.8,389.5 L1029.5,389.5 L1030.2,389.4 L1031,389.4 L1031.8,389.3 L1032.5,389.3 L1033.2,389.2 L1034,389.2 L1034.8,389.1 L1035.5,389.1 L1036.2,389 L1037,389 L1037.8,388.9 L1038.5,388.9 L1039.2,388.8 L1040,388.8 L1040.8,388.7 L1041.5,388.7 L1042.2,388.6 L1043,388.5 L1043.8,388.5 L1044.5,388.4 L1045.2,388.4 L1046,388.3 L1046.8,388.3 L1047.5,388.2 L1048.2,388.1 L1049,388.1 L1049.8,388 L1050.5,388 L1051.2,387.9 L1052,387.8 L1052.8,387.8 L1053.5,387.7 L1054.2,387.6 L1055,387.6 L1055.8,387.5 L1056.5,387.4 L1057.2,387.4 L1058,387.3 L1058.8,387.2 L1059.5,387.2 L1060.2,387.1 L1061,387 L1061.8,386.9 L1062.5,386.8 L1063.2,386.8 L1064,386.7 L1064.8,386.6 L1065.5,386.5 L1066.2,386.4 L1067,386.3 L1067.8,386.2 L1068.5,386.1 L1069.2,386 L1070,385.9 L1070.8,385.8 L1071.5,385.7 L1072.2,385.6 L1073,385.5 L1073.8,385.4 L1074.5,385.2 L1075.2,385.1 L1076,385 L1076.8,384.8 L1077.5,384.7 L1078.2,384.5 L1079,384.4 L1079.8,384.2 L1080.5,384 L1081.2,383.8 L1082,383.6 L1082.8,383.4 L1083.5,383.1 L1084.2,382.8 L1085,382.6 L1085.8,382.2 L1086.5,381.9 L1087.2,381.5 L1088,381.1 L1088.8,380.7 L1089.5,380.2 L1090.2,379.6 L1091,379 L1091.8,378.4 L1092.5,377.7 L1093.2,376.9 L1094,376 L1094.8,375 L1095.5,374 L1096.2,372.8 L1097,371.5 L1097.8,370.1 L1098.5,368.5 L1099.2,366.9 L1100,365 L1100.8,363 L1101.5,360.8 L1102.2,358.5 L1103,355.9 L1103.8,353.2 L1104.5,350.2 L1105.2,347.1 L1106,343.7 L1106.8,340.1 L1107.5,336.3 L1108.2,332.2 L1109,327.9 L1109.8,323.4 L1110.5,318.7 L1111.2,313.7 L1112,308.5 L1112.8,303.2 L1113.5,297.7 L1114.2,292 L1115,286.1 L1115.8,280.2 L1116.5,274.1 L1117.2,268 L1118,261.9 L1118.8,255.7 L1119.5,249.6 L1120.2,243.6 L1121,237.6 L1121.8,231.9 L1122.5,226.3 L1123.2,221 L1124,216 L1124.8,211.4 L1125.5,207.1 L1126.2,203.3 L1127,200 L1127.8,197.3 L1128.5,195.1 L1129.2,193.5 L1130,192.5 L1130.8,192.2 L1131.5,192.6 L1132.2,193.9 L1133,196.1 L1133.8,199 L1134.5,202.8 L1135.2,207.3 L1136,212.4 L1136.8,218.1 L1137.5,224.4 L1138.2,231 L1139,238.1 L1139.8,245.4 L1140.5,252.9 L1141.2,260.5 L1142,268.2 L1142.8,275.9 L1143.5,283.6 L1144.2,291.1 L1145,298.4 L1145.8,305.6 L1146.5,312.5 L1147.2,319.1 L1148,325.4 L1148.8,331.4 L1149.5,337 L1150.2,342.3 L1151,347.2 L1151.8,351.8 L1152.5,356.1 L1153.2,360 L1154,363.6 L1154.8,366.9 L1155.5,369.8 L1156.2,372.5 L1157,375 L1157.8,377.2 L1158.5,379.1 L1159.2,380.9 L1160,382.5 L1160.8,383.9 L1161.5,385.2 L1162.2,386.3 L1163,387.4 L1163.8,388.3 L1164.5,389.2 L1165.2,390 L1166,390.7 L1166.8,391.3 L1167.5,391.9 L1168.2,392.5 L1169,393 L1169.8,393.5 L1170.5,393.9 L1171.2,394.3 L1172,394.7 L1172.8,395 L1173.5,395.3 L1174.2,395.5 L1175,395.7 L1175.8,395.9 L1176.5,396.1 L1177.2,396.2 L1178,396.4 L1178.8,396.5 L1179.5,396.6 L1180.2,396.8 L1181,396.9 L1181.8,397 L1182.5,397.1 L1183.2,397.2 L1184,397.3 L1184.8,397.4 L1185.5,397.5 L1186.2,397.6 L1187,397.7 L1187.8,397.8 L1188.5,397.9 L1189.2,398 L1190,398.1 L1190.8,398.1 L1191.5,398.2 L1192.2,398.3 L1193,398.4 L1193.8,398.4 L1194.5,398.5 L1195.2,398.6 L1196,398.7 L1196.8,398.7 L1197.5,398.8 L1198.2,398.8 L1199,398.9 L1199.8,399 L1200.5,399 L1201.2,399.1 L1202,399.1 L1202.8,399.2 L1203.5,399.2 L1204.2,399.3 L1205,399.3 L1205.8,399.4 L1206.5,399.4 L1207.2,399.5 L1208,399.5 L1208.8,399.6 L1209.5,399.6 L1210.2,399.7 L1211,399.7 L1211.8,399.8 L1212.5,399.8 L1213.2,399.8 L1214,399.9 L1214.8,399.9 L1215.5,400 L1216.2,400 L1217,400 L1217.8,400.1 L1218.5,400.1 L1219.2,400.2 L1220,400.2 L1220.8,400.2 L1221.5,400.3 L1222.2,400.3 L1223,400.3 L1223.8,400.4 L1224.5,400.4 L1225.2,400.4 L1226,400.5 L1226.8,400.5 L1227.5,400.5 L1228.2,400.6 L1229,400.6 L1229.8,400.7 L1230.5,400.7 L1231.2,400.7 L1232,400.8 L1232.8,400.8 L1233.5,400.8 L1234.2,400.9 L1235,400.9 L1235.8,400.9 L1236.5,401 L1237.2,401 L1238,401 L1238.8,401.1 L1239.5,401.1 L1240.2,401.2 L1241,401.2 L1241.8,401.2 L1242.5,401.3 L1243.2,401.3 L1244,401.4 L1244.8,401.4 L1245.5,401.4 L1246.2,401.5 L1247,401.5 L1247.8,401.6 L1248.5,401.6 L1249.2,401.7 L1250,401.7 L1250.8,401.7 L1251.5,401.8 L1252.2,401.8 L1253,401.9 L1253.8,401.9 L1254.5,402 L1255.2,402 L1256,402.1 L1256.8,402.1 L1257.5,402.2 L1258.2,402.2 L1259,402.3 L1259.8,402.3 L1260.5,402.4 L1261.2,402.4 L1262,402.4 L1262.8,402.5 L1263.5,402.5 L1264.2,402.6 L1265,402.6 L1265.8,402.7 L1266.5,402.7 L1267.2,402.8 L1268,402.8 L1268.8,402.9 L1269.5,402.9 L1270.2,403 L1271,403 L1271.8,403.1 L1272.5,403.1 L1273.2,403.2 L1274,403.2 L1274.8,403.2 L1275.5,403.3 L1276.2,403.3 L1277,403.4 L1277.8,403.4 L1278.5,403.5 L1279.2,403.5 L1280,403.6 L1280.8,403.6 L1281.5,403.7 L1282.2,403.7 L1283,403.8 L1283.8,403.8 L1284.5,403.9 L1285.2,403.9 L1286,404 L1286.8,404 L1287.5,404.1 L1288.2,404.1 L1289,404.1 L1289.8,404.2 L1290.5,404.2 L1291.2,404.3 L1292,404.3 L1292.8,404.4 L1293.5,404.4 L1294.2,404.5 L1295,404.5 L1295.8,404.6 L1296.5,404.6 L1297.2,404.7 L1298,404.7 L1298.8,404.8 L1299.5,404.8" stroke="#dfa5b0"/>
<path d="M863,395.9 L863.8,396.1 L864.5,396.2 L865.2,396.4 L866,396.5 L866.8,396.7 L867.5,396.8 L868.2,397 L869,397.1 L869.8,397.2 L870.5,397.4 L871.2,397.5 L872,397.6 L872.8,397.8 L873.5,397.9 L874.2,398 L875,398.2 L875.8,398.3 L876.5,398.4 L877.2,398.6 L878,398.7 L878.8,398.8 L879.5,399 L880.2,399.1 L881,399.2 L881.8,399.3 L882.5,399.4 L883.2,399.6 L884,399.7 L884.8,399.8 L885.5,399.9 L886.2,400 L887,400.1 L887.8,400.3 L888.5,400.4 L889.2,400.5 L890,400.6 L890.8,400.7 L891.5,400.8 L892.2,400.9 L893,401 L893.8,401.1 L894.5,401.2 L895.2,401.3 L896,401.4 L896.8,401.5 L897.5,401.6 L898.2,401.7 L899,401.8 L899.8,401.9 L900.5,402 L901.2,402.1 L902,402.2 L902.8,402.3 L903.5,402.4 L904.2,402.5 L905,402.6 L905.8,402.7 L906.5,402.8 L907.2,402.9 L908,403 L908.8,403.1 L909.5,403.2 L910.2,403.3 L911,403.4 L911.8,403.5 L912.5,403.6 L913.2,403.7 L914,403.8 L914.8,403.9 L915.5,403.9 L916.2,404 L917,404.1 L917.8,404.2 L918.5,404.3 L919.2,404.3 L920,404.4 L920.8,404.5 L921.5,404.5 L922.2,404.6 L923,404.7 L923.8,404.7 L924.5,404.8 L925.2,404.8 L926,404.8 L926.8,404.9 L927.5,404.9 L928.2,404.9 L929,404.9 L929.8,404.9 L930.5,404.9 L931.2,404.9 L932,404.9 L932.8,404.9 L933.5,404.8 L934.2,404.8 L935,404.8 L935.8,404.7 L936.5,404.7 L937.2,404.6 L938,404.5 L938.8,404.5 L939.5,404.4 L940.2,404.3 L941,404.2 L941.8,404.2 L942.5,404.1 L943.2,404 L944,403.9 L944.8,403.8 L945.5,403.7 L946.2,403.6 L947,403.4 L947.8,403.3 L948.5,403.2 L949.2,403.1 L950,403 L950.8,402.8 L951.5,402.7 L952.2,402.6 L953,402.5 L953.8,402.3 L954.5,402.2 L955.2,402.1 L956,401.9 L956.8,401.8 L957.5,401.7 L958.2,401.6 L959,401.4 L959.8,401.3 L960.5,401.2 L961.2,401 L962,400.9 L962.8,400.8 L963.5,400.6 L964.2,400.5 L965,400.4 L965.8,400.3 L966.5,400.1 L967.2,400 L968,399.9 L968.8,399.7 L969.5,399.6 L970.2,399.4 L971,399.2 L971.8,399.1 L972.5,398.9 L973.2,398.8 L974,398.6 L974.8,398.4 L975.5,398.2 L976.2,398.1 L977,397.9 L977.8,397.7 L978.5,397.5 L979.2,397.3 L980,397.1 L980.8,396.9 L981.5,396.8 L982.2,396.6 L983,396.4 L983.8,396.2 L984.5,396 L985.2,395.8 L986,395.6 L986.8,395.4 L987.5,395.2 L988.2,395.1 L989,394.9 L989.8,394.7 L990.5,394.5 L991.2,394.3 L992,394.2 L992.8,394 L993.5,393.8 L994.2,393.6 L995,393.5 L995.8,393.3 L996.5,393.1 L997.2,393 L998,392.8 L998.8,392.7 L999.5,392.5 L1000.2,392.4 L1001,392.3 L1001.8,392.1 L1002.5,392 L1003.2,391.8 L1004,391.7 L1004.8,391.6 L1005.5,391.4 L1006.2,391.3 L1007,391.1 L1007.8,391 L1008.5,390.9 L1009.2,390.7 L1010,390.6 L1010.8,390.5 L1011.5,390.3 L1012.2,390.2 L1013,390 L1013.8,389.9 L1014.5,389.8 L1015.2,389.6 L1016,389.5 L1016.8,389.4 L1017.5,389.2 L1018.2,389.1 L1019,389 L1019.8,388.8 L1020.5,388.7 L1021.2,388.6 L1022,388.4 L1022.8,388.3 L1023.5,388.2 L1024.2,388 L1025,387.9 L1025.8,387.8 L1026.5,387.6 L1027.2,387.5 L1028,387.4 L1028.8,387.2 L1029.5,387.1 L1030.2,387 L1031,386.8 L1031.8,386.7 L1032.5,386.6 L1033.2,386.5 L1034,386.3 L1034.8,386.2 L1035.5,386.1 L1036.2,385.9 L1037,385.8 L1037.8,385.7 L1038.5,385.6 L1039.2,385.4 L1040,385.3 L1040.8,385.2 L1041.5,385 L1042.2,384.9 L1043,384.8 L1043.8,384.7 L1044.5,384.5 L1045.2,384.4 L1046,384.3 L1046.8,384.2 L1047.5,384 L1048.2,383.9 L1049,383.8 L1049.8,383.7 L1050.5,383.5 L1051.2,383.4 L1052,383.3 L1052.8,383.2 L1053.5,383 L1054.2,382.9 L1055,382.8 L1055.8,382.7 L1056.5,382.6 L1057.2,382.4 L1058,382.3 L1058.8,382.2 L1059.5,382.1 L1060.2,381.9 L1061,381.8 L1061.8,381.7 L1062.5,381.6 L1063.2,381.5 L1064,381.3 L1064.8,381.2 L1065.5,381.1 L1066.2,381 L1067,380.9 L1067.8,380.7 L1068.5,380.6 L1069.2,380.5 L1070,380.4 L1070.8,380.3 L1071.5,380.2 L1072.2,380 L1073,379.9 L1073.8,379.8 L1074.5,379.7 L1075.2,379.6 L1076,379.5 L1076.8,379.3 L1077.5,379.2 L1078.2,379.1 L1079,379 L1079.8,378.9 L1080.5,378.8 L1081.2,378.6 L1082,378.5 L1082.8,378.4 L1083.5,378.3 L1084.2,378.2 L1085,378.1 L1085.8,378 L1086.5,377.8 L1087.2,377.7 L1088,377.6 L1088.8,377.5 L1089.5,377.4 L1090.2,377.3 L1091,377.2 L1091.8,377 L1092.5,376.9 L1093.2,376.8 L1094,376.7 L1094.8,376.6 L1095.5,376.5 L1096.2,376.4 L1097,376.2 L1097.8,376.1 L1098.5,376 L1099.2,375.9 L1100,375.8 L1100.8,375.7 L1101.5,375.6 L1102.2,375.5 L1103,375.3 L1103.8,375.2 L1104.5,375.1 L1105.2,375 L1106,374.9 L1106.8,374.8 L1107.5,374.7 L1108.2,374.6 L1109,374.4 L1109.8,374.3 L1110.5,374.2 L1111.2,374.1 L1112,374 L1112.8,373.9 L1113.5,373.8 L1114.2,373.7 L1115,373.5 L1115.8,373.4 L1116.5,373.3 L1117.2,373.2 L1118,373.1 L1118.8,373 L1119.5,372.8 L1120.2,372.7 L1121,372.6 L1121.8,372.5 L1122.5,372.4 L1123.2,372.3 L1124,372.1 L1124.8,372 L1125.5,371.9 L1126.2,371.8 L1127,371.7 L1127.8,371.5 L1128.5,371.4 L1129.2,371.3 L1130,371.2 L1130.8,371 L1131.5,370.9 L1132.2,370.8 L1133,370.6 L1133.8,370.5 L1134.5,370.4 L1135.2,370.2 L1136,370.1 L1136.8,370 L1137.5,369.8 L1138.2,369.7 L1139,369.5 L1139.8,369.4 L1140.5,369.2 L1141.2,369.1 L1142,368.9 L1142.8,368.8 L1143.5,368.6 L1144.2,368.4 L1145,368.2 L1145.8,368.1 L1146.5,367.9 L1147.2,367.7 L1148,367.5 L1148.8,367.3 L1149.5,367.1 L1150.2,366.8 L1151,366.6 L1151.8,366.3 L1152.5,366 L1153.2,365.7 L1154,365.3 L1154.8,364.9 L1155.5,364.5 L1156.2,364 L1157,363.5 L1157.8,362.9 L1158.5,362.2 L1159.2,361.5 L1160,360.6 L1160.8,359.6 L1161.5,358.5 L1162.2,357.3 L1163,355.8 L1163.8,354.3 L1164.5,352.5 L1165.2,350.5 L1166,348.3 L1166.8,345.8 L1167.5,343.1 L1168.2,340.1 L1169,336.8 L1169.8,333.2 L1170.5,329.3 L1171.2,325.1 L1172,320.6 L1172.8,315.7 L1173.5,310.6 L1174.2,305.2 L1175,299.6 L1175.8,293.7 L1176.5,287.6 L1177.2,281.4 L1178,275.1 L1178.8,268.7 L1179.5,262.4 L1180.2,256.1 L1181,250 L1181.8,244.2 L1182.5,238.7 L1183.2,233.6 L1184,228.9 L1184.8,224.9 L1185.5,221.6 L1186.2,219 L1187,217.2 L1187.8,216.3 L1188.5,216.3 L1189.2,217.2 L1190,219.1 L1190.8,221.9 L1191.5,225.6 L1192.2,230.1 L1193,235.3 L1193.8,241.2 L1194.5,247.5 L1195.2,254.2 L1196,261.2 L1196.8,268.5 L1197.5,275.8 L1198.2,283.1 L1199,290.4 L1199.8,297.5 L1200.5,304.4 L1201.2,311.1 L1202,317.4 L1202.8,323.4 L1203.5,329 L1204.2,334.3 L1205,339.1 L1205.8,343.6 L1206.5,347.7 L1207.2,351.4 L1208,354.7 L1208.8,357.7 L1209.5,360.3 L1210.2,362.7 L1211,364.8 L1211.8,366.6 L1212.5,368.3 L1213.2,369.7 L1214,371 L1214.8,372.2 L1215.5,373.2 L1216.2,374.2 L1217,375 L1217.8,375.7 L1218.5,376.4 L1219.2,377 L1220,377.6 L1220.8,378.1 L1221.5,378.6 L1222.2,379 L1223,379.5 L1223.8,379.9 L1224.5,380.3 L1225.2,380.7 L1226,381 L1226.8,381.4 L1227.5,381.8 L1228.2,382.1 L1229,382.5 L1229.8,382.8 L1230.5,383.2 L1231.2,383.5 L1232,383.9 L1232.8,384.2 L1233.5,384.5 L1234.2,384.9 L1235,385.2 L1235.8,385.5 L1236.5,385.8 L1237.2,386.1 L1238,386.4 L1238.8,386.7 L1239.5,387 L1240.2,387.3 L1241,387.6 L1241.8,387.9 L1242.5,388.2 L1243.2,388.5 L1244,388.7 L1244.8,389 L1245.5,389.3 L1246.2,389.5 L1247,389.8 L1247.8,390 L1248.5,390.2 L1249.2,390.5 L1250,390.7 L1250.8,390.9 L1251.5,391.1 L1252.2,391.3 L1253,391.5 L1253.8,391.8 L1254.5,392 L1255.2,392.2 L1256,392.4 L1256.8,392.6 L1257.5,392.7 L1258.2,392.9 L1259,393.1 L1259.8,393.3 L1260.5,393.5 L1261.2,393.7 L1262,393.9 L1262.8,394 L1263.5,394.2 L1264.2,394.4 L1265,394.5 L1265.8,394.7 L1266.5,394.9 L1267.2,395.1 L1268,395.2 L1268.8,395.4 L1269.5,395.5 L1270.2,395.7 L1271,395.9 L1271.8,396 L1272.5,396.2 L1273.2,396.4 L1274,396.5 L1274.8,396.7 L1275.5,396.8 L1276.2,397 L1277,397.1 L1277.8,397.3 L1278.5,397.5 L1279.2,397.6 L1280,397.8 L1280.8,397.9 L1281.5,398.1 L1282.2,398.2 L1283,398.4 L1283.8,398.6 L1284.5,398.7 L1285.2,398.9 L1286,399 L1286.8,399.2 L1287.5,399.3 L1288.2,399.5 L1289,399.6 L1289.8,399.8 L1290.5,400 L1291.2,400.1 L1292,400.3 L1292.8,400.4 L1293.5,400.6 L1294.2,400.7 L1295,400.8 L1295.8,401 L1296.5,401.1 L1297.2,401.3 L1298,401.4 L1298.8,401.6 L1299.5,401.7" stroke="#e8bec5"/>
<path d="M983,393.9 L983.8,394.2 L984.5,394.5 L985.2,394.8 L986,395.1 L986.8,395.4 L987.5,395.6 L988.2,395.9 L989,396.2 L989.8,396.5 L990.5,396.7 L991.2,397 L992,397.2 L992.8,397.5 L993.5,397.8 L994.2,398 L995,398.2 L995.8,398.5 L996.5,398.7 L997.2,398.9 L998,399.1 L998.8,399.4 L999.5,399.6 L1000.2,399.8 L1001,400 L1001.8,400.2 L1002.5,400.3 L1003.2,400.5 L1004,400.7 L1004.8,400.8 L1005.5,401 L1006.2,401.2 L1007,401.3 L1007.8,401.5 L1008.5,401.6 L1009.2,401.8 L1010,402 L1010.8,402.1 L1011.5,402.3 L1012.2,402.4 L1013,402.6 L1013.8,402.8 L1014.5,402.9 L1015.2,403.1 L1016,403.2 L1016.8,403.3 L1017.5,403.5 L1018.2,403.6 L1019,403.7 L1019.8,403.9 L1020.5,404 L1021.2,404.1 L1022,404.2 L1022.8,404.3 L1023.5,404.4 L1024.2,404.5 L1025,404.6 L1025.8,404.6 L1026.5,404.7 L1027.2,404.8 L1028,404.8 L1028.8,404.8 L1029.5,404.9 L1030.2,404.9 L1031,404.9 L1031.8,404.9 L1032.5,404.9 L1033.2,404.8 L1034,404.8 L1034.8,404.8 L1035.5,404.7 L1036.2,404.7 L1037,404.7 L1037.8,404.6 L1038.5,404.5 L1039.2,404.5 L1040,404.4 L1040.8,404.3 L1041.5,404.3 L1042.2,404.2 L1043,404.1 L1043.8,404 L1044.5,403.9 L1045.2,403.8 L1046,403.7 L1046.8,403.6 L1047.5,403.6 L1048.2,403.5 L1049,403.4 L1049.8,403.3 L1050.5,403.2 L1051.2,403.1 L1052,403 L1052.8,402.9 L1053.5,402.8 L1054.2,402.7 L1055,402.6 L1055.8,402.5 L1056.5,402.4 L1057.2,402.3 L1058,402.2 L1058.8,402.2 L1059.5,402.1 L1060.2,402 L1061,401.9 L1061.8,401.9 L1062.5,401.8 L1063.2,401.7 L1064,401.6 L1064.8,401.6 L1065.5,401.5 L1066.2,401.4 L1067,401.4 L1067.8,401.3 L1068.5,401.2 L1069.2,401.1 L1070,401.1 L1070.8,401 L1071.5,400.9 L1072.2,400.8 L1073,400.8 L1073.8,400.7 L1074.5,400.6 L1075.2,400.5 L1076,400.5 L1076.8,400.4 L1077.5,400.3 L1078.2,400.2 L1079,400.2 L1079.8,400.1 L1080.5,400 L1081.2,399.9 L1082,399.9 L1082.8,399.8 L1083.5,399.7 L1084.2,399.6 L1085,399.6 L1085.8,399.5 L1086.5,399.4 L1087.2,399.3 L1088,399.3 L1088.8,399.2 L1089.5,399.1 L1090.2,399 L1091,399 L1091.8,398.9 L1092.5,398.8 L1093.2,398.7 L1094,398.7 L1094.8,398.6 L1095.5,398.5 L1096.2,398.4 L1097,398.4 L1097.8,398.3 L1098.5,398.2 L1099.2,398.1 L1100,398.1 L1100.8,398 L1101.5,397.9 L1102.2,397.8 L1103,397.7 L1103.8,397.7 L1104.5,397.6 L1105.2,397.5 L1106,397.4 L1106.8,397.4 L1107.5,397.3 L1108.2,397.2 L1109,397.1 L1109.8,397.1 L1110.5,397 L1111.2,396.9 L1112,396.8 L1112.8,396.8 L1113.5,396.7 L1114.2,396.6 L1115,396.5 L1115.8,396.4 L1116.5,396.4 L1117.2,396.3 L1118,396.2 L1118.8,396.1 L1119.5,396.1 L1120.2,396 L1121,395.9 L1121.8,395.8 L1122.5,395.8 L1123.2,395.7 L1124,395.6 L1124.8,395.5 L1125.5,395.4 L1126.2,395.4 L1127,395.3 L1127.8,395.2 L1128.5,395.1 L1129.2,395.1 L1130,395 L1130.8,394.9 L1131.5,394.8 L1132.2,394.7 L1133,394.7 L1133.8,394.6 L1134.5,394.5 L1135.2,394.4 L1136,394.4 L1136.8,394.3 L1137.5,394.2 L1138.2,394.1 L1139,394 L1139.8,394 L1140.5,393.9 L1141.2,393.8 L1142,393.7 L1142.8,393.6 L1143.5,393.6 L1144.2,393.5 L1145,393.4 L1145.8,393.3 L1146.5,393.2 L1147.2,393.2 L1148,393.1 L1148.8,393 L1149.5,392.9 L1150.2,392.8 L1151,392.8 L1151.8,392.7 L1152.5,392.6 L1153.2,392.5 L1154,392.4 L1154.8,392.4 L1155.5,392.3 L1156.2,392.2 L1157,392.1 L1157.8,392 L1158.5,392 L1159.2,391.9 L1160,391.8 L1160.8,391.7 L1161.5,391.6 L1162.2,391.5 L1163,391.4 L1163.8,391.4 L1164.5,391.3 L1165.2,391.2 L1166,391.1 L1166.8,391 L1167.5,390.9 L1168.2,390.8 L1169,390.8 L1169.8,390.7 L1170.5,390.6 L1171.2,390.5 L1172,390.4 L1172.8,390.3 L1173.5,390.2 L1174.2,390.1 L1175,390 L1175.8,389.9 L1176.5,389.9 L1177.2,389.8 L1178,389.7 L1178.8,389.6 L1179.5,389.5 L1180.2,389.4 L1181,389.3 L1181.8,389.2 L1182.5,389.1 L1183.2,389 L1184,388.9 L1184.8,388.8 L1185.5,388.6 L1186.2,388.5 L1187,388.4 L1187.8,388.3 L1188.5,388.2 L1189.2,388.1 L1190,388 L1190.8,387.8 L1191.5,387.7 L1192.2,387.6 L1193,387.5 L1193.8,387.3 L1194.5,387.2 L1195.2,387.1 L1196,386.9 L1196.8,386.8 L1197.5,386.6 L1198.2,386.4 L1199,386.3 L1199.8,386.1 L1200.5,385.9 L1201.2,385.7 L1202,385.5 L1202.8,385.3 L1203.5,385 L1204.2,384.8 L1205,384.5 L1205.8,384.2 L1206.5,383.8 L1207.2,383.4 L1208,383 L1208.8,382.5 L1209.5,381.9 L1210.2,381.3 L1211,380.6 L1211.8,379.8 L1212.5,378.9 L1213.2,377.8 L1214,376.7 L1214.8,375.4 L1215.5,373.9 L1216.2,372.2 L1217,370.4 L1217.8,368.3 L1218.5,366 L1219.2,363.5 L1220,360.7 L1220.8,357.6 L1221.5,354.3 L1222.2,350.6 L1223,346.7 L1223.8,342.5 L1224.5,337.9 L1225.2,333.2 L1226,328.1 L1226.8,322.8 L1227.5,317.3 L1228.2,311.6 L1229,305.7 L1229.8,299.7 L1230.5,293.7 L1231.2,287.7 L1232,281.8 L1232.8,276 L1233.5,270.5 L1234.2,265.2 L1235,260.4 L1235.8,256 L1236.5,252.1 L1237.2,248.9 L1238,246.4 L1238.8,244.7 L1239.5,243.8 L1240.2,243.7 L1241,244.3 L1241.8,245.6 L1242.5,247.6 L1243.2,250.2 L1244,253.4 L1244.8,257.2 L1245.5,261.4 L1246.2,266.1 L1247,271.2 L1247.8,276.5 L1248.5,282.1 L1249.2,287.9 L1250,293.8 L1250.8,299.7 L1251.5,305.7 L1252.2,311.6 L1253,317.4 L1253.8,323 L1254.5,328.5 L1255.2,333.8 L1256,338.9 L1256.8,343.7 L1257.5,348.2 L1258.2,352.5 L1259,356.5 L1259.8,360.2 L1260.5,363.6 L1261.2,366.7 L1262,369.6 L1262.8,372.3 L1263.5,374.7 L1264.2,376.8 L1265,378.8 L1265.8,380.5 L1266.5,382.1 L1267.2,383.5 L1268,384.8 L1268.8,386 L1269.5,387 L1270.2,388 L1271,388.8 L1271.8,389.6 L1272.5,390.3 L1273.2,391 L1274,391.6 L1274.8,392.1 L1275.5,392.7 L1276.2,393.1 L1277,393.6 L1277.8,394 L1278.5,394.4 L1279.2,394.7 L1280,395 L1280.8,395.4 L1281.5,395.6 L1282.2,395.9 L1283,396.2 L1283.8,396.4 L1284.5,396.6 L1285.2,396.8 L1286,396.9 L1286.8,397.1 L1287.5,397.3 L1288.2,397.4 L1289,397.6 L1289.8,397.8 L1290.5,397.9 L1291.2,398 L1292,398.2 L1292.8,398.3 L1293.5,398.4 L1294.2,398.6 L1295,398.7 L1295.8,398.8 L1296.5,398.9 L1297.2,399 L1298,399 L1298.8,399.1 L1299.5,399.2" stroke="#f0d7d9"/>
</g>
<ellipse cx="914.9" cy="226.1" rx="26" ry="172.2" fill="none" stroke="#267d87" stroke-width="5.6"/>
<path d="M927,67.4 H955" stroke="#267d87" stroke-width="4" fill="none"/>
<polygon points="950.2,59.6 982,67.4 950.2,75.6" fill="#267d87"/>
<polygon points="999.7,55.9 1003.3,67 1014.9,67 1005.5,73.8 1009.1,84.8 999.7,78 990.3,84.8 993.9,73.8 984.5,67 996.1,67" fill="#267d87"/>
<rect x="756" y="19" width="531" height="405.6" fill="none" stroke="#000" stroke-width="4.1"/>
<path d="M806,424.6 v-8M859.9,424.6 v-8M913.7,424.6 v-8M967.5,424.6 v-8M1021.4,424.6 v-8M1075.2,424.6 v-8M1129.1,424.6 v-8M1183,424.6 v-8M1236.8,424.6 v-8" stroke="#000" stroke-width="4.0" fill="none"/>
<text transform="translate(823,449.6) rotate(-45)" font-size="29.2" text-anchor="end">0</text>
<text transform="translate(879.4,449.6) rotate(-45)" font-size="29.2" text-anchor="end">15</text>
<text transform="translate(933.2,449.6) rotate(-45)" font-size="29.2" text-anchor="end">30</text>
<text transform="translate(987,449.6) rotate(-45)" font-size="29.2" text-anchor="end">45</text>
<text transform="translate(1037.9,449.6) rotate(-45)" font-size="29.2" text-anchor="end">60</text>
<text transform="translate(1091.2,449.6) rotate(-45)" font-size="29.2" text-anchor="end">75</text>
<text transform="translate(1142.6,449.6) rotate(-45)" font-size="29.2" text-anchor="end">90</text>
<text transform="translate(1199,449.6) rotate(-45)" font-size="29.2" text-anchor="end">105</text>
<text transform="translate(1252.3,449.6) rotate(-45)" font-size="29.2" text-anchor="end">120</text>
<text x="668.5" y="30.2" font-size="42.5" text-anchor="start" fill="#000">b</text>
<text transform="translate(727.6,221.8) rotate(-90)" font-size="29.2" text-anchor="middle" fill="#000">Output intensity (a.u.)</text>
<text x="845.9" y="48" font-size="24.8" text-anchor="start" fill="#000">MAPbI<tspan font-size="16" dy="8.5">3</tspan><tspan dy="-8.5"> +4% BHT @95%RH</tspan></text>
<text x="1015.9" y="81.6" font-size="25.1" text-anchor="start" fill="#267d87" stroke="#267d87" stroke-width="1.1" stroke-linejoin="round">Champion film</text>
<text x="1039.1" y="513.2" font-size="29.2" text-anchor="middle" fill="#000">Time (min)</text>
</g>
<g id="pc">
<g clip-path="url(#cc)" fill="none" stroke="#267d87" stroke-width="5.6" stroke-linejoin="round">
<path d="M1380,409.3 L1380.6,408.6 L1381.2,408.8 L1381.8,408.9 L1382.4,408.5 L1383,408.8 L1383.6,408.8 L1384.2,408.3 L1384.8,409 L1385.4,408.9 L1386,408.5 L1386.6,408.6 L1387.2,408.8 L1387.8,408.6 L1388.4,408.6 L1389,408.2 L1389.6,408.8 L1390.2,408.6 L1390.8,408.7 L1391.4,408.1 L1392,409 L1392.6,408.6 L1393.2,408.4 L1393.8,409 L1394.4,408.4 L1395,408 L1395.6,408.3 L1396.2,407.8 L1396.8,408.7 L1397.4,408.2 L1398,408.1 L1398.6,408.6 L1399.2,407.8 L1399.8,408.4 L1400.4,407.7 L1401,408.1 L1401.6,407.9 L1402.2,408.6 L1402.8,408.7 L1403.4,408.1 L1404,408.4 L1404.6,408.1 L1405.2,408.3 L1405.8,407.9 L1406.4,407.6 L1407,407.6 L1407.6,408.2 L1408.2,408.7 L1408.8,408.1 L1409.4,407.9 L1410,408.5 L1410.6,408 L1411.2,408 L1411.8,408 L1412.4,407.9 L1413,407.8 L1413.6,407.5 L1414.2,408 L1414.8,407.8 L1415.4,408.2 L1416,407.7 L1416.6,407.3 L1417.2,407.8 L1417.8,408.3 L1418.4,407.6 L1419,407.5 L1419.6,407.4 L1420.2,407.4 L1420.8,407.6 L1421.4,407.3 L1422,408.1 L1422.6,407.6 L1423.2,407.6 L1423.8,408 L1424.4,408 L1425,407.5 L1425.6,407.6 L1426.2,407.7 L1426.8,407.4 L1427.4,407 L1428,407.6 L1428.6,407.7 L1429.2,407.5 L1429.8,407.1 L1430.4,407.3 L1431,407.2 L1431.6,407.2 L1432.2,407.7 L1432.8,407.7 L1433.4,407.4 L1434,407.4 L1434.6,407.4 L1435.2,407.2 L1435.8,407.1 L1436.4,406.9 L1437,407.1 L1437.6,407.7 L1438.2,407.3 L1438.8,406.9 L1439.4,406.9 L1440,406.7 L1440.6,407 L1441.2,407 L1441.8,406.5 L1442.4,407 L1443,406.6 L1443.6,407.2 L1444.2,406.8 L1444.8,407.2 L1445.4,406.5 L1446,406.6 L1446.6,406.7 L1447.2,406.9 L1447.8,406.7 L1448.4,406.2 L1449,406.5 L1449.6,406.4 L1450.2,406.3 L1450.8,406.2 L1451.4,406.8 L1452,406.2 L1452.6,406 L1453.2,406.4 L1453.8,406.2 L1454.4,406.1 L1455,406.3 L1455.6,406.1 L1456.2,406.1 L1456.8,406.2 L1457.4,406 L1458,405.7 L1458.6,405.7 L1459.2,405.6 L1459.8,405.8 L1460.4,405.3 L1461,405.1 L1461.6,405.6 L1462.2,405.1 L1462.8,404.9 L1463.4,405.5 L1464,405.2 L1464.6,405.4 L1465.2,405.1 L1465.8,404.9 L1466.4,404.8 L1467,404.9 L1467.6,405 L1468.2,404.8 L1468.8,404.9 L1469.4,404.5 L1470,404.8 L1470.6,404.3 L1471.2,404.7 L1471.8,404.9 L1472.4,404.9 L1473,405 L1473.6,404.1 L1474.2,404.7 L1474.8,404.7 L1475.4,404.6 L1476,404 L1476.6,404.3 L1477.2,404.7 L1477.8,403.7 L1478.4,404.2 L1479,404.3 L1479.6,403.7 L1480.2,404 L1480.8,403.5 L1481.4,403.5 L1482,403.5 L1482.6,403.7 L1483.2,403.5 L1483.8,403.8 L1484.4,403.2 L1485,403.3 L1485.6,403.6 L1486.2,403.4 L1486.8,402.8 L1487.4,403.3 L1488,402.9 L1488.6,403.1 L1489.2,403 L1489.8,403.2 L1490.4,402.9 L1491,402.2 L1491.6,402.3 L1492.2,402.8 L1492.8,402.5 L1493.4,402.8 L1494,402.5 L1494.6,402.2 L1495.2,402.6 L1495.8,402 L1496.4,401.6 L1497,402.7 L1497.6,401.5 L1498.2,402.1 L1498.8,402.1 L1499.4,401.8 L1500,401.3 L1500.6,401.9 L1501.2,401.2 L1501.8,401.1 L1502.4,401.3 L1503,401.6 L1503.6,401.4 L1504.2,401.4 L1504.8,401 L1505.4,401 L1506,400.7 L1506.6,400.8 L1507.2,401 L1507.8,400.7 L1508.4,400.8 L1509,400.4 L1509.6,400.4 L1510.2,400.5 L1510.8,400.3 L1511.4,400.4 L1512,400.2 L1512.6,400.6 L1513.2,400 L1513.8,399.9 L1514.4,399.6 L1515,399.8 L1515.6,399.9 L1516.2,399.4 L1516.8,399.5 L1517.4,399.7 L1518,399.3 L1518.6,399.1 L1519.2,399.5 L1519.8,399.1 L1520.4,399.1 L1521,399.3 L1521.6,399.2 L1522.2,398.7 L1522.8,398.5 L1523.4,398.7 L1524,398.5 L1524.6,397.9 L1525.2,398.7 L1525.8,398.3 L1526.4,398.4 L1527,397.8 L1527.6,398.4 L1528.2,397.7 L1528.8,397.8 L1529.4,397.3 L1530,397.6 L1530.6,397.5 L1531.2,397.4 L1531.8,397.5 L1532.4,397.3 L1533,397.5 L1533.6,397 L1534.2,396.7 L1534.8,396.9 L1535.4,397 L1536,397.1 L1536.6,396.9 L1537.2,396.1 L1537.8,396.6 L1538.4,396.8 L1539,396.3 L1539.6,396.1 L1540.2,396.2 L1540.8,395.9 L1541.4,396.1 L1542,395.9 L1542.6,396.2 L1543.2,395.8 L1543.8,395.4 L1544.4,395.7 L1545,395.7 L1545.6,395.2 L1546.2,395.1 L1546.8,394.5 L1547.4,395.3 L1548,394.8 L1548.6,394.3 L1549.2,394.3 L1549.8,394.7 L1550.4,394.8 L1551,394.5 L1551.6,394.6 L1552.2,394 L1552.8,393.9 L1553.4,394.4 L1554,394.2 L1554.6,394 L1555.2,394.3 L1555.8,393.6 L1556.4,393.6 L1557,393.9 L1557.6,394.1 L1558.2,393.5 L1558.8,393.8 L1559.4,393.1 L1560,393.3 L1560.6,393 L1561.2,392.6 L1561.8,393 L1562.4,393.1 L1563,392.7 L1563.6,392.6 L1564.2,392.9 L1564.8,392.1 L1565.4,391.9 L1566,392.1 L1566.6,391.8 L1567.2,392.4 L1567.8,392.1 L1568.4,391.6 L1569,391.6 L1569.6,392.5 L1570.2,391.4 L1570.8,391.3 L1571.4,391.5 L1572,391.5 L1572.6,391.3 L1573.2,390.9 L1573.8,390.7 L1574.4,391.1 L1575,390.8 L1575.6,390.3 L1576.2,391 L1576.8,390.8 L1577.4,390.4 L1578,390.3 L1578.6,390.4 L1579.2,390 L1579.8,389.7 L1580.4,390.1 L1581,389.5 L1581.6,389.9 L1582.2,389.3 L1582.8,389.6 L1583.4,389.5 L1584,390 L1584.6,389.1 L1585.2,388.9 L1585.8,389 L1586.4,388.8 L1587,388.8 L1587.6,389 L1588.2,389 L1588.8,389.2 L1589.4,388.4 L1590,389.3 L1590.6,389 L1591.2,388.3 L1591.8,387.7 L1592.4,388.2 L1593,388.1 L1593.6,387.4 L1594.2,388 L1594.8,387.8 L1595.4,387.6 L1596,387.9 L1596.6,387.9 L1597.2,387.4 L1597.8,387.5 L1598.4,387.2 L1599,387 L1599.6,387.2 L1600.2,387.2 L1600.8,386.9 L1601.4,386.3 L1602,387 L1602.6,386.3 L1603.2,386.7 L1603.8,387.1 L1604.4,386.5 L1605,386.1 L1605.6,385.9 L1606.2,386.6 L1606.8,386.2 L1607.4,386.2 L1608,386.3 L1608.6,385.9 L1609.2,385.7 L1609.8,385.5 L1610.4,384.8 L1611,385.2 L1611.6,385.5 L1612.2,385.4 L1612.8,385.4 L1613.4,385.2 L1614,385.2 L1614.6,385.3 L1615.2,384.7 L1615.8,384.8 L1616.4,384.4 L1617,385 L1617.6,384.7 L1618.2,384.7 L1618.8,384.9 L1619.4,384.7 L1620,384.3 L1620.6,384.5 L1621.2,383.8 L1621.8,384.2 L1622.4,384.1 L1623,383.5 L1623.6,384.2 L1624.2,383.6 L1624.8,383.9 L1625.4,383.5 L1626,383.9 L1626.6,383.9 L1627.2,383.2 L1627.8,382.9 L1628.4,383.2 L1629,383.5 L1629.6,383 L1630.2,382.9 L1630.8,383.1 L1631.4,382.2 L1632,382.7 L1632.6,382.4 L1633.2,382.8 L1633.8,382.5 L1634.4,382.3 L1635,382.5 L1635.6,382.1 L1636.2,382.4 L1636.8,382.2 L1637.4,382.2 L1638,382.1 L1638.6,382.5 L1639.2,382.1 L1639.8,382.2 L1640.4,382.2 L1641,381.8 L1641.6,382.1 L1642.2,382 L1642.8,381.9 L1643.4,381.7 L1644,381.6 L1644.6,381.9 L1645.2,382.3 L1645.8,381.4 L1646.4,381.7 L1647,381.4 L1647.6,381.7 L1648.2,381.6 L1648.8,381.7 L1649.4,380.6 L1650,381.2 L1650.6,381 L1651.2,381.2 L1651.8,381 L1652.4,381 L1653,381.4 L1653.6,381.7 L1654.2,380.3 L1654.8,381 L1655.4,381.1 L1656,381 L1656.6,380.9 L1657.2,380.6 L1657.8,380.7 L1658.4,381.2 L1659,381.3 L1659.6,381 L1660.2,380.7 L1660.8,381 L1661.4,380.9 L1662,381.1 L1662.6,381 L1663.2,380.7 L1663.8,381 L1664.4,380.6 L1665,381.2 L1665.6,381.3 L1666.2,380.6 L1666.8,381.1 L1667.4,380.7 L1668,381.3 L1668.6,381.2 L1669.2,380.9 L1669.8,381.3 L1670.4,380.9 L1671,380.8 L1671.6,380.9 L1672.2,381 L1672.8,381 L1673.4,381.1 L1674,380.9 L1674.6,381.3 L1675.2,381.4 L1675.8,381 L1676.4,380.8 L1677,381.4 L1677.6,381.5 L1678.2,381.2 L1678.8,380.9 L1679.4,381.4 L1680,381.8 L1680.6,380.8 L1681.2,381.5 L1681.8,381.3 L1682.4,381.2 L1683,381.6 L1683.6,381.1 L1684.2,381.6 L1684.8,381.9 L1685.4,381.6 L1686,381.3 L1686.6,381.1 L1687.2,381.3 L1687.8,381.2 L1688.4,382.2 L1689,381.7 L1689.6,381.5 L1690.2,381.4 L1690.8,381.5 L1691.4,381.8 L1692,381.5 L1692.6,382.4 L1693.2,381.7 L1693.8,381.8 L1694.4,382.1 L1695,382.5 L1695.6,382.5 L1696.2,382 L1696.8,382.2 L1697.4,382.2 L1698,382.4 L1698.6,382.3 L1699.2,382 L1699.8,382 L1700.4,382.4 L1701,382.1 L1701.6,382.8 L1702.2,382.5 L1702.8,382.2 L1703.4,382.4 L1704,382.4 L1704.6,382.6 L1705.2,382.9 L1705.8,382.3 L1706.4,382.2 L1707,382.9 L1707.6,382.7 L1708.2,382.9 L1708.8,383 L1709.4,382.9 L1710,383.2 L1710.6,382.8 L1711.2,383.1 L1711.8,382.9 L1712.4,382.8 L1713,383.4 L1713.6,383.4 L1714.2,382.7 L1714.8,383 L1715.4,383.4 L1716,383.7 L1716.6,383.3 L1717.2,383.5 L1717.8,383.2 L1718.4,384.3 L1719,383.8 L1719.6,384 L1720.2,383.9 L1720.8,384.1 L1721.4,384 L1722,383.8 L1722.6,384.2 L1723.2,384 L1723.8,384.4 L1724.4,383.9 L1725,384 L1725.6,384.4 L1726.2,384.6 L1726.8,384.4 L1727.4,384.2 L1728,384.4 L1728.6,384.4 L1729.2,385.1 L1729.8,384.9 L1730.4,385 L1731,384.8 L1731.6,384.6 L1732.2,385.2 L1732.8,385.4 L1733.4,385.1 L1734,385 L1734.6,385.4 L1735.2,385 L1735.8,385.4 L1736.4,385.1 L1737,385.1 L1737.6,385.5 L1738.2,385.5 L1738.8,386 L1739.4,385.5 L1740,385.6 L1740.6,385.4 L1741.2,385.2 L1741.8,385.3 L1742.4,386 L1743,385.6 L1743.6,386.3 L1744.2,386.5 L1744.8,386.1 L1745.4,386.7 L1746,386.3 L1746.6,386.6 L1747.2,386.3 L1747.8,386.7 L1748.4,386.3 L1749,386.8 L1749.6,386.5 L1750.2,386.7 L1750.8,387 L1751.4,386.9 L1752,386.9 L1752.6,387.2 L1753.2,387.3 L1753.8,386.8 L1754.4,387.4 L1755,387.5 L1755.6,387.2 L1756.2,387.6 L1756.8,387.2 L1757.4,388 L1758,387.6 L1758.6,387.7 L1759.2,388.2 L1759.8,387.9 L1760.4,388.2 L1761,387.8 L1761.6,388 L1762.2,387.9 L1762.8,388.3 L1763.4,388.7 L1764,388.5 L1764.6,388.8 L1765.2,388.4 L1765.8,388.5 L1766.4,388.7 L1767,389.1 L1767.6,389.1 L1768.2,389.1 L1768.8,389.3 L1769.4,389.2 L1770,389.3 L1770.6,389.8 L1771.2,389.3 L1771.8,389.6 L1772.4,390.1 L1773,389.8 L1773.6,390.1 L1774.2,389.8 L1774.8,390.6 L1775.4,389.5 L1776,389.9 L1776.6,390 L1777.2,390.9 L1777.8,390.6 L1778.4,390.5 L1779,390.4 L1779.6,390.9 L1780.2,390.9 L1780.8,390.8 L1781.4,390.7 L1782,390.9 L1782.6,391.4 L1783.2,391.5 L1783.8,391.5 L1784.4,391.6 L1785,391.2 L1785.6,391.8 L1786.2,391.6 L1786.8,392 L1787.4,392.2 L1788,392 L1788.6,392 L1789.2,392.7 L1789.8,392.6 L1790.4,392.5 L1791,391.9 L1791.6,392.8 L1792.2,393.1 L1792.8,393.4 L1793.4,393 L1794,393.1 L1794.6,393.3 L1795.2,393.7 L1795.8,393.3 L1796.4,393.7 L1797,393.6 L1797.6,394 L1798.2,393.6 L1798.8,394.2 L1799.4,394.1 L1800,394.3 L1800.6,394.6 L1801.2,394.9 L1801.8,394.2 L1802.4,395.1 L1803,395.1 L1803.6,394.9 L1804.2,395.5 L1804.8,395.3 L1805.4,395.7 L1806,395.3 L1806.6,395.3 L1807.2,396 L1807.8,396.4 L1808.4,396.1 L1809,396.2 L1809.6,396 L1810.2,395.8 L1810.8,396.3 L1811.4,396.8 L1812,396 L1812.6,396.5 L1813.2,396.2 L1813.8,396.9 L1814.4,397.2 L1815,396.7 L1815.6,397.1 L1816.2,397.7 L1816.8,397.4 L1817.4,397.1 L1818,397.2 L1818.6,397.1 L1819.2,398 L1819.8,397.7 L1820.4,398.3 L1821,398.4 L1821.6,398 L1822.2,398.2 L1822.8,398.7 L1823.4,398.6 L1824,398.7 L1824.6,398.3 L1825.2,399.1 L1825.8,398.7 L1826.4,398.4 L1827,399 L1827.6,399.4 L1828.2,400 L1828.8,399.4 L1829.4,399.2 L1830,400.3 L1830.6,399.8 L1831.2,399.8 L1831.8,399.7 L1832.4,399.8 L1833,400.6 L1833.6,400.2 L1834.2,400.3 L1834.8,400.4 L1835.4,401 L1836,400.5 L1836.6,401 L1837.2,401 L1837.8,401.1 L1838.4,400.9 L1839,401.4 L1839.6,401.8 L1840.2,401.4 L1840.8,401.3 L1841.4,401.3 L1842,401.8 L1842.6,401.8 L1843.2,401.9 L1843.8,402 L1844.4,401.7 L1845,402.5 L1845.6,402.4 L1846.2,402.4 L1846.8,402.6 L1847.4,402.9 L1848,402.8 L1848.6,402.6 L1849.2,403.3 L1849.8,402.9 L1850.4,403 L1851,402.8 L1851.6,403.4 L1852.2,403.2 L1852.8,403.4 L1853.4,403.8 L1854,403.8 L1854.6,404.2 L1855.2,404.1 L1855.8,404 L1856.4,404.1 L1857,404.1 L1857.6,404.6 L1858.2,404.5 L1858.8,404.5 L1859.4,404.9 L1860,404.8 L1860.6,404.8 L1861.2,404.6 L1861.8,405.2 L1862.4,405.3 L1863,405.3 L1863.6,405.3 L1864.2,405.3 L1864.8,405.6 L1865.4,405.8 L1866,405.8 L1866.6,405.9 L1867.2,405.9 L1867.8,406.2 L1868.4,406.3 L1869,406.1 L1869.6,406.6 L1870.2,406.8 L1870.8,406.9 L1871.4,406.7 L1872,406.8 L1872.6,406.6 L1873.2,407.3 L1873.8,406.6 L1874.4,407.1 L1875,407.3 L1875.6,407.7 L1876.2,407.6 L1876.8,407.4 L1877.4,407.4 L1878,407.7 L1878.6,408 L1879.2,408.1 L1879.8,408.1 L1880.4,408.1 L1881,408.3 L1881.6,408.8 L1882.2,408.3 L1882.8,408.7 L1883.4,409.3 L1884,409.1 L1884.6,408.9 L1885.2,409.3 L1885.8,409 L1886.4,409.3 L1887,409.9 L1887.6,410 L1888.2,409.1 L1888.8,409.9 L1889.4,410.4 L1890,409.8 L1890.6,410.1 L1891.2,410.6 L1891.8,410.1 L1892.4,410.5 L1893,410.4 L1893.6,410 L1894.2,410.7 L1894.8,410.7 L1895.4,411.1 L1896,411.5 L1896.6,411.2 L1897.2,411 L1897.8,411.4 L1898.4,411.4 L1899,411.7 L1899.6,411.1 L1900.2,411.3 L1900.8,411.2 L1901.4,412 L1902,411.9 L1902.6,411.9 L1903.2,411.9 L1903.8,412.1 L1904.4,412.1 L1905,412.3 L1905.6,412.4 L1906.2,413 L1906.8,412.8 L1907.4,412.6 L1908,412.7 L1908.6,413.3 L1909.2,413.2 L1909.8,413.3 L1910.4,413.5 L1911,413.8 L1911.6,413.1 L1912.2,413.3 L1912.8,413.1 L1913.4,413.8 L1914,413.7 L1914.6,413.7 L1915.2,413.7 L1915.8,414.2 L1916.4,414.1 L1917,414 L1917.6,414.6 L1918.2,414 L1918.8,414 L1919.4,415.1 L1920,414.4 L1920.6,414.3 L1921.2,414.3 L1921.8,414.5 L1922.4,414.8 L1923,414.8 L1923.6,414.8 L1924.2,414.6 L1924.8,414.2"/>
<path d="M1380,407.9 L1380.6,408.2 L1381.2,408.1 L1381.8,407.7 L1382.4,408 L1383,407.7 L1383.6,407.7 L1384.2,407.4 L1384.8,407.6 L1385.4,407.8 L1386,407.6 L1386.6,407.9 L1387.2,408.2 L1387.8,408 L1388.4,407.5 L1389,407.4 L1389.6,407.4 L1390.2,407.3 L1390.8,407.6 L1391.4,407.6 L1392,407.5 L1392.6,407.5 L1393.2,407.5 L1393.8,407.4 L1394.4,407.2 L1395,407.9 L1395.6,407.6 L1396.2,407.1 L1396.8,407 L1397.4,407.1 L1398,407.3 L1398.6,407.6 L1399.2,407.5 L1399.8,407.5 L1400.4,407.4 L1401,407.4 L1401.6,407.3 L1402.2,407.2 L1402.8,407 L1403.4,406.5 L1404,406.9 L1404.6,407.5 L1405.2,406.8 L1405.8,406.7 L1406.4,407.2 L1407,406.9 L1407.6,406.7 L1408.2,407.2 L1408.8,406.9 L1409.4,406.9 L1410,406.5 L1410.6,406.8 L1411.2,406.7 L1411.8,406.8 L1412.4,406.9 L1413,406.9 L1413.6,406.6 L1414.2,406.7 L1414.8,406.1 L1415.4,406.6 L1416,406.6 L1416.6,406.3 L1417.2,406.1 L1417.8,406.3 L1418.4,405.9 L1419,406.3 L1419.6,406.3 L1420.2,405.9 L1420.8,406.2 L1421.4,406.4 L1422,406.4 L1422.6,406.3 L1423.2,406 L1423.8,405.9 L1424.4,405.8 L1425,406.1 L1425.6,406.5 L1426.2,406.2 L1426.8,406.3 L1427.4,406.2 L1428,405.3 L1428.6,405.7 L1429.2,405.6 L1429.8,406 L1430.4,406.1 L1431,405.4 L1431.6,405.5 L1432.2,405.6 L1432.8,405.3 L1433.4,405.2 L1434,405.2 L1434.6,405.6 L1435.2,405 L1435.8,405.6 L1436.4,405.2 L1437,405.4 L1437.6,405.6 L1438.2,404.9 L1438.8,404.8 L1439.4,405.1 L1440,404.7 L1440.6,404.7 L1441.2,404.8 L1441.8,404.9 L1442.4,404.4 L1443,404.6 L1443.6,404.9 L1444.2,405 L1444.8,404 L1445.4,404.9 L1446,404.7 L1446.6,404.1 L1447.2,404 L1447.8,404.5 L1448.4,404.2 L1449,404.3 L1449.6,404.4 L1450.2,404 L1450.8,404.1 L1451.4,404.2 L1452,404.2 L1452.6,404.4 L1453.2,404.3 L1453.8,403.9 L1454.4,403.7 L1455,404.3 L1455.6,403.8 L1456.2,403.7 L1456.8,403.2 L1457.4,403.7 L1458,403.2 L1458.6,403.2 L1459.2,402.9 L1459.8,403 L1460.4,403.1 L1461,402.6 L1461.6,402.8 L1462.2,402.9 L1462.8,402.5 L1463.4,402.5 L1464,402.5 L1464.6,402.3 L1465.2,402.8 L1465.8,402.3 L1466.4,402.7 L1467,402.6 L1467.6,402 L1468.2,402.3 L1468.8,402 L1469.4,401.8 L1470,401.9 L1470.6,401.9 L1471.2,402.1 L1471.8,402.1 L1472.4,401.4 L1473,401.5 L1473.6,401.7 L1474.2,401.8 L1474.8,400.7 L1475.4,401.7 L1476,401.2 L1476.6,401.6 L1477.2,401 L1477.8,400.8 L1478.4,401 L1479,401.2 L1479.6,400.8 L1480.2,400.1 L1480.8,400.8 L1481.4,400.1 L1482,400.2 L1482.6,400.1 L1483.2,399.8 L1483.8,399.9 L1484.4,399.8 L1485,399.9 L1485.6,399.9 L1486.2,399.8 L1486.8,399.4 L1487.4,399.6 L1488,399.9 L1488.6,399.8 L1489.2,399.4 L1489.8,399.5 L1490.4,399.5 L1491,399.5 L1491.6,399.5 L1492.2,398.8 L1492.8,398.7 L1493.4,399.1 L1494,399.1 L1494.6,399 L1495.2,397.8 L1495.8,398.3 L1496.4,397.3 L1497,398.3 L1497.6,398 L1498.2,397.9 L1498.8,397.7 L1499.4,398 L1500,397.5 L1500.6,397.7 L1501.2,397.5 L1501.8,397.3 L1502.4,397.2 L1503,397 L1503.6,396.5 L1504.2,396.9 L1504.8,396.8 L1505.4,396.5 L1506,396.6 L1506.6,396.5 L1507.2,395.8 L1507.8,396 L1508.4,395.7 L1509,395.5 L1509.6,395.7 L1510.2,395.2 L1510.8,395.2 L1511.4,395.3 L1512,395.2 L1512.6,395 L1513.2,395.4 L1513.8,394.5 L1514.4,394.6 L1515,394.1 L1515.6,394.4 L1516.2,394.5 L1516.8,394.3 L1517.4,393.7 L1518,393.6 L1518.6,393.9 L1519.2,393.4 L1519.8,393.6 L1520.4,392.9 L1521,393.4 L1521.6,393.2 L1522.2,392.9 L1522.8,392.4 L1523.4,392.4 L1524,392.3 L1524.6,392.2 L1525.2,392 L1525.8,391.8 L1526.4,391.8 L1527,392 L1527.6,390.9 L1528.2,390.9 L1528.8,390.7 L1529.4,390.8 L1530,390.3 L1530.6,390.8 L1531.2,390.6 L1531.8,390.3 L1532.4,390 L1533,390.1 L1533.6,390 L1534.2,389.9 L1534.8,389.4 L1535.4,389.7 L1536,388.9 L1536.6,389.5 L1537.2,388.2 L1537.8,388.7 L1538.4,388.4 L1539,388.8 L1539.6,388 L1540.2,388.8 L1540.8,387.7 L1541.4,388.5 L1542,387.9 L1542.6,387.7 L1543.2,387.6 L1543.8,388 L1544.4,387.5 L1545,386.4 L1545.6,387.2 L1546.2,386.8 L1546.8,386.1 L1547.4,386.7 L1548,386 L1548.6,386.2 L1549.2,386.1 L1549.8,385.6 L1550.4,385.9 L1551,385.2 L1551.6,385.4 L1552.2,385 L1552.8,385 L1553.4,385.4 L1554,384.8 L1554.6,384.3 L1555.2,384.4 L1555.8,384 L1556.4,384.1 L1557,384 L1557.6,383.8 L1558.2,383.6 L1558.8,383.3 L1559.4,383.4 L1560,383.4 L1560.6,382.7 L1561.2,382.7 L1561.8,382.6 L1562.4,382.7 L1563,382.5 L1563.6,381.8 L1564.2,381.9 L1564.8,381.3 L1565.4,381.2 L1566,381.3 L1566.6,381.3 L1567.2,381.2 L1567.8,380.7 L1568.4,380.2 L1569,380.5 L1569.6,380.2 L1570.2,380.2 L1570.8,379.9 L1571.4,379.9 L1572,379.7 L1572.6,379.6 L1573.2,379.1 L1573.8,379.3 L1574.4,378.7 L1575,378.7 L1575.6,379 L1576.2,378.4 L1576.8,377.8 L1577.4,378.4 L1578,378.1 L1578.6,377.9 L1579.2,377.5 L1579.8,377.4 L1580.4,377.1 L1581,376.8 L1581.6,377.2 L1582.2,376.5 L1582.8,376.3 L1583.4,376.2 L1584,376.7 L1584.6,376.3 L1585.2,375.8 L1585.8,375.7 L1586.4,375.7 L1587,375.7 L1587.6,374.8 L1588.2,375.4 L1588.8,374.9 L1589.4,374.7 L1590,374.6 L1590.6,374.8 L1591.2,374.9 L1591.8,374.4 L1592.4,374.4 L1593,373.9 L1593.6,374.1 L1594.2,374.1 L1594.8,373.3 L1595.4,373.5 L1596,373.7 L1596.6,372.9 L1597.2,373.2 L1597.8,373.3 L1598.4,372.6 L1599,372.9 L1599.6,372.9 L1600.2,373 L1600.8,372.3 L1601.4,372.9 L1602,372.6 L1602.6,372.7 L1603.2,372.6 L1603.8,372.3 L1604.4,372.3 L1605,371.5 L1605.6,371.6 L1606.2,371.6 L1606.8,371.7 L1607.4,372 L1608,371.1 L1608.6,371.4 L1609.2,371.1 L1609.8,370.9 L1610.4,371.7 L1611,371.2 L1611.6,371.6 L1612.2,371.4 L1612.8,370.7 L1613.4,370.4 L1614,371.4 L1614.6,370.7 L1615.2,370.4 L1615.8,370.8 L1616.4,370.6 L1617,370.3 L1617.6,370.3 L1618.2,370.4 L1618.8,370.3 L1619.4,370.4 L1620,370 L1620.6,370 L1621.2,370.2 L1621.8,370 L1622.4,370.2 L1623,369.7 L1623.6,369.7 L1624.2,369.4 L1624.8,370 L1625.4,369.2 L1626,369.6 L1626.6,369.2 L1627.2,369.5 L1627.8,369.5 L1628.4,368.8 L1629,369.2 L1629.6,368.7 L1630.2,369.5 L1630.8,368.9 L1631.4,368.6 L1632,368.8 L1632.6,369.3 L1633.2,369.3 L1633.8,369.2 L1634.4,368.5 L1635,368.7 L1635.6,369.1 L1636.2,368.4 L1636.8,368.5 L1637.4,368.3 L1638,368.2 L1638.6,368.8 L1639.2,368.6 L1639.8,368.5 L1640.4,368.5 L1641,368.6 L1641.6,368.7 L1642.2,368.2 L1642.8,368.1 L1643.4,367.8 L1644,368.4 L1644.6,367.9 L1645.2,367.6 L1645.8,367.9 L1646.4,368 L1647,368.2 L1647.6,368.2 L1648.2,367.7 L1648.8,367.6 L1649.4,367.7 L1650,367.4 L1650.6,367.7 L1651.2,367.9 L1651.8,367.7 L1652.4,367.2 L1653,367.3 L1653.6,368 L1654.2,367.4 L1654.8,367.8 L1655.4,367.8 L1656,367.5 L1656.6,367.3 L1657.2,367.6 L1657.8,367.3 L1658.4,367.5 L1659,367.6 L1659.6,367.4 L1660.2,367.5 L1660.8,367.5 L1661.4,367.2 L1662,367.5 L1662.6,367.4 L1663.2,367.1 L1663.8,367.5 L1664.4,367.5 L1665,367.4 L1665.6,367.1 L1666.2,367.9 L1666.8,367.9 L1667.4,367.9 L1668,367.8 L1668.6,367.4 L1669.2,367.8 L1669.8,367.5 L1670.4,368.5 L1671,367.7 L1671.6,368.1 L1672.2,367.5 L1672.8,367.6 L1673.4,367.9 L1674,368.3 L1674.6,368.3 L1675.2,368.2 L1675.8,367.7 L1676.4,368.5 L1677,368 L1677.6,368.8 L1678.2,368.9 L1678.8,368.7 L1679.4,368.7 L1680,368.2 L1680.6,369.3 L1681.2,368.7 L1681.8,369 L1682.4,368.5 L1683,368.8 L1683.6,368.5 L1684.2,368.8 L1684.8,369 L1685.4,369.1 L1686,369.5 L1686.6,369.3 L1687.2,369.3 L1687.8,369.3 L1688.4,369.9 L1689,369.2 L1689.6,369.8 L1690.2,368.9 L1690.8,369.3 L1691.4,369.7 L1692,369.6 L1692.6,370.6 L1693.2,370.5 L1693.8,369.4 L1694.4,369.6 L1695,369.9 L1695.6,370.5 L1696.2,370.4 L1696.8,370.3 L1697.4,369.8 L1698,370.1 L1698.6,369.6 L1699.2,370 L1699.8,370.6 L1700.4,370.8 L1701,370.3 L1701.6,370.7 L1702.2,371.2 L1702.8,370.9 L1703.4,370.8 L1704,371.1 L1704.6,371.2 L1705.2,371.1 L1705.8,371 L1706.4,371.1 L1707,371.3 L1707.6,371.2 L1708.2,371.8 L1708.8,371.8 L1709.4,371.9 L1710,372.2 L1710.6,372.2 L1711.2,372.2 L1711.8,372 L1712.4,371.9 L1713,372.7 L1713.6,371.9 L1714.2,372 L1714.8,372 L1715.4,372.4 L1716,372.5 L1716.6,372.7 L1717.2,372.5 L1717.8,372.1 L1718.4,372.8 L1719,373 L1719.6,372.8 L1720.2,372.9 L1720.8,373.1 L1721.4,373.4 L1722,373.1 L1722.6,372.8 L1723.2,373.1 L1723.8,373.3 L1724.4,372.9 L1725,373.7 L1725.6,373.3 L1726.2,373.7 L1726.8,373.7 L1727.4,373.6 L1728,374.2 L1728.6,373.7 L1729.2,373.7 L1729.8,374.1 L1730.4,374.3 L1731,374.1 L1731.6,373.9 L1732.2,374.4 L1732.8,374.5 L1733.4,374.9 L1734,374.3 L1734.6,374.5 L1735.2,374.4 L1735.8,374.2 L1736.4,374.7 L1737,374.9 L1737.6,374.5 L1738.2,374.6 L1738.8,374.5 L1739.4,375.3 L1740,374.8 L1740.6,375.2 L1741.2,374.8 L1741.8,375.1 L1742.4,375 L1743,374.5 L1743.6,375.2 L1744.2,375.4 L1744.8,374.7 L1745.4,375.3 L1746,375.2 L1746.6,375.1 L1747.2,375.3 L1747.8,374.9 L1748.4,375.5 L1749,375.8 L1749.6,375.1 L1750.2,375.4 L1750.8,375.8 L1751.4,375.4 L1752,375.2 L1752.6,375.1 L1753.2,375.4 L1753.8,375.2 L1754.4,375.4 L1755,374.7 L1755.6,375.4 L1756.2,374.9 L1756.8,375.2 L1757.4,374.7 L1758,374.5 L1758.6,374.6 L1759.2,374.4 L1759.8,374.5 L1760.4,374.7 L1761,374.8 L1761.6,374.4 L1762.2,374.2 L1762.8,374.1 L1763.4,374.4 L1764,374.5 L1764.6,374 L1765.2,374.1 L1765.8,373.9 L1766.4,374.2 L1767,374.4 L1767.6,373.4 L1768.2,374.3 L1768.8,374.2 L1769.4,373.8 L1770,374.6 L1770.6,374.6 L1771.2,374.9 L1771.8,374.6 L1772.4,375.7 L1773,375.3 L1773.6,375.4 L1774.2,376.1 L1774.8,376 L1775.4,376.3 L1776,376.6 L1776.6,375.9 L1777.2,377.2 L1777.8,376.8 L1778.4,377.2 L1779,377.6 L1779.6,377.3 L1780.2,377.8 L1780.8,378.1 L1781.4,378.1 L1782,378.4 L1782.6,378 L1783.2,378.3 L1783.8,378.4 L1784.4,379 L1785,380.1 L1785.6,379.3 L1786.2,379.3 L1786.8,379.5 L1787.4,379.9 L1788,380 L1788.6,379.6 L1789.2,380.3 L1789.8,380.2 L1790.4,380.5 L1791,379.9 L1791.6,380.1 L1792.2,380.8 L1792.8,380.3 L1793.4,381 L1794,381.1 L1794.6,381.2 L1795.2,381.4 L1795.8,381.5 L1796.4,381.6 L1797,381.5 L1797.6,381.8 L1798.2,382.7 L1798.8,382.3 L1799.4,382.3 L1800,382.4 L1800.6,382.2 L1801.2,382.6 L1801.8,382.6 L1802.4,383.1 L1803,382.7 L1803.6,382.4 L1804.2,383.1 L1804.8,383.6 L1805.4,384.2 L1806,384 L1806.6,383.5 L1807.2,383.9 L1807.8,383.8 L1808.4,384.2 L1809,384.2 L1809.6,384.1 L1810.2,384.8 L1810.8,384.9 L1811.4,385 L1812,385.3 L1812.6,385.9 L1813.2,385.5 L1813.8,385.6 L1814.4,386.1 L1815,385.5 L1815.6,386.4 L1816.2,386.1 L1816.8,386.2 L1817.4,386.7 L1818,387.3 L1818.6,386.8 L1819.2,387.4 L1819.8,387.4 L1820.4,387.1 L1821,387.9 L1821.6,387.6 L1822.2,387.5 L1822.8,387.9 L1823.4,388.1 L1824,388.6 L1824.6,388.4 L1825.2,389.2 L1825.8,389 L1826.4,388.9 L1827,389 L1827.6,389.5 L1828.2,389 L1828.8,389.1 L1829.4,389.7 L1830,390.2 L1830.6,390.3 L1831.2,390.4 L1831.8,390.5 L1832.4,390.1 L1833,390.8 L1833.6,390.5 L1834.2,391.4 L1834.8,391.3 L1835.4,391.4 L1836,391.7 L1836.6,391.9 L1837.2,392 L1837.8,392.2 L1838.4,392.1 L1839,392 L1839.6,392.6 L1840.2,393.1 L1840.8,393.1 L1841.4,392.9 L1842,393.3 L1842.6,393.2 L1843.2,393.5 L1843.8,393.4 L1844.4,393.8 L1845,394.4 L1845.6,394.2 L1846.2,394.6 L1846.8,394.1 L1847.4,394.2 L1848,394.6 L1848.6,394.9 L1849.2,394.8 L1849.8,395.3 L1850.4,395 L1851,395.7 L1851.6,395.7 L1852.2,395.3 L1852.8,395.9 L1853.4,395.8 L1854,396.3 L1854.6,396 L1855.2,396.4 L1855.8,396.6 L1856.4,395.8 L1857,396.2 L1857.6,396.9 L1858.2,397 L1858.8,397.4 L1859.4,397.4 L1860,397.1 L1860.6,397.7 L1861.2,397.5 L1861.8,397.8 L1862.4,397.9 L1863,398.2 L1863.6,397.9 L1864.2,398.1 L1864.8,398 L1865.4,399.3 L1866,398.6 L1866.6,398.8 L1867.2,398.8 L1867.8,399.1 L1868.4,399.3 L1869,399.7 L1869.6,399.8 L1870.2,400 L1870.8,399.8 L1871.4,400.1 L1872,400.6 L1872.6,400.4 L1873.2,400.7 L1873.8,400.2 L1874.4,401 L1875,401.1 L1875.6,401.5 L1876.2,400.5 L1876.8,401.4 L1877.4,401.5 L1878,401.7 L1878.6,401.7 L1879.2,402.1 L1879.8,402.4 L1880.4,402.3 L1881,402.4 L1881.6,402.5 L1882.2,402.6 L1882.8,402.9 L1883.4,402.8 L1884,402.6 L1884.6,403.7 L1885.2,403 L1885.8,403.6 L1886.4,403.4 L1887,403.8 L1887.6,403.8 L1888.2,404.2 L1888.8,404.1 L1889.4,404.1 L1890,404.7 L1890.6,405.1 L1891.2,405 L1891.8,405.1 L1892.4,404.9 L1893,405.3 L1893.6,405.6 L1894.2,405.5 L1894.8,406 L1895.4,405.9 L1896,406.2 L1896.6,406.1 L1897.2,406.2 L1897.8,406.6 L1898.4,406.8 L1899,406.9 L1899.6,406.6 L1900.2,406.9 L1900.8,407.2 L1901.4,406.8 L1902,407.8 L1902.6,407.7 L1903.2,407.8 L1903.8,407.7 L1904.4,408.3 L1905,408.1 L1905.6,408.8 L1906.2,408.6 L1906.8,408.2 L1907.4,408.9 L1908,408.7 L1908.6,408.8 L1909.2,409 L1909.8,409.2 L1910.4,409.4 L1911,409.7 L1911.6,409.7 L1912.2,409.5 L1912.8,409.5 L1913.4,409.8 L1914,410.2 L1914.6,410.5 L1915.2,410.8 L1915.8,410 L1916.4,410.5 L1917,410.6 L1917.6,410.6 L1918.2,410.8 L1918.8,410.8 L1919.4,410.9 L1920,410.8 L1920.6,411.2 L1921.2,411.4 L1921.8,411.7 L1922.4,411.1 L1923,411 L1923.6,411.2 L1924.2,411.1 L1924.8,411.6"/>
<path d="M1380,406.5 L1380.6,406.8 L1381.2,406.4 L1381.8,406.7 L1382.4,406.8 L1383,407.2 L1383.6,406.5 L1384.2,406.8 L1384.8,406.1 L1385.4,406.3 L1386,406.4 L1386.6,406.5 L1387.2,406.7 L1387.8,406.8 L1388.4,406.1 L1389,406.7 L1389.6,406.2 L1390.2,407 L1390.8,406.6 L1391.4,406.5 L1392,406.4 L1392.6,406.4 L1393.2,406.4 L1393.8,406.1 L1394.4,406.5 L1395,406.3 L1395.6,406.4 L1396.2,406.2 L1396.8,406.4 L1397.4,405.9 L1398,407.1 L1398.6,405.9 L1399.2,405.9 L1399.8,406.3 L1400.4,406.3 L1401,405.7 L1401.6,405.4 L1402.2,405.4 L1402.8,405.5 L1403.4,405.5 L1404,405.7 L1404.6,406 L1405.2,405.9 L1405.8,405.4 L1406.4,405.7 L1407,405.7 L1407.6,405.8 L1408.2,405.4 L1408.8,405.1 L1409.4,405.5 L1410,405.7 L1410.6,405.1 L1411.2,405.7 L1411.8,405.6 L1412.4,405 L1413,404.6 L1413.6,404.8 L1414.2,404.8 L1414.8,405 L1415.4,404.4 L1416,405.5 L1416.6,405.4 L1417.2,404.5 L1417.8,404.1 L1418.4,404.5 L1419,404.6 L1419.6,404.8 L1420.2,404.6 L1420.8,404.3 L1421.4,403.8 L1422,404.4 L1422.6,404.4 L1423.2,404.1 L1423.8,404.2 L1424.4,404.1 L1425,403.9 L1425.6,403.6 L1426.2,404 L1426.8,403.4 L1427.4,404.1 L1428,403.4 L1428.6,403.8 L1429.2,403.4 L1429.8,403.6 L1430.4,403.4 L1431,403.5 L1431.6,403.1 L1432.2,402.8 L1432.8,403.1 L1433.4,403 L1434,402.7 L1434.6,402.8 L1435.2,402.5 L1435.8,402.9 L1436.4,402.7 L1437,402.8 L1437.6,403.4 L1438.2,402.7 L1438.8,402.7 L1439.4,402.7 L1440,402.4 L1440.6,402.2 L1441.2,402.5 L1441.8,402.5 L1442.4,401.3 L1443,402 L1443.6,401.9 L1444.2,401.8 L1444.8,402.2 L1445.4,401.6 L1446,402 L1446.6,401.5 L1447.2,401.5 L1447.8,401.7 L1448.4,401.2 L1449,401.3 L1449.6,400.9 L1450.2,400.9 L1450.8,401.3 L1451.4,401.2 L1452,400.6 L1452.6,400.5 L1453.2,401.5 L1453.8,400.5 L1454.4,400.4 L1455,400.7 L1455.6,400.2 L1456.2,400.2 L1456.8,400.5 L1457.4,400.4 L1458,400 L1458.6,400.4 L1459.2,399.8 L1459.8,399.7 L1460.4,399.7 L1461,399.5 L1461.6,399.7 L1462.2,399.5 L1462.8,399.1 L1463.4,399.3 L1464,399 L1464.6,398.9 L1465.2,398.9 L1465.8,399.1 L1466.4,398.8 L1467,399 L1467.6,399 L1468.2,398.4 L1468.8,398.1 L1469.4,398 L1470,398.2 L1470.6,398.2 L1471.2,398.3 L1471.8,397.4 L1472.4,397.9 L1473,397.9 L1473.6,398.1 L1474.2,397.4 L1474.8,397.2 L1475.4,396.7 L1476,396.8 L1476.6,396.6 L1477.2,396.5 L1477.8,396.4 L1478.4,396.1 L1479,396.4 L1479.6,396.4 L1480.2,396.4 L1480.8,396.1 L1481.4,396.3 L1482,396.2 L1482.6,395.3 L1483.2,395.5 L1483.8,395.1 L1484.4,395.1 L1485,395.3 L1485.6,395.1 L1486.2,395.4 L1486.8,395.4 L1487.4,394.8 L1488,394.5 L1488.6,394.4 L1489.2,394.3 L1489.8,394.3 L1490.4,393.8 L1491,394.1 L1491.6,393.7 L1492.2,393.9 L1492.8,393.9 L1493.4,393.8 L1494,393.1 L1494.6,392.7 L1495.2,392.4 L1495.8,392.7 L1496.4,392.2 L1497,392 L1497.6,392.2 L1498.2,391.8 L1498.8,392.1 L1499.4,392.3 L1500,391.6 L1500.6,391.5 L1501.2,390.8 L1501.8,391.2 L1502.4,390.7 L1503,390.5 L1503.6,390.1 L1504.2,390.9 L1504.8,389.8 L1505.4,389.7 L1506,389.9 L1506.6,389.8 L1507.2,389.6 L1507.8,389.4 L1508.4,388.9 L1509,389.2 L1509.6,388.8 L1510.2,388.2 L1510.8,388.8 L1511.4,388.1 L1512,388.3 L1512.6,387.4 L1513.2,387.3 L1513.8,387.2 L1514.4,387 L1515,387.3 L1515.6,386.4 L1516.2,386.7 L1516.8,386.1 L1517.4,386.4 L1518,386.1 L1518.6,385.7 L1519.2,386.2 L1519.8,385.4 L1520.4,385.5 L1521,384.6 L1521.6,384.8 L1522.2,384.6 L1522.8,384.4 L1523.4,384.1 L1524,383.7 L1524.6,382.9 L1525.2,383.4 L1525.8,383.1 L1526.4,383.1 L1527,383.2 L1527.6,383.4 L1528.2,382.7 L1528.8,382.6 L1529.4,382.3 L1530,382.1 L1530.6,381.9 L1531.2,381.4 L1531.8,381.2 L1532.4,381.2 L1533,381.4 L1533.6,380.9 L1534.2,380.9 L1534.8,379.9 L1535.4,380.2 L1536,380 L1536.6,379.8 L1537.2,379.1 L1537.8,378.8 L1538.4,378.5 L1539,378.8 L1539.6,379.3 L1540.2,378.6 L1540.8,378 L1541.4,378.2 L1542,377.8 L1542.6,377.8 L1543.2,377.4 L1543.8,377 L1544.4,377 L1545,377.2 L1545.6,376.9 L1546.2,376.9 L1546.8,376.1 L1547.4,376.5 L1548,376 L1548.6,375.9 L1549.2,376 L1549.8,375.4 L1550.4,375.4 L1551,375.3 L1551.6,375.1 L1552.2,375 L1552.8,374.9 L1553.4,374.5 L1554,374.1 L1554.6,374.7 L1555.2,373.8 L1555.8,373.7 L1556.4,373.3 L1557,372.7 L1557.6,372.9 L1558.2,372.9 L1558.8,372.9 L1559.4,372.6 L1560,372.6 L1560.6,372.5 L1561.2,372.3 L1561.8,371.8 L1562.4,371.7 L1563,371.4 L1563.6,371 L1564.2,371.5 L1564.8,370.6 L1565.4,370.7 L1566,370.6 L1566.6,369.8 L1567.2,370.4 L1567.8,369.9 L1568.4,369.9 L1569,369.5 L1569.6,369 L1570.2,369.3 L1570.8,369.1 L1571.4,369.2 L1572,368.9 L1572.6,368.1 L1573.2,368.7 L1573.8,368.4 L1574.4,368.3 L1575,368 L1575.6,367.5 L1576.2,367.7 L1576.8,367.3 L1577.4,368 L1578,367 L1578.6,366.6 L1579.2,366.6 L1579.8,366.9 L1580.4,366.2 L1581,365.5 L1581.6,366.5 L1582.2,366 L1582.8,365.6 L1583.4,365.8 L1584,365.2 L1584.6,365 L1585.2,365.4 L1585.8,364.9 L1586.4,365 L1587,364.8 L1587.6,364.9 L1588.2,364.5 L1588.8,363.8 L1589.4,364.4 L1590,364 L1590.6,364.2 L1591.2,363.9 L1591.8,364.1 L1592.4,363.5 L1593,362.9 L1593.6,363.3 L1594.2,363.4 L1594.8,363.1 L1595.4,362.9 L1596,363.4 L1596.6,362.8 L1597.2,363 L1597.8,362.7 L1598.4,362.1 L1599,362.2 L1599.6,362.3 L1600.2,362.4 L1600.8,361.9 L1601.4,361.7 L1602,361.7 L1602.6,361.8 L1603.2,361.6 L1603.8,361.6 L1604.4,362.2 L1605,361.6 L1605.6,361.3 L1606.2,361.4 L1606.8,361.8 L1607.4,361.4 L1608,361.1 L1608.6,360.7 L1609.2,360.5 L1609.8,360.8 L1610.4,360.8 L1611,360.3 L1611.6,360.3 L1612.2,360.6 L1612.8,359.9 L1613.4,360 L1614,360.4 L1614.6,360.5 L1615.2,360.4 L1615.8,360.5 L1616.4,360.6 L1617,360.3 L1617.6,359.9 L1618.2,360.5 L1618.8,360.3 L1619.4,360.1 L1620,359.5 L1620.6,359.8 L1621.2,359 L1621.8,359.5 L1622.4,358.8 L1623,359.3 L1623.6,359.7 L1624.2,359.3 L1624.8,359.7 L1625.4,359.2 L1626,359.2 L1626.6,359 L1627.2,359.2 L1627.8,359 L1628.4,359.3 L1629,359.4 L1629.6,359 L1630.2,358.5 L1630.8,358.9 L1631.4,359.1 L1632,358.9 L1632.6,358.7 L1633.2,358.9 L1633.8,358.9 L1634.4,357.8 L1635,358.9 L1635.6,358.7 L1636.2,358.6 L1636.8,358.2 L1637.4,358.4 L1638,358.5 L1638.6,357.9 L1639.2,358.5 L1639.8,358.3 L1640.4,358.6 L1641,358.4 L1641.6,358.1 L1642.2,358.1 L1642.8,358.3 L1643.4,358.1 L1644,358.2 L1644.6,357.9 L1645.2,357.7 L1645.8,357.9 L1646.4,357.6 L1647,357.8 L1647.6,358.1 L1648.2,357.5 L1648.8,357.6 L1649.4,358.1 L1650,357.8 L1650.6,357.9 L1651.2,357.6 L1651.8,357.6 L1652.4,357.8 L1653,358.3 L1653.6,358 L1654.2,357.4 L1654.8,358 L1655.4,358.1 L1656,358.1 L1656.6,357.5 L1657.2,357.8 L1657.8,358.5 L1658.4,357.6 L1659,358 L1659.6,357.7 L1660.2,357.5 L1660.8,357.8 L1661.4,358.2 L1662,358.2 L1662.6,357.7 L1663.2,357.8 L1663.8,357.7 L1664.4,357.4 L1665,358.2 L1665.6,358.5 L1666.2,358.5 L1666.8,358 L1667.4,358.5 L1668,358.5 L1668.6,358.1 L1669.2,358.2 L1669.8,358.1 L1670.4,358.4 L1671,358.8 L1671.6,358.1 L1672.2,358.1 L1672.8,358.7 L1673.4,358.5 L1674,358 L1674.6,358.3 L1675.2,358.4 L1675.8,358.5 L1676.4,358.9 L1677,359.1 L1677.6,358.8 L1678.2,359 L1678.8,358.8 L1679.4,359.3 L1680,359.5 L1680.6,359.1 L1681.2,359 L1681.8,359.9 L1682.4,359.6 L1683,359.2 L1683.6,359 L1684.2,359.5 L1684.8,360 L1685.4,359.5 L1686,359.7 L1686.6,359.7 L1687.2,360.1 L1687.8,360.4 L1688.4,359.7 L1689,360 L1689.6,360.1 L1690.2,360.1 L1690.8,360 L1691.4,360.6 L1692,360.5 L1692.6,360.7 L1693.2,361 L1693.8,360.6 L1694.4,360.9 L1695,360.7 L1695.6,360.9 L1696.2,361 L1696.8,361 L1697.4,360.7 L1698,361.6 L1698.6,361.3 L1699.2,361 L1699.8,360.7 L1700.4,361.4 L1701,361.7 L1701.6,361.9 L1702.2,362 L1702.8,361.6 L1703.4,362 L1704,361.4 L1704.6,362 L1705.2,362.3 L1705.8,361.9 L1706.4,362.1 L1707,362.2 L1707.6,362.3 L1708.2,362.8 L1708.8,362.1 L1709.4,362.9 L1710,362.2 L1710.6,362.5 L1711.2,362.5 L1711.8,362.8 L1712.4,362.7 L1713,363.1 L1713.6,363 L1714.2,363.7 L1714.8,363.3 L1715.4,363.2 L1716,363.4 L1716.6,363.5 L1717.2,363.4 L1717.8,363.2 L1718.4,363.4 L1719,363.7 L1719.6,364 L1720.2,363.9 L1720.8,363.9 L1721.4,364.1 L1722,363.9 L1722.6,364.2 L1723.2,364.6 L1723.8,364.5 L1724.4,364.7 L1725,364.3 L1725.6,364.5 L1726.2,364.2 L1726.8,364.8 L1727.4,364.5 L1728,364.3 L1728.6,364.6 L1729.2,364.9 L1729.8,364.2 L1730.4,364.5 L1731,365.2 L1731.6,365.1 L1732.2,365.1 L1732.8,364.7 L1733.4,365.6 L1734,365.5 L1734.6,365.5 L1735.2,365 L1735.8,365.5 L1736.4,365.7 L1737,365.3 L1737.6,365.4 L1738.2,365.3 L1738.8,365.7 L1739.4,365.4 L1740,365.4 L1740.6,365.1 L1741.2,365.1 L1741.8,365.8 L1742.4,365.9 L1743,365.7 L1743.6,365.8 L1744.2,365.2 L1744.8,365.3 L1745.4,365.3 L1746,365.1 L1746.6,365.5 L1747.2,364.5 L1747.8,364.6 L1748.4,364.5 L1749,364.2 L1749.6,364.4 L1750.2,363.4 L1750.8,364 L1751.4,363.7 L1752,363.2 L1752.6,363.2 L1753.2,363.1 L1753.8,362.2 L1754.4,362 L1755,361.5 L1755.6,361.1 L1756.2,360.3 L1756.8,359.8 L1757.4,359.7 L1758,358.9 L1758.6,358.9 L1759.2,358.3 L1759.8,357.5 L1760.4,357.2 L1761,356.7 L1761.6,356.1 L1762.2,356 L1762.8,355.3 L1763.4,354.9 L1764,354 L1764.6,354.3 L1765.2,353.5 L1765.8,353.5 L1766.4,353.9 L1767,353.8 L1767.6,353.2 L1768.2,352.9 L1768.8,353.5 L1769.4,353.4 L1770,353.8 L1770.6,353.6 L1771.2,354.6 L1771.8,355.1 L1772.4,354.7 L1773,355.4 L1773.6,355.9 L1774.2,356.9 L1774.8,356.7 L1775.4,357.9 L1776,358.4 L1776.6,358.9 L1777.2,360 L1777.8,359.9 L1778.4,360.7 L1779,361.5 L1779.6,362.5 L1780.2,362.8 L1780.8,363.3 L1781.4,364.3 L1782,364.6 L1782.6,365.1 L1783.2,365.7 L1783.8,366.4 L1784.4,367.5 L1785,366.9 L1785.6,367.8 L1786.2,368.1 L1786.8,368.4 L1787.4,369.3 L1788,369.5 L1788.6,369.8 L1789.2,369.8 L1789.8,370 L1790.4,370.6 L1791,370.7 L1791.6,370.9 L1792.2,371.5 L1792.8,371.2 L1793.4,371.5 L1794,372.2 L1794.6,372.1 L1795.2,372.5 L1795.8,372.3 L1796.4,372.9 L1797,372.7 L1797.6,373.4 L1798.2,373.4 L1798.8,373.5 L1799.4,373.9 L1800,373.8 L1800.6,373.6 L1801.2,374.4 L1801.8,374.2 L1802.4,374.6 L1803,374.5 L1803.6,374.9 L1804.2,374.5 L1804.8,374.5 L1805.4,374.6 L1806,375.4 L1806.6,374.8 L1807.2,375 L1807.8,375.2 L1808.4,375.8 L1809,376 L1809.6,375.8 L1810.2,376.5 L1810.8,376.5 L1811.4,376.9 L1812,377 L1812.6,376.7 L1813.2,377.1 L1813.8,377.1 L1814.4,377.5 L1815,377.6 L1815.6,377.7 L1816.2,378 L1816.8,378 L1817.4,378.4 L1818,378.4 L1818.6,378.5 L1819.2,378.9 L1819.8,379.1 L1820.4,379.4 L1821,379.4 L1821.6,379.3 L1822.2,379.6 L1822.8,379.8 L1823.4,379.4 L1824,379.8 L1824.6,380.7 L1825.2,380.4 L1825.8,379.8 L1826.4,380.8 L1827,381 L1827.6,380.8 L1828.2,382 L1828.8,381.8 L1829.4,381.9 L1830,381.8 L1830.6,382.2 L1831.2,382.5 L1831.8,382.6 L1832.4,382.4 L1833,382.8 L1833.6,383 L1834.2,383.2 L1834.8,383 L1835.4,383.6 L1836,383.7 L1836.6,384 L1837.2,384.1 L1837.8,383.8 L1838.4,384.7 L1839,384.8 L1839.6,384.4 L1840.2,384.9 L1840.8,384.9 L1841.4,385.2 L1842,385.8 L1842.6,385.8 L1843.2,386.4 L1843.8,386.1 L1844.4,385.9 L1845,386.4 L1845.6,385.9 L1846.2,387.3 L1846.8,387 L1847.4,387.2 L1848,387.3 L1848.6,387.2 L1849.2,387.6 L1849.8,387.6 L1850.4,387.8 L1851,388.3 L1851.6,388 L1852.2,389 L1852.8,388.4 L1853.4,389.1 L1854,388.8 L1854.6,388.8 L1855.2,389.5 L1855.8,389.6 L1856.4,389.6 L1857,389.9 L1857.6,389.9 L1858.2,390.3 L1858.8,390.2 L1859.4,390.6 L1860,391 L1860.6,390.5 L1861.2,390.9 L1861.8,391 L1862.4,391.2 L1863,391.2 L1863.6,391.7 L1864.2,391.9 L1864.8,392 L1865.4,391.8 L1866,392.6 L1866.6,392.8 L1867.2,392.8 L1867.8,392.6 L1868.4,392.8 L1869,393.8 L1869.6,393.9 L1870.2,393.7 L1870.8,393.5 L1871.4,394.3 L1872,394.2 L1872.6,394.7 L1873.2,394.3 L1873.8,394.7 L1874.4,394.7 L1875,395.2 L1875.6,394.9 L1876.2,395.5 L1876.8,395.4 L1877.4,395.4 L1878,396 L1878.6,396 L1879.2,395.6 L1879.8,396.3 L1880.4,396.5 L1881,396.7 L1881.6,397.4 L1882.2,396.8 L1882.8,397.2 L1883.4,396.9 L1884,397.1 L1884.6,397.5 L1885.2,397.8 L1885.8,397.9 L1886.4,398.3 L1887,398.5 L1887.6,398.8 L1888.2,398.6 L1888.8,399 L1889.4,398.8 L1890,399.3 L1890.6,399.5 L1891.2,399.4 L1891.8,398.8 L1892.4,399.7 L1893,400.7 L1893.6,400.1 L1894.2,400.2 L1894.8,400.5 L1895.4,401 L1896,400.9 L1896.6,400.9 L1897.2,400.8 L1897.8,401.3 L1898.4,401.2 L1899,401.8 L1899.6,402.2 L1900.2,402.3 L1900.8,402 L1901.4,402 L1902,402.1 L1902.6,402.8 L1903.2,403 L1903.8,403.2 L1904.4,403.2 L1905,402.9 L1905.6,402.9 L1906.2,403.9 L1906.8,403.5 L1907.4,404.4 L1908,403.5 L1908.6,403.9 L1909.2,404.1 L1909.8,404.6 L1910.4,404.9 L1911,404.7 L1911.6,405.2 L1912.2,404.8 L1912.8,405.1 L1913.4,405.1 L1914,405.4 L1914.6,405.5 L1915.2,405.9 L1915.8,406.9 L1916.4,405.7 L1917,406.1 L1917.6,406.5 L1918.2,406.4 L1918.8,406.9 L1919.4,406.3 L1920,406.9 L1920.6,406.5 L1921.2,407.1 L1921.8,406.9 L1922.4,407 L1923,406.8 L1923.6,406.5 L1924.2,406.7 L1924.8,407.2"/>
<path d="M1380,405.7 L1380.6,406 L1381.2,405.4 L1381.8,405.9 L1382.4,406 L1383,405.1 L1383.6,405.8 L1384.2,406.2 L1384.8,405.5 L1385.4,406 L1386,405.7 L1386.6,405.9 L1387.2,405.5 L1387.8,405.4 L1388.4,405.4 L1389,405.4 L1389.6,405.3 L1390.2,405.2 L1390.8,405.8 L1391.4,405.3 L1392,405.1 L1392.6,405.1 L1393.2,405.5 L1393.8,404.7 L1394.4,405.4 L1395,405.4 L1395.6,405.5 L1396.2,405 L1396.8,404.9 L1397.4,405.1 L1398,405 L1398.6,405.3 L1399.2,404.9 L1399.8,404.8 L1400.4,404.5 L1401,404.7 L1401.6,404.8 L1402.2,405 L1402.8,404.7 L1403.4,405 L1404,404.9 L1404.6,404.3 L1405.2,404.1 L1405.8,404.2 L1406.4,404.3 L1407,404.1 L1407.6,404.4 L1408.2,404.4 L1408.8,404.4 L1409.4,404.1 L1410,403.9 L1410.6,404.1 L1411.2,403.6 L1411.8,403.9 L1412.4,403.5 L1413,404 L1413.6,402.9 L1414.2,403.8 L1414.8,403.8 L1415.4,403.4 L1416,403.5 L1416.6,403.4 L1417.2,403.6 L1417.8,403.7 L1418.4,403.1 L1419,403.5 L1419.6,402.8 L1420.2,403 L1420.8,403 L1421.4,402.4 L1422,402.8 L1422.6,402.5 L1423.2,402.8 L1423.8,402.3 L1424.4,401.9 L1425,402 L1425.6,402.3 L1426.2,402.3 L1426.8,402.2 L1427.4,401.9 L1428,402.2 L1428.6,401.8 L1429.2,401.8 L1429.8,402 L1430.4,401.7 L1431,401.1 L1431.6,401.7 L1432.2,401.5 L1432.8,401.3 L1433.4,401.7 L1434,401.1 L1434.6,401.3 L1435.2,401.1 L1435.8,401.7 L1436.4,400.4 L1437,400.9 L1437.6,400.9 L1438.2,401 L1438.8,400.5 L1439.4,400.3 L1440,400.8 L1440.6,400.2 L1441.2,400.3 L1441.8,400.2 L1442.4,400.2 L1443,399.6 L1443.6,399.8 L1444.2,399.8 L1444.8,399.8 L1445.4,399.9 L1446,399.7 L1446.6,399.6 L1447.2,399.3 L1447.8,399.6 L1448.4,399 L1449,399.1 L1449.6,398.6 L1450.2,398.6 L1450.8,399 L1451.4,398.7 L1452,398.1 L1452.6,398.5 L1453.2,398.3 L1453.8,398 L1454.4,398.3 L1455,398 L1455.6,398 L1456.2,398.1 L1456.8,397.6 L1457.4,398 L1458,397.5 L1458.6,397.4 L1459.2,397.7 L1459.8,397.3 L1460.4,397 L1461,397 L1461.6,396.9 L1462.2,396.4 L1462.8,396.8 L1463.4,396.5 L1464,396.1 L1464.6,396 L1465.2,396.4 L1465.8,395.7 L1466.4,396.5 L1467,395.5 L1467.6,395.8 L1468.2,394.9 L1468.8,395.4 L1469.4,395.2 L1470,395.3 L1470.6,395.1 L1471.2,394.9 L1471.8,395.4 L1472.4,394.9 L1473,394.4 L1473.6,394.5 L1474.2,393.5 L1474.8,394 L1475.4,394.4 L1476,393.8 L1476.6,393.8 L1477.2,393.3 L1477.8,393.7 L1478.4,393.4 L1479,393.2 L1479.6,393.4 L1480.2,393.4 L1480.8,393.1 L1481.4,392.2 L1482,392.7 L1482.6,392.5 L1483.2,391.9 L1483.8,391.7 L1484.4,391.9 L1485,391.8 L1485.6,391.7 L1486.2,391.3 L1486.8,391.4 L1487.4,391.3 L1488,391 L1488.6,391.1 L1489.2,390.6 L1489.8,390.2 L1490.4,390.5 L1491,390.6 L1491.6,390.9 L1492.2,389.4 L1492.8,389.7 L1493.4,389.5 L1494,389.6 L1494.6,389.1 L1495.2,389.2 L1495.8,389.3 L1496.4,388.7 L1497,388.7 L1497.6,389 L1498.2,388.6 L1498.8,387.7 L1499.4,388.6 L1500,387.6 L1500.6,387.7 L1501.2,387.3 L1501.8,387.2 L1502.4,386.9 L1503,387.1 L1503.6,386.5 L1504.2,386.2 L1504.8,386.2 L1505.4,386.2 L1506,385.4 L1506.6,386 L1507.2,385.4 L1507.8,385.6 L1508.4,385.6 L1509,385.1 L1509.6,384.9 L1510.2,384.5 L1510.8,384.2 L1511.4,383.7 L1512,383.9 L1512.6,383.6 L1513.2,382.9 L1513.8,383.5 L1514.4,383.6 L1515,383.1 L1515.6,383.1 L1516.2,382.5 L1516.8,382.1 L1517.4,382.2 L1518,381.8 L1518.6,381.4 L1519.2,381.8 L1519.8,381.3 L1520.4,380.9 L1521,380.9 L1521.6,380.6 L1522.2,380.6 L1522.8,380.7 L1523.4,379.8 L1524,379.5 L1524.6,380 L1525.2,380 L1525.8,379 L1526.4,378.7 L1527,378.4 L1527.6,378.5 L1528.2,378.3 L1528.8,378 L1529.4,378.1 L1530,377.4 L1530.6,377.3 L1531.2,376.9 L1531.8,377.4 L1532.4,377.1 L1533,377 L1533.6,376.2 L1534.2,376.6 L1534.8,376.1 L1535.4,376 L1536,375.7 L1536.6,375.3 L1537.2,375.1 L1537.8,374.5 L1538.4,374.6 L1539,374.5 L1539.6,374 L1540.2,374.1 L1540.8,374.3 L1541.4,373.6 L1542,373.2 L1542.6,373.1 L1543.2,373.2 L1543.8,373.4 L1544.4,372.7 L1545,372.5 L1545.6,372 L1546.2,372.2 L1546.8,372.1 L1547.4,371.6 L1548,371.5 L1548.6,371.1 L1549.2,371.3 L1549.8,371.3 L1550.4,370.8 L1551,370.7 L1551.6,370.3 L1552.2,369.9 L1552.8,369.7 L1553.4,369.6 L1554,369.6 L1554.6,369.3 L1555.2,369.4 L1555.8,369.1 L1556.4,369.2 L1557,368.8 L1557.6,368.3 L1558.2,368.2 L1558.8,367.5 L1559.4,368.2 L1560,367.4 L1560.6,367.2 L1561.2,367.7 L1561.8,366.6 L1562.4,366.6 L1563,366.5 L1563.6,366.2 L1564.2,366.2 L1564.8,366 L1565.4,365.9 L1566,365.5 L1566.6,365.5 L1567.2,365 L1567.8,365.1 L1568.4,365.1 L1569,364.1 L1569.6,364.3 L1570.2,364.2 L1570.8,363.4 L1571.4,362.9 L1572,363.6 L1572.6,363.2 L1573.2,363.4 L1573.8,363 L1574.4,362.8 L1575,362.5 L1575.6,362.4 L1576.2,362 L1576.8,361.9 L1577.4,362.1 L1578,361.6 L1578.6,361.6 L1579.2,361.3 L1579.8,361 L1580.4,360.7 L1581,361 L1581.6,360.4 L1582.2,360.6 L1582.8,359.9 L1583.4,360.2 L1584,360.1 L1584.6,359.6 L1585.2,359.2 L1585.8,359.5 L1586.4,359.4 L1587,359.1 L1587.6,358.9 L1588.2,359.2 L1588.8,358.8 L1589.4,358.5 L1590,358.8 L1590.6,358.4 L1591.2,358.1 L1591.8,358.4 L1592.4,357.9 L1593,358.2 L1593.6,357.6 L1594.2,357.8 L1594.8,357.9 L1595.4,357.6 L1596,357.5 L1596.6,357.4 L1597.2,357.4 L1597.8,357.1 L1598.4,357.1 L1599,356.8 L1599.6,357.4 L1600.2,356.5 L1600.8,356.9 L1601.4,356.3 L1602,356.6 L1602.6,356.8 L1603.2,356 L1603.8,356.7 L1604.4,355.9 L1605,355.9 L1605.6,356.1 L1606.2,355.7 L1606.8,356.2 L1607.4,355.9 L1608,355 L1608.6,355.3 L1609.2,355.4 L1609.8,355.7 L1610.4,355.2 L1611,355.2 L1611.6,355.5 L1612.2,355 L1612.8,355.3 L1613.4,354.8 L1614,355.4 L1614.6,355.4 L1615.2,354.7 L1615.8,354.3 L1616.4,354.4 L1617,355.1 L1617.6,354.6 L1618.2,355 L1618.8,354.3 L1619.4,354.3 L1620,354.5 L1620.6,354.8 L1621.2,354.4 L1621.8,354.1 L1622.4,354.4 L1623,354.3 L1623.6,354.4 L1624.2,354.1 L1624.8,354 L1625.4,354.1 L1626,353.4 L1626.6,354.1 L1627.2,354.3 L1627.8,354.1 L1628.4,353.6 L1629,353.4 L1629.6,354.2 L1630.2,353.6 L1630.8,353.7 L1631.4,353.7 L1632,353.5 L1632.6,353.6 L1633.2,354 L1633.8,353.4 L1634.4,354 L1635,353.6 L1635.6,353.5 L1636.2,353.7 L1636.8,353.7 L1637.4,353.7 L1638,353.5 L1638.6,353.2 L1639.2,353.8 L1639.8,353.3 L1640.4,353 L1641,353.5 L1641.6,353.4 L1642.2,353.2 L1642.8,353.2 L1643.4,353.3 L1644,353.7 L1644.6,353.1 L1645.2,352.8 L1645.8,353 L1646.4,353.3 L1647,353 L1647.6,352.9 L1648.2,353.3 L1648.8,353.3 L1649.4,353 L1650,353.1 L1650.6,352.9 L1651.2,352.9 L1651.8,352.9 L1652.4,352.7 L1653,353.1 L1653.6,353 L1654.2,352.9 L1654.8,353 L1655.4,353 L1656,352.8 L1656.6,352.8 L1657.2,352.8 L1657.8,353.4 L1658.4,352.5 L1659,353 L1659.6,353.2 L1660.2,352.7 L1660.8,352.7 L1661.4,352.7 L1662,352.5 L1662.6,353.3 L1663.2,353 L1663.8,352.7 L1664.4,352.9 L1665,353.1 L1665.6,353 L1666.2,352.8 L1666.8,353.2 L1667.4,352.9 L1668,353 L1668.6,353.2 L1669.2,353 L1669.8,353.2 L1670.4,353 L1671,354 L1671.6,353.1 L1672.2,353.5 L1672.8,353.1 L1673.4,353 L1674,353.3 L1674.6,353.3 L1675.2,353.3 L1675.8,353.4 L1676.4,353.7 L1677,354.1 L1677.6,354.1 L1678.2,353.6 L1678.8,354.1 L1679.4,354.1 L1680,353.5 L1680.6,353.6 L1681.2,353.8 L1681.8,354.4 L1682.4,353.8 L1683,353.8 L1683.6,354.3 L1684.2,353.9 L1684.8,354 L1685.4,354.2 L1686,354.2 L1686.6,353.5 L1687.2,353.8 L1687.8,354.4 L1688.4,353.9 L1689,354.7 L1689.6,354.3 L1690.2,354.5 L1690.8,354.5 L1691.4,354 L1692,354.3 L1692.6,354.3 L1693.2,354.7 L1693.8,355.1 L1694.4,354.7 L1695,354.8 L1695.6,354.3 L1696.2,354.7 L1696.8,354.8 L1697.4,354.9 L1698,355.2 L1698.6,355.4 L1699.2,355.1 L1699.8,355.2 L1700.4,354.7 L1701,355.4 L1701.6,355.3 L1702.2,354.8 L1702.8,355.4 L1703.4,355.2 L1704,355.7 L1704.6,355.6 L1705.2,355.5 L1705.8,356 L1706.4,355.6 L1707,355.6 L1707.6,355.7 L1708.2,355.8 L1708.8,355.6 L1709.4,356 L1710,356 L1710.6,355.8 L1711.2,355.6 L1711.8,356.4 L1712.4,356.4 L1713,356.4 L1713.6,356.5 L1714.2,356.7 L1714.8,356.4 L1715.4,356.8 L1716,356.3 L1716.6,356.2 L1717.2,356.5 L1717.8,356.4 L1718.4,356.7 L1719,357.1 L1719.6,356.8 L1720.2,357 L1720.8,357.4 L1721.4,357.3 L1722,356.9 L1722.6,356.7 L1723.2,357.5 L1723.8,356.7 L1724.4,356.5 L1725,356.5 L1725.6,357.4 L1726.2,356.7 L1726.8,357.1 L1727.4,357.2 L1728,357.6 L1728.6,356.9 L1729.2,357.3 L1729.8,357.4 L1730.4,357.7 L1731,357.3 L1731.6,357.4 L1732.2,357.3 L1732.8,357.7 L1733.4,357.6 L1734,357.2 L1734.6,357.5 L1735.2,356.9 L1735.8,357.2 L1736.4,356.9 L1737,357 L1737.6,357.3 L1738.2,357.5 L1738.8,356.8 L1739.4,356.5 L1740,356.3 L1740.6,356.4 L1741.2,355.9 L1741.8,356 L1742.4,355.8 L1743,355.2 L1743.6,354.5 L1744.2,354.4 L1744.8,353.5 L1745.4,352.7 L1746,352.9 L1746.6,352.5 L1747.2,351.6 L1747.8,350.4 L1748.4,348.7 L1749,348.5 L1749.6,347.9 L1750.2,346.6 L1750.8,346 L1751.4,344.2 L1752,343.2 L1752.6,341.8 L1753.2,340.4 L1753.8,338.4 L1754.4,337.2 L1755,335.7 L1755.6,333.7 L1756.2,331.7 L1756.8,330.1 L1757.4,328.1 L1758,326.5 L1758.6,324.7 L1759.2,322.5 L1759.8,320.5 L1760.4,318.3 L1761,316.4 L1761.6,313.8 L1762.2,312.3 L1762.8,310.6 L1763.4,308.3 L1764,306.8 L1764.6,304.4 L1765.2,303.2 L1765.8,301.6 L1766.4,300.4 L1767,299 L1767.6,298.5 L1768.2,296 L1768.8,295.8 L1769.4,295.5 L1770,295.3 L1770.6,295 L1771.2,295.1 L1771.8,295.1 L1772.4,295.7 L1773,296.6 L1773.6,298.2 L1774.2,298.8 L1774.8,301.1 L1775.4,302.2 L1776,303.5 L1776.6,305.6 L1777.2,307.6 L1777.8,309.1 L1778.4,311.1 L1779,314.2 L1779.6,315.8 L1780.2,318.6 L1780.8,320.9 L1781.4,322.6 L1782,325.6 L1782.6,327.9 L1783.2,330.4 L1783.8,332.3 L1784.4,334.7 L1785,336.8 L1785.6,338.7 L1786.2,341.3 L1786.8,343.1 L1787.4,345.2 L1788,346.7 L1788.6,348.6 L1789.2,349.7 L1789.8,351.4 L1790.4,353.3 L1791,354.4 L1791.6,355.7 L1792.2,357.1 L1792.8,357.8 L1793.4,359.4 L1794,360.5 L1794.6,361.2 L1795.2,361.9 L1795.8,363.5 L1796.4,363.9 L1797,364.3 L1797.6,365.1 L1798.2,365.4 L1798.8,365.9 L1799.4,366.4 L1800,367.2 L1800.6,368.1 L1801.2,368.6 L1801.8,368.7 L1802.4,369.4 L1803,369.7 L1803.6,369.5 L1804.2,369.9 L1804.8,370.5 L1805.4,370.9 L1806,371.3 L1806.6,370.9 L1807.2,371 L1807.8,372.3 L1808.4,371.9 L1809,372.5 L1809.6,372.4 L1810.2,372.3 L1810.8,373.2 L1811.4,373.2 L1812,373.7 L1812.6,373.6 L1813.2,373.4 L1813.8,373.8 L1814.4,374.3 L1815,374 L1815.6,374.5 L1816.2,374.9 L1816.8,374.4 L1817.4,374.9 L1818,375.2 L1818.6,375.6 L1819.2,375.5 L1819.8,375.5 L1820.4,376 L1821,375.9 L1821.6,376.4 L1822.2,376.5 L1822.8,376.6 L1823.4,377 L1824,377.3 L1824.6,376.8 L1825.2,377.5 L1825.8,377.5 L1826.4,377.6 L1827,377.9 L1827.6,378.4 L1828.2,378.3 L1828.8,378.4 L1829.4,378.3 L1830,378.8 L1830.6,379.1 L1831.2,379 L1831.8,379.4 L1832.4,379.8 L1833,380.2 L1833.6,380 L1834.2,380.8 L1834.8,380.7 L1835.4,380.9 L1836,381 L1836.6,381.1 L1837.2,381 L1837.8,381.4 L1838.4,381.6 L1839,381.9 L1839.6,382.4 L1840.2,382.8 L1840.8,382.6 L1841.4,382.9 L1842,382.6 L1842.6,382.4 L1843.2,383.2 L1843.8,383.5 L1844.4,384 L1845,384.5 L1845.6,384.1 L1846.2,384.5 L1846.8,384.7 L1847.4,384.6 L1848,385 L1848.6,385.1 L1849.2,385.6 L1849.8,385 L1850.4,384.9 L1851,385.8 L1851.6,386.2 L1852.2,386.4 L1852.8,386.1 L1853.4,386.6 L1854,386.5 L1854.6,387 L1855.2,386.8 L1855.8,386.9 L1856.4,387.7 L1857,387.2 L1857.6,387.4 L1858.2,388.2 L1858.8,388.2 L1859.4,387.7 L1860,388.8 L1860.6,388.4 L1861.2,388.8 L1861.8,389 L1862.4,389.8 L1863,389.4 L1863.6,389.9 L1864.2,389.7 L1864.8,390.1 L1865.4,389.8 L1866,390.3 L1866.6,390.3 L1867.2,390.4 L1867.8,390.9 L1868.4,391.3 L1869,391.4 L1869.6,391.3 L1870.2,391.8 L1870.8,391.4 L1871.4,392 L1872,392.3 L1872.6,392.3 L1873.2,392.4 L1873.8,392.7 L1874.4,392.7 L1875,392.9 L1875.6,393.4 L1876.2,392.8 L1876.8,393.9 L1877.4,393.8 L1878,393.9 L1878.6,393.8 L1879.2,394.1 L1879.8,394.2 L1880.4,394.8 L1881,394.9 L1881.6,395.2 L1882.2,395.1 L1882.8,394.7 L1883.4,395.2 L1884,395.5 L1884.6,395.9 L1885.2,395.5 L1885.8,396.1 L1886.4,396.3 L1887,396.3 L1887.6,396.6 L1888.2,397.5 L1888.8,397 L1889.4,397.7 L1890,397.4 L1890.6,397.3 L1891.2,397.8 L1891.8,397.7 L1892.4,398 L1893,397.6 L1893.6,398.5 L1894.2,398.4 L1894.8,399 L1895.4,398.9 L1896,398.9 L1896.6,398.9 L1897.2,399.4 L1897.8,399.4 L1898.4,399.5 L1899,400.4 L1899.6,400 L1900.2,400.5 L1900.8,400.8 L1901.4,400.7 L1902,400.9 L1902.6,401 L1903.2,401.3 L1903.8,401.4 L1904.4,401.5 L1905,401.6 L1905.6,401.6 L1906.2,401.7 L1906.8,401.8 L1907.4,402.2 L1908,402.7 L1908.6,402.2 L1909.2,402.5 L1909.8,402.6 L1910.4,403 L1911,403.4 L1911.6,403.2 L1912.2,403.5 L1912.8,402.9 L1913.4,403.7 L1914,404 L1914.6,403.8 L1915.2,403.7 L1915.8,404.4 L1916.4,404.4 L1917,405 L1917.6,404.5 L1918.2,404.7 L1918.8,404.8 L1919.4,405 L1920,404.5 L1920.6,405.5 L1921.2,405.4 L1921.8,405.2 L1922.4,405.2 L1923,405.5 L1923.6,405.5 L1924.2,405.3 L1924.8,405.4"/>
<path d="M1380,404.9 L1380.6,404.7 L1381.2,404.7 L1381.8,404.7 L1382.4,404.7 L1383,404.4 L1383.6,404.5 L1384.2,404.9 L1384.8,405 L1385.4,404.7 L1386,403.7 L1386.6,404.3 L1387.2,404.8 L1387.8,405.1 L1388.4,404.9 L1389,404.5 L1389.6,404.5 L1390.2,404.4 L1390.8,405 L1391.4,404.5 L1392,404.2 L1392.6,404.6 L1393.2,404.6 L1393.8,403.7 L1394.4,404.1 L1395,404.5 L1395.6,404.4 L1396.2,403.8 L1396.8,404.1 L1397.4,404.3 L1398,404.1 L1398.6,403.7 L1399.2,403.8 L1399.8,404 L1400.4,403.9 L1401,403.5 L1401.6,404.3 L1402.2,403.7 L1402.8,403.2 L1403.4,403.4 L1404,402.7 L1404.6,403.2 L1405.2,403.3 L1405.8,403.9 L1406.4,403.3 L1407,403.3 L1407.6,403.3 L1408.2,403.1 L1408.8,402.8 L1409.4,403.3 L1410,403 L1410.6,403.2 L1411.2,403 L1411.8,402.4 L1412.4,402.4 L1413,402.4 L1413.6,402.3 L1414.2,402.5 L1414.8,402.2 L1415.4,402 L1416,402.5 L1416.6,402.4 L1417.2,402 L1417.8,401.6 L1418.4,401.7 L1419,401.5 L1419.6,401.4 L1420.2,401.3 L1420.8,401.6 L1421.4,401.5 L1422,401.5 L1422.6,401 L1423.2,401.3 L1423.8,401.6 L1424.4,401.1 L1425,400.8 L1425.6,401.6 L1426.2,400.9 L1426.8,400.5 L1427.4,400.8 L1428,400.3 L1428.6,400.3 L1429.2,400.6 L1429.8,400.1 L1430.4,399.8 L1431,400.3 L1431.6,400.2 L1432.2,399.5 L1432.8,399.7 L1433.4,400 L1434,399.7 L1434.6,399.8 L1435.2,399.4 L1435.8,399.2 L1436.4,399.1 L1437,399.1 L1437.6,399.2 L1438.2,398.3 L1438.8,398.4 L1439.4,398.8 L1440,398.9 L1440.6,398.5 L1441.2,398.6 L1441.8,398.2 L1442.4,398 L1443,398.3 L1443.6,398.2 L1444.2,397.9 L1444.8,397.6 L1445.4,397.9 L1446,397.8 L1446.6,397.6 L1447.2,397.5 L1447.8,397.4 L1448.4,397.5 L1449,397.4 L1449.6,397.7 L1450.2,397.4 L1450.8,396.9 L1451.4,396.5 L1452,396.9 L1452.6,396.5 L1453.2,396.9 L1453.8,396 L1454.4,396.2 L1455,396.6 L1455.6,396.1 L1456.2,396.2 L1456.8,396 L1457.4,395.6 L1458,395.8 L1458.6,395.3 L1459.2,395.3 L1459.8,395.8 L1460.4,395.1 L1461,395.1 L1461.6,394.6 L1462.2,395.2 L1462.8,394.4 L1463.4,394.3 L1464,394.3 L1464.6,394 L1465.2,393.8 L1465.8,394 L1466.4,393.8 L1467,393.8 L1467.6,393.4 L1468.2,393.3 L1468.8,393.3 L1469.4,393.3 L1470,392.9 L1470.6,393 L1471.2,392.8 L1471.8,393 L1472.4,392.8 L1473,392.6 L1473.6,392.6 L1474.2,392 L1474.8,392.4 L1475.4,392 L1476,391.7 L1476.6,391.8 L1477.2,391.2 L1477.8,391.9 L1478.4,391.3 L1479,390.7 L1479.6,390.6 L1480.2,390.7 L1480.8,390.5 L1481.4,390.6 L1482,390.6 L1482.6,390.5 L1483.2,390.2 L1483.8,389.7 L1484.4,390.1 L1485,390 L1485.6,388.9 L1486.2,389.2 L1486.8,389.1 L1487.4,388.8 L1488,389.1 L1488.6,388.8 L1489.2,388.5 L1489.8,388 L1490.4,387.7 L1491,387.8 L1491.6,387.7 L1492.2,387.5 L1492.8,387 L1493.4,387 L1494,387.1 L1494.6,387.1 L1495.2,386.7 L1495.8,386.6 L1496.4,386.5 L1497,386.3 L1497.6,386.5 L1498.2,385.8 L1498.8,385.8 L1499.4,385.2 L1500,385.7 L1500.6,385.4 L1501.2,385.3 L1501.8,384.9 L1502.4,384.6 L1503,384.1 L1503.6,384.4 L1504.2,384.5 L1504.8,383.1 L1505.4,384.2 L1506,383.3 L1506.6,383.4 L1507.2,382.9 L1507.8,382.8 L1508.4,382.9 L1509,382.4 L1509.6,382.8 L1510.2,382.1 L1510.8,382 L1511.4,381.5 L1512,381.3 L1512.6,381.1 L1513.2,381.2 L1513.8,381.3 L1514.4,380.6 L1515,380 L1515.6,380 L1516.2,379.6 L1516.8,379.9 L1517.4,379.5 L1518,379 L1518.6,379 L1519.2,379.1 L1519.8,378.8 L1520.4,378.3 L1521,378.4 L1521.6,378.1 L1522.2,377.6 L1522.8,377.6 L1523.4,377.8 L1524,376.8 L1524.6,377.2 L1525.2,376.6 L1525.8,376.6 L1526.4,376.3 L1527,376.1 L1527.6,375.8 L1528.2,375.6 L1528.8,375.5 L1529.4,375.3 L1530,374.5 L1530.6,374.8 L1531.2,374.8 L1531.8,374.5 L1532.4,374.1 L1533,373.3 L1533.6,373.8 L1534.2,373.6 L1534.8,373.6 L1535.4,372.7 L1536,372.7 L1536.6,372.4 L1537.2,372.2 L1537.8,371.6 L1538.4,371.8 L1539,371.6 L1539.6,371.4 L1540.2,371.7 L1540.8,370.9 L1541.4,370.7 L1542,370.9 L1542.6,370.3 L1543.2,370.5 L1543.8,370.1 L1544.4,369.6 L1545,369.4 L1545.6,369.4 L1546.2,369.1 L1546.8,369 L1547.4,368.6 L1548,368.7 L1548.6,368.2 L1549.2,368.1 L1549.8,367.9 L1550.4,367.4 L1551,367.5 L1551.6,367.3 L1552.2,366.8 L1552.8,366.5 L1553.4,367.1 L1554,366.5 L1554.6,366.3 L1555.2,366 L1555.8,366.4 L1556.4,365.7 L1557,365.1 L1557.6,365.5 L1558.2,364.9 L1558.8,365.1 L1559.4,364.7 L1560,364.9 L1560.6,364.5 L1561.2,364.1 L1561.8,364.4 L1562.4,364.5 L1563,363.4 L1563.6,363.7 L1564.2,363.3 L1564.8,363.1 L1565.4,362.4 L1566,362.3 L1566.6,362.8 L1567.2,362.2 L1567.8,361.8 L1568.4,362.3 L1569,361.9 L1569.6,361.6 L1570.2,360.9 L1570.8,361 L1571.4,361.2 L1572,360.1 L1572.6,360 L1573.2,360 L1573.8,360.3 L1574.4,359.9 L1575,359.8 L1575.6,359.5 L1576.2,359.3 L1576.8,359.4 L1577.4,359.9 L1578,358.9 L1578.6,358.9 L1579.2,358.2 L1579.8,358.6 L1580.4,358 L1581,357.9 L1581.6,357.5 L1582.2,357.3 L1582.8,357.2 L1583.4,356.9 L1584,356.6 L1584.6,357.3 L1585.2,356.8 L1585.8,356.8 L1586.4,356.5 L1587,355.8 L1587.6,356.1 L1588.2,355.7 L1588.8,355.5 L1589.4,355.6 L1590,355.5 L1590.6,355.4 L1591.2,355.2 L1591.8,355 L1592.4,354.9 L1593,355.1 L1593.6,355.3 L1594.2,354.8 L1594.8,354.4 L1595.4,354.4 L1596,354.4 L1596.6,354.3 L1597.2,354.3 L1597.8,354.2 L1598.4,353.8 L1599,353.5 L1599.6,353.1 L1600.2,353.7 L1600.8,353.4 L1601.4,352.9 L1602,353.1 L1602.6,352.8 L1603.2,352.7 L1603.8,353.2 L1604.4,352.6 L1605,353.2 L1605.6,352.4 L1606.2,352.2 L1606.8,352.3 L1607.4,352.8 L1608,352 L1608.6,352.1 L1609.2,351.2 L1609.8,352 L1610.4,351.3 L1611,351.6 L1611.6,351.9 L1612.2,351.3 L1612.8,351.5 L1613.4,351.2 L1614,351.1 L1614.6,351.1 L1615.2,351.3 L1615.8,350.9 L1616.4,350.8 L1617,350.4 L1617.6,350.2 L1618.2,350.6 L1618.8,350.4 L1619.4,350.5 L1620,350.6 L1620.6,350.5 L1621.2,349.9 L1621.8,350.1 L1622.4,350.1 L1623,349.8 L1623.6,349.2 L1624.2,349.5 L1624.8,349.7 L1625.4,349.8 L1626,349.5 L1626.6,349.1 L1627.2,349.8 L1627.8,349.3 L1628.4,349.2 L1629,349.4 L1629.6,349.4 L1630.2,349.1 L1630.8,348.9 L1631.4,348.8 L1632,349.2 L1632.6,348.8 L1633.2,349 L1633.8,348.3 L1634.4,348.6 L1635,348.6 L1635.6,348.5 L1636.2,348.1 L1636.8,348.4 L1637.4,349 L1638,348.6 L1638.6,348.3 L1639.2,348.2 L1639.8,348 L1640.4,348.4 L1641,348.1 L1641.6,348.2 L1642.2,348.5 L1642.8,348.5 L1643.4,348.4 L1644,347.7 L1644.6,348 L1645.2,348.5 L1645.8,347.8 L1646.4,348.4 L1647,348.1 L1647.6,348.3 L1648.2,347.9 L1648.8,347.7 L1649.4,347.7 L1650,348.4 L1650.6,347.9 L1651.2,347.6 L1651.8,348.2 L1652.4,347.5 L1653,347.9 L1653.6,348.1 L1654.2,348 L1654.8,348.1 L1655.4,347.9 L1656,347.2 L1656.6,348 L1657.2,347.9 L1657.8,347.9 L1658.4,348.1 L1659,348.1 L1659.6,348 L1660.2,348.3 L1660.8,348.5 L1661.4,348 L1662,347.8 L1662.6,347.6 L1663.2,348.1 L1663.8,347.4 L1664.4,348.4 L1665,348.2 L1665.6,347.8 L1666.2,348.1 L1666.8,347.7 L1667.4,347.6 L1668,348.2 L1668.6,347.7 L1669.2,348 L1669.8,347.9 L1670.4,348.4 L1671,348 L1671.6,348.4 L1672.2,348.2 L1672.8,347.7 L1673.4,347.6 L1674,347.4 L1674.6,348 L1675.2,347.2 L1675.8,347.7 L1676.4,347.3 L1677,347.8 L1677.6,348.2 L1678.2,347.7 L1678.8,347.8 L1679.4,347.9 L1680,348.1 L1680.6,347.6 L1681.2,348 L1681.8,348 L1682.4,347.7 L1683,347.7 L1683.6,348.4 L1684.2,348.2 L1684.8,348.1 L1685.4,347.8 L1686,347.9 L1686.6,347.7 L1687.2,347.6 L1687.8,347.9 L1688.4,347.9 L1689,347.7 L1689.6,347.7 L1690.2,348.2 L1690.8,348 L1691.4,347.7 L1692,348.7 L1692.6,347.6 L1693.2,348.2 L1693.8,347.9 L1694.4,348.3 L1695,348.2 L1695.6,348.5 L1696.2,348.2 L1696.8,348 L1697.4,348.6 L1698,348.2 L1698.6,348.2 L1699.2,348.2 L1699.8,348 L1700.4,348.3 L1701,348.7 L1701.6,348.7 L1702.2,348.3 L1702.8,348.4 L1703.4,348.4 L1704,348.1 L1704.6,348.6 L1705.2,348.3 L1705.8,347.7 L1706.4,348.4 L1707,347.9 L1707.6,348.3 L1708.2,348.4 L1708.8,348.1 L1709.4,348.2 L1710,348.5 L1710.6,347.7 L1711.2,347.5 L1711.8,348 L1712.4,347.9 L1713,348.6 L1713.6,348.2 L1714.2,348 L1714.8,347.8 L1715.4,347.3 L1716,347.4 L1716.6,347.6 L1717.2,347.7 L1717.8,347.4 L1718.4,347.5 L1719,347.6 L1719.6,347.1 L1720.2,347.1 L1720.8,346.9 L1721.4,347.4 L1722,346.3 L1722.6,346.9 L1723.2,346.8 L1723.8,345.9 L1724.4,346.2 L1725,346.4 L1725.6,345.7 L1726.2,345.5 L1726.8,345.5 L1727.4,345.6 L1728,345.1 L1728.6,344.4 L1729.2,343.9 L1729.8,343.5 L1730.4,343.6 L1731,342.5 L1731.6,342.4 L1732.2,342.2 L1732.8,341.1 L1733.4,340.8 L1734,340.1 L1734.6,339.6 L1735.2,338.2 L1735.8,337.7 L1736.4,336.7 L1737,335.7 L1737.6,334.1 L1738.2,333.4 L1738.8,331.7 L1739.4,330.4 L1740,328.6 L1740.6,327.7 L1741.2,325.3 L1741.8,323.9 L1742.4,321 L1743,318.8 L1743.6,316.8 L1744.2,313.6 L1744.8,311 L1745.4,308.2 L1746,304.6 L1746.6,301.1 L1747.2,297.7 L1747.8,294.2 L1748.4,290 L1749,286 L1749.6,281.1 L1750.2,276.4 L1750.8,271.3 L1751.4,266.3 L1752,260.9 L1752.6,255.4 L1753.2,249.4 L1753.8,243.5 L1754.4,237.3 L1755,231.3 L1755.6,224.3 L1756.2,217.5 L1756.8,211 L1757.4,204 L1758,196.3 L1758.6,189 L1759.2,181.1 L1759.8,173.7 L1760.4,166.6 L1761,159.4 L1761.6,152 L1762.2,144.3 L1762.8,136.5 L1763.4,129.5 L1764,121.8 L1764.6,115.2 L1765.2,108.2 L1765.8,102 L1766.4,96.3 L1767,90.7 L1767.6,84.7 L1768.2,79.8 L1768.8,74.8 L1769.4,71.1 L1770,68.3 L1770.6,65.4 L1771.2,63.1 L1771.8,61.4 L1772.4,60.9 L1773,60.1 L1773.6,60.7 L1774.2,63 L1774.8,64.5 L1775.4,68.2 L1776,72.1 L1776.6,77.6 L1777.2,82.8 L1777.8,89.1 L1778.4,96.1 L1779,103.9 L1779.6,111.3 L1780.2,119.4 L1780.8,128.4 L1781.4,137.2 L1782,146.5 L1782.6,155.4 L1783.2,164.5 L1783.8,173.9 L1784.4,183.1 L1785,192.4 L1785.6,201.1 L1786.2,209.4 L1786.8,218.5 L1787.4,226.9 L1788,235 L1788.6,243.1 L1789.2,250.5 L1789.8,258.2 L1790.4,264.8 L1791,272 L1791.6,277.7 L1792.2,283.4 L1792.8,289.5 L1793.4,296 L1794,300.3 L1794.6,305.1 L1795.2,309.8 L1795.8,313.8 L1796.4,318 L1797,321.6 L1797.6,325.6 L1798.2,328.5 L1798.8,331.2 L1799.4,334 L1800,336.5 L1800.6,338.4 L1801.2,341.1 L1801.8,342.6 L1802.4,344.8 L1803,346.3 L1803.6,348.1 L1804.2,349.7 L1804.8,350.7 L1805.4,351.7 L1806,352.8 L1806.6,354.1 L1807.2,354.8 L1807.8,355.7 L1808.4,356.6 L1809,357.3 L1809.6,358.3 L1810.2,358.7 L1810.8,359.4 L1811.4,359.8 L1812,360.1 L1812.6,361.4 L1813.2,361.9 L1813.8,362 L1814.4,362.9 L1815,363.2 L1815.6,363.2 L1816.2,364.3 L1816.8,363.8 L1817.4,364.8 L1818,365.4 L1818.6,365.3 L1819.2,366.4 L1819.8,366.2 L1820.4,367.1 L1821,367 L1821.6,367.7 L1822.2,367.8 L1822.8,368.8 L1823.4,368.6 L1824,369.2 L1824.6,369.4 L1825.2,369.6 L1825.8,369.8 L1826.4,370.4 L1827,370.9 L1827.6,371.2 L1828.2,371.4 L1828.8,371.5 L1829.4,372.1 L1830,371.9 L1830.6,372.5 L1831.2,372.3 L1831.8,373 L1832.4,373.5 L1833,373.4 L1833.6,373.8 L1834.2,374.7 L1834.8,374.9 L1835.4,375.4 L1836,375.7 L1836.6,375.8 L1837.2,376.2 L1837.8,376.3 L1838.4,376.9 L1839,376.4 L1839.6,377.1 L1840.2,377.7 L1840.8,378 L1841.4,378 L1842,378.2 L1842.6,378.8 L1843.2,378.9 L1843.8,378.9 L1844.4,379.8 L1845,379.7 L1845.6,380.1 L1846.2,379.9 L1846.8,379.9 L1847.4,381 L1848,381.6 L1848.6,380.8 L1849.2,381.6 L1849.8,382.2 L1850.4,382.3 L1851,382.6 L1851.6,382.8 L1852.2,382.8 L1852.8,383.7 L1853.4,383.9 L1854,384 L1854.6,383.5 L1855.2,384.9 L1855.8,384.7 L1856.4,385.1 L1857,385.8 L1857.6,385.9 L1858.2,385.7 L1858.8,386.3 L1859.4,386.4 L1860,386.3 L1860.6,386.8 L1861.2,386.5 L1861.8,386.8 L1862.4,387.5 L1863,388.1 L1863.6,387.6 L1864.2,388.5 L1864.8,388.4 L1865.4,389.1 L1866,388.7 L1866.6,389.9 L1867.2,389.4 L1867.8,389.4 L1868.4,389.8 L1869,389.4 L1869.6,390.2 L1870.2,390.2 L1870.8,390.6 L1871.4,390.6 L1872,390.1 L1872.6,390.4 L1873.2,391.1 L1873.8,391.1 L1874.4,391.9 L1875,391.5 L1875.6,392.2 L1876.2,392.2 L1876.8,392.8 L1877.4,392.6 L1878,392.8 L1878.6,392.6 L1879.2,393.2 L1879.8,393.5 L1880.4,393.4 L1881,393.8 L1881.6,393.5 L1882.2,393.9 L1882.8,394.2 L1883.4,394.2 L1884,394.8 L1884.6,394.8 L1885.2,394.6 L1885.8,394.7 L1886.4,395.1 L1887,395.1 L1887.6,395.3 L1888.2,395.3 L1888.8,395.9 L1889.4,395.9 L1890,396.1 L1890.6,396.4 L1891.2,395.7 L1891.8,396.5 L1892.4,396.6 L1893,397 L1893.6,397.1 L1894.2,397.2 L1894.8,397.6 L1895.4,396.8 L1896,397.2 L1896.6,398 L1897.2,398.2 L1897.8,397.7 L1898.4,398.4 L1899,398.4 L1899.6,397.9 L1900.2,398.3 L1900.8,398.7 L1901.4,398.7 L1902,399.4 L1902.6,399.2 L1903.2,399.4 L1903.8,399.1 L1904.4,399 L1905,399.3 L1905.6,400 L1906.2,400.3 L1906.8,399.6 L1907.4,400 L1908,399.4 L1908.6,400.6 L1909.2,400 L1909.8,400.7 L1910.4,400.9 L1911,400.3 L1911.6,400.6 L1912.2,401.1 L1912.8,401.4 L1913.4,401 L1914,400.9 L1914.6,401.4 L1915.2,401.8 L1915.8,401.2 L1916.4,401.4 L1917,402 L1917.6,401.8 L1918.2,401.6 L1918.8,401.9 L1919.4,402.1 L1920,402.3 L1920.6,402.2 L1921.2,402.2 L1921.8,401.7 L1922.4,402.4 L1923,402.4 L1923.6,402.4 L1924.2,402.3 L1924.8,402.4"/>
</g>
<path d="M1543.7,329.7 V182" stroke="#000" stroke-width="5.3" fill="none"/>
<polygon points="1534,184.9 1543.6,146.2 1553.3,184.9" fill="#000"/>
<rect x="1387.5" y="19" width="525.5" height="405.9" fill="none" stroke="#000" stroke-width="4.1"/>
<path d="M1492.6,424.9 v-9.4M1597.7,424.9 v-9.4M1702.8,424.9 v-9.4M1807.9,424.9 v-9.4" stroke="#000" stroke-width="4.1" fill="none"/>
<path d="M1440,424.9 v-4.8M1545.1,424.9 v-4.8M1650.2,424.9 v-4.8M1755.3,424.9 v-4.8M1860.4,424.9 v-4.8" stroke="#000" stroke-width="3.8" fill="none"/>
<text transform="translate(1405.5,449.9) rotate(-45)" font-size="29.2" text-anchor="end">720</text>
<text transform="translate(1510.6,449.9) rotate(-45)" font-size="29.2" text-anchor="end">740</text>
<text transform="translate(1615.7,449.9) rotate(-45)" font-size="29.2" text-anchor="end">760</text>
<text transform="translate(1720.8,449.9) rotate(-45)" font-size="29.2" text-anchor="end">780</text>
<text transform="translate(1825.9,449.9) rotate(-45)" font-size="29.2" text-anchor="end">800</text>
<text transform="translate(1931,449.9) rotate(-45)" font-size="29.2" text-anchor="end">820</text>
<text x="1337" y="30" font-size="42.5" text-anchor="start" fill="#000">c</text>
<text transform="translate(1361.2,221.8) rotate(-90)" font-size="29.2" text-anchor="middle" fill="#000">Output intensity (a.u.)</text>
<text x="1439.8" y="67.8" font-size="25.1" text-anchor="start" fill="#000">Champion film</text>
<text x="1565.5" y="244" font-size="24.8" text-anchor="start" fill="#000">Pump</text>
<text x="1565.7" y="285" font-size="24.8" text-anchor="start" fill="#000">Intensity</text>
<text x="1645" y="525" font-size="29.2" text-anchor="middle" fill="#000">Wavelength (nm)</text>
</g>
<g id="pd">
<circle cx="108.6" cy="948" r="9.7" fill="url(#gt)"/>
<circle cx="123.8" cy="943.7" r="9.7" fill="url(#gt)"/>
<circle cx="137.9" cy="944.5" r="9.7" fill="url(#gt)"/>
<circle cx="195" cy="937.5" r="9.7" fill="url(#gt)"/>
<circle cx="216.5" cy="928.8" r="9.7" fill="url(#gt)"/>
<circle cx="246.1" cy="918.8" r="9.7" fill="url(#gt)"/>
<circle cx="304.3" cy="901.2" r="9.7" fill="url(#gt)"/>
<circle cx="346.4" cy="844.8" r="9.7" fill="url(#gt)"/>
<circle cx="384.3" cy="790.5" r="9.7" fill="url(#gt)"/>
<circle cx="546.4" cy="677" r="9.7" fill="url(#gt)"/>
<path d="M153.7,657.6 L179.2,658.1M196.8,674.2 L214.7,828.3M221.3,859.1 L241.5,922.3" stroke="#000" stroke-width="5.3" stroke-linecap="round" fill="none"/>
<path d="M256.7,937.4 L293.6,937.4M314.4,937.4 L335.9,937.4M356.7,937.4 L374.3,937.4M395.1,937.4 L536,937.4" stroke="#000" stroke-width="5.2" fill="none"/>
<circle cx="108.6" cy="658.8" r="10.0" fill="url(#gk)"/>
<circle cx="123.8" cy="658.8" r="10.0" fill="url(#gk)"/>
<circle cx="137.9" cy="657.2" r="10.0" fill="url(#gk)"/>
<circle cx="195" cy="658.5" r="10.0" fill="url(#gk)"/>
<circle cx="216.5" cy="844" r="10.0" fill="url(#gk)"/>
<circle cx="246.3" cy="937.4" r="10.0" fill="url(#gk)"/>
<circle cx="304" cy="937.4" r="10.0" fill="url(#gk)"/>
<circle cx="346.3" cy="937.4" r="10.0" fill="url(#gk)"/>
<circle cx="384.7" cy="937.4" r="10.0" fill="url(#gk)"/>
<circle cx="546.4" cy="937.4" r="10.0" fill="url(#gk)"/>
<path d="M99.7,947.6 L221.5,929.2 L542.6,682.5" stroke="#267d87" stroke-width="5.4" fill="none" stroke-linejoin="round"/>
<path d="M225,942.3 L262.5,970.1" stroke="#267d87" stroke-width="4.2" fill="none"/>
<polygon points="276.4,980.5 257.7,973.5 264.3,964.7" fill="#267d87"/>
<path d="M576.4,609.6 V1016.4" stroke="#267d87" stroke-width="4.1" fill="none"/>
<path d="M578.45,609.6 H97.1 V1016.4 H578.45" stroke="#000" stroke-width="4.1" fill="none"/>
<path d="M97.1,638.8 h7.8M97.1,696.9 h7.8M97.1,754.9 h7.8M97.1,813 h7.8M97.1,871 h7.8M97.1,929.1 h7.8M97.1,987.2 h7.8" stroke="#000" stroke-width="3.9" fill="none"/>
<text x="83" y="649.2" font-size="29.2" text-anchor="end" fill="#000">60</text>
<text x="83" y="707.3" font-size="29.2" text-anchor="end" fill="#000">50</text>
<text x="83" y="765.3" font-size="29.2" text-anchor="end" fill="#000">40</text>
<text x="83" y="823.4" font-size="29.2" text-anchor="end" fill="#000">30</text>
<text x="83" y="881.4" font-size="29.2" text-anchor="end" fill="#000">20</text>
<text x="83" y="939.5" font-size="29.2" text-anchor="end" fill="#000">10</text>
<text x="83" y="997.6" font-size="29.2" text-anchor="end" fill="#000">0</text>
<path d="M121.5,1016.4 v-8M241.1,1016.4 v-8M360.7,1016.4 v-8M480.3,1016.4 v-8" stroke="#000" stroke-width="4.0" fill="none"/>
<path d="M181.3,1016.4 v-4.4M300.9,1016.4 v-4.4M420.5,1016.4 v-4.4M540.1,1016.4 v-4.4" stroke="#000" stroke-width="3.6" fill="none"/>
<text transform="translate(136.2,1044.5) rotate(-45)" font-size="29.2" text-anchor="end">5</text>
<text transform="translate(260.6,1041.4) rotate(-45)" font-size="29.2" text-anchor="end">10</text>
<text transform="translate(380.2,1041.4) rotate(-45)" font-size="29.2" text-anchor="end">15</text>
<text transform="translate(499.8,1041.4) rotate(-45)" font-size="29.2" text-anchor="end">20</text>
<text x="-1.7" y="610.8" font-size="42.5" text-anchor="start" fill="#000">d</text>
<text transform="translate(24.1,813) rotate(-90)" font-size="29.0" text-anchor="middle" fill="#000">FWHM (nm)</text>
<text transform="translate(623.4,824) rotate(-90)" font-size="29.2" text-anchor="middle" fill="#267d87">intensity (a.u.)</text>
<text x="241.9" y="657.8" font-size="24.95" text-anchor="start" fill="#000">Champion film</text>
<text x="282" y="992.9" font-size="24.8" text-anchor="start" fill="#267d87">8.987 µJ cm<tspan font-size="16.4" dy="-12.8">−2</tspan></text>
<text x="299.5" y="1114.6" font-size="29.2" text-anchor="middle" fill="#000">Energy density (µJ cm<tspan font-size="20" dy="-13">−2</tspan><tspan dy="13">)</tspan></text>
</g>
<g id="pe">
<rect x="1140.4" y="938.3" width="17.2" height="17.2" fill="#4170a8"/>
<circle cx="826.6" cy="902.8" r="9.9" fill="url(#gt)"/>
<circle cx="1010.6" cy="940.7" r="9.9" fill="url(#gt)"/>
<circle cx="1056.6" cy="958" r="9.9" fill="url(#gt)"/>
<circle cx="1038.6" cy="743" r="9.9" fill="url(#gt)"/>
<circle cx="1103" cy="690.8" r="9.9" fill="url(#gt)"/>
<circle cx="1167.3" cy="947" r="9.9" fill="url(#gt)"/>
<polygon points="1185.7,952.4 1188.3,960.4 1196.7,960.4 1189.9,965.4 1192.5,973.4 1185.7,968.4 1178.9,973.4 1181.5,965.4 1174.7,960.4 1183.1,960.4" fill="#a92d48"/>
<circle cx="820.7" cy="635.7" r="9.8" fill="url(#gt)"/>
<rect x="812.2" y="662.4" width="17.6" height="17.4" fill="#4170a8"/>
<text x="842.7" y="645" font-size="24.8" text-anchor="start" fill="#000">ns excitation</text>
<text x="844" y="679.8" font-size="24.8" text-anchor="start" fill="#000">fs excitation</text>
<text x="799.5" y="882.1" font-size="24.8" text-anchor="start" fill="#000">Ref.34</text>
<text x="951.7" y="920.4" font-size="24.8" text-anchor="start" fill="#000">Ref.36</text>
<text x="1013" y="999.3" font-size="24.8" text-anchor="start" fill="#000">Ref.38</text>
<text x="1036" y="729.6" font-size="24.8" text-anchor="start" fill="#000">Ref.35</text>
<text x="1106.2" y="670.5" font-size="24.8" text-anchor="start" fill="#000">Ref.37</text>
<text x="1078.2" y="925.4" font-size="24.8" text-anchor="start" fill="#000">Ref.8</text>
<text x="1166.7" y="918.5" font-size="24.8" text-anchor="start" fill="#000">Ref.37</text>
<text x="1148.5" y="999.2" font-size="24.8" text-anchor="start" fill="#a92d48">This work</text>
<rect x="780.9" y="609.6" width="505.5" height="406.7" fill="none" stroke="#000" stroke-width="4.1"/>
<path d="M780.9,667.7 h7.7M780.9,725.8 h7.7M780.9,783.9 h7.7M780.9,842 h7.7M780.9,900.1 h7.7M780.9,958.2 h7.7" stroke="#000" stroke-width="3.9" fill="none"/>
<path d="M780.9,638.6 h3.8M780.9,696.8 h3.8M780.9,754.9 h3.8M780.9,813 h3.8M780.9,871 h3.8M780.9,929.1 h3.8M780.9,987.2 h3.8" stroke="#000" stroke-width="3.6" fill="none"/>
<text x="766.4" y="618.3" font-size="29.2" text-anchor="end" fill="#000">70</text>
<text x="766.4" y="676.4" font-size="29.2" text-anchor="end" fill="#000">60</text>
<text x="766.4" y="734.5" font-size="29.2" text-anchor="end" fill="#000">50</text>
<text x="766.4" y="792.6" font-size="29.2" text-anchor="end" fill="#000">40</text>
<text x="766.4" y="850.7" font-size="29.2" text-anchor="end" fill="#000">30</text>
<text x="766.4" y="908.8" font-size="29.2" text-anchor="end" fill="#000">20</text>
<text x="766.4" y="966.9" font-size="29.2" text-anchor="end" fill="#000">10</text>
<text x="766.4" y="1025" font-size="29.2" text-anchor="end" fill="#000">0</text>
<path d="M826.8,1016.3 v-8.3M918.7,1016.3 v-8.3M1010.6,1016.3 v-8.3M1102.5,1016.3 v-8.3M1194.4,1016.3 v-8.3" stroke="#000" stroke-width="4.0" fill="none"/>
<path d="M872.8,1016.3 v-4.4M964.6,1016.3 v-4.4M1056.5,1016.3 v-4.4M1148.5,1016.3 v-4.4M1240.3,1016.3 v-4.4" stroke="#000" stroke-width="3.6" fill="none"/>
<text transform="translate(844.1,1041.3) rotate(-45)" font-size="29.2" text-anchor="end">10</text>
<text transform="translate(931.5,1041.3) rotate(-45)" font-size="29.2" text-anchor="end">9</text>
<text transform="translate(1023.4,1041.3) rotate(-45)" font-size="29.2" text-anchor="end">8</text>
<text transform="translate(1115.3,1041.3) rotate(-45)" font-size="29.2" text-anchor="end">7</text>
<text transform="translate(1207.2,1041.3) rotate(-45)" font-size="29.2" text-anchor="end">6</text>
<text transform="translate(1299.2,1041.3) rotate(-45)" font-size="29.2" text-anchor="end">5</text>
<text x="668.2" y="611.3" font-size="42.5" text-anchor="start" fill="#000">e</text>
<text transform="translate(707.4,817.9) rotate(-90)" font-size="29.2" text-anchor="middle" fill="#000">Threshold (uj cm<tspan font-size="20" dy="-13">−2</tspan><tspan dy="13">)</tspan></text>
<text x="1059.2" y="1092.8" font-size="29.2" text-anchor="middle" fill="#000">FWHM (nm)</text>
</g>
<g id="pf">
<path d="M1428.3,775.5 L1432.1,756.6 L1435.8,750.5 L1439.6,758.6 L1443.3,783.6 L1447.1,749.1 L1450.8,777.5 L1454.6,785.6 L1458.3,774.8 L1462.1,770.7 L1465.8,757.9 L1469.6,764 L1473.3,778.8 L1477.1,741.7 L1480.9,784.2 L1484.6,776.1 L1488.4,772.1 L1492.1,765.3 L1495.9,746.4 L1499.6,731.6 L1503.4,749.1 L1507.1,753.2 L1510.9,762.6 L1514.6,774.8 L1518.4,766.7 L1522.1,780.2 L1525.9,758.6 L1529.7,754.5 L1533.4,749.1 L1537.2,780.2 L1540.9,749.1 L1544.7,777.5 L1548.4,784.9 L1552.2,755.9 L1555.9,776.1 L1559.7,749.1 L1563.4,734.3 L1567.2,770.7 L1571,762 L1574.7,770.1 L1578.5,762 L1582.2,781.5 L1586,743.1 L1589.7,768 L1593.5,762 L1597.2,761.3 L1601,762.6 L1604.7,766.7 L1608.5,767.4 L1612.2,771.4 L1616,764 L1619.8,795 L1623.5,753.2 L1627.3,766.7 L1631,760.6 L1634.8,769.4 L1638.5,776.8 L1642.3,768 L1646,746.4 L1649.8,769.4 L1653.5,762.6 L1657.3,765.3 L1661,732.9 L1664.8,751.8 L1668.6,770.7 L1672.3,758.6 L1676.1,764 L1679.8,791.7 L1683.6,750.5 L1687.3,757.2 L1691.1,742.4 L1694.8,754.5 L1698.6,772.1 L1702.3,776.8 L1706.1,759.9 L1709.8,735.6 L1713.6,758.6 L1717.4,772.1 L1721.1,778.8 L1724.9,776.1 L1728.6,749.1 L1732.4,747.8 L1736.1,783.6 L1739.9,745.1 L1743.6,761.3 L1747.4,746.4 L1751.1,737.7 L1754.9,770.7 L1758.7,746.4 L1762.4,774.8 L1766.2,764 L1769.9,778.2 L1773.7,758.6 L1777.4,749.1 L1781.2,735.6 L1784.9,771.4 L1788.7,761.3 L1792.4,769.4 L1796.2,771.4 L1799.9,743.7 L1803.7,761.3 L1807.5,754.5 L1811.2,750.5 L1815,749.1 L1818.7,759.9 L1822.5,770.7 L1826.2,755.2 L1830,780.2 L1833.7,764 L1837.5,759.9 L1841.2,761.3 L1845,762 L1848.7,740.4 L1852.5,773.4 L1856.3,754.5 L1860,787.6 L1863.8,780.2 L1867.5,755.9 L1871.3,770.7 L1875,751.8" stroke="#267d87" stroke-width="3.4" fill="none" stroke-linejoin="round"/>
<path d="M1428.3,768.8 l6.3,6.7 l-6.3,6.7 l-6.3,-6.7 zM1432.1,749.9 l6.3,6.7 l-6.3,6.7 l-6.3,-6.7 zM1435.8,743.8 l6.3,6.7 l-6.3,6.7 l-6.3,-6.7 zM1439.6,751.9 l6.3,6.7 l-6.3,6.7 l-6.3,-6.7 zM1443.3,776.9 l6.3,6.7 l-6.3,6.7 l-6.3,-6.7 zM1447.1,742.4 l6.3,6.7 l-6.3,6.7 l-6.3,-6.7 zM1450.8,770.8 l6.3,6.7 l-6.3,6.7 l-6.3,-6.7 zM1454.6,778.9 l6.3,6.7 l-6.3,6.7 l-6.3,-6.7 zM1458.3,768.1 l6.3,6.7 l-6.3,6.7 l-6.3,-6.7 zM1462.1,764 l6.3,6.7 l-6.3,6.7 l-6.3,-6.7 zM1465.8,751.2 l6.3,6.7 l-6.3,6.7 l-6.3,-6.7 zM1469.6,757.3 l6.3,6.7 l-6.3,6.7 l-6.3,-6.7 zM1473.3,772.1 l6.3,6.7 l-6.3,6.7 l-6.3,-6.7 zM1477.1,735 l6.3,6.7 l-6.3,6.7 l-6.3,-6.7 zM1480.9,777.5 l6.3,6.7 l-6.3,6.7 l-6.3,-6.7 zM1484.6,769.4 l6.3,6.7 l-6.3,6.7 l-6.3,-6.7 zM1488.4,765.4 l6.3,6.7 l-6.3,6.7 l-6.3,-6.7 zM1492.1,758.6 l6.3,6.7 l-6.3,6.7 l-6.3,-6.7 zM1495.9,739.7 l6.3,6.7 l-6.3,6.7 l-6.3,-6.7 zM1499.6,724.9 l6.3,6.7 l-6.3,6.7 l-6.3,-6.7 zM1503.4,742.4 l6.3,6.7 l-6.3,6.7 l-6.3,-6.7 zM1507.1,746.5 l6.3,6.7 l-6.3,6.7 l-6.3,-6.7 zM1510.9,755.9 l6.3,6.7 l-6.3,6.7 l-6.3,-6.7 zM1514.6,768.1 l6.3,6.7 l-6.3,6.7 l-6.3,-6.7 zM1518.4,760 l6.3,6.7 l-6.3,6.7 l-6.3,-6.7 zM1522.1,773.5 l6.3,6.7 l-6.3,6.7 l-6.3,-6.7 zM1525.9,751.9 l6.3,6.7 l-6.3,6.7 l-6.3,-6.7 zM1529.7,747.8 l6.3,6.7 l-6.3,6.7 l-6.3,-6.7 zM1533.4,742.4 l6.3,6.7 l-6.3,6.7 l-6.3,-6.7 zM1537.2,773.5 l6.3,6.7 l-6.3,6.7 l-6.3,-6.7 zM1540.9,742.4 l6.3,6.7 l-6.3,6.7 l-6.3,-6.7 zM1544.7,770.8 l6.3,6.7 l-6.3,6.7 l-6.3,-6.7 zM1548.4,778.2 l6.3,6.7 l-6.3,6.7 l-6.3,-6.7 zM1552.2,749.2 l6.3,6.7 l-6.3,6.7 l-6.3,-6.7 zM1555.9,769.4 l6.3,6.7 l-6.3,6.7 l-6.3,-6.7 zM1559.7,742.4 l6.3,6.7 l-6.3,6.7 l-6.3,-6.7 zM1563.4,727.6 l6.3,6.7 l-6.3,6.7 l-6.3,-6.7 zM1567.2,764 l6.3,6.7 l-6.3,6.7 l-6.3,-6.7 zM1571,755.3 l6.3,6.7 l-6.3,6.7 l-6.3,-6.7 zM1574.7,763.4 l6.3,6.7 l-6.3,6.7 l-6.3,-6.7 zM1578.5,755.3 l6.3,6.7 l-6.3,6.7 l-6.3,-6.7 zM1582.2,774.8 l6.3,6.7 l-6.3,6.7 l-6.3,-6.7 zM1586,736.4 l6.3,6.7 l-6.3,6.7 l-6.3,-6.7 zM1589.7,761.3 l6.3,6.7 l-6.3,6.7 l-6.3,-6.7 zM1593.5,755.3 l6.3,6.7 l-6.3,6.7 l-6.3,-6.7 zM1597.2,754.6 l6.3,6.7 l-6.3,6.7 l-6.3,-6.7 zM1601,755.9 l6.3,6.7 l-6.3,6.7 l-6.3,-6.7 zM1604.7,760 l6.3,6.7 l-6.3,6.7 l-6.3,-6.7 zM1608.5,760.7 l6.3,6.7 l-6.3,6.7 l-6.3,-6.7 zM1612.2,764.7 l6.3,6.7 l-6.3,6.7 l-6.3,-6.7 zM1616,757.3 l6.3,6.7 l-6.3,6.7 l-6.3,-6.7 zM1619.8,788.3 l6.3,6.7 l-6.3,6.7 l-6.3,-6.7 zM1623.5,746.5 l6.3,6.7 l-6.3,6.7 l-6.3,-6.7 zM1627.3,760 l6.3,6.7 l-6.3,6.7 l-6.3,-6.7 zM1631,753.9 l6.3,6.7 l-6.3,6.7 l-6.3,-6.7 zM1634.8,762.7 l6.3,6.7 l-6.3,6.7 l-6.3,-6.7 zM1638.5,770.1 l6.3,6.7 l-6.3,6.7 l-6.3,-6.7 zM1642.3,761.3 l6.3,6.7 l-6.3,6.7 l-6.3,-6.7 zM1646,739.7 l6.3,6.7 l-6.3,6.7 l-6.3,-6.7 zM1649.8,762.7 l6.3,6.7 l-6.3,6.7 l-6.3,-6.7 zM1653.5,755.9 l6.3,6.7 l-6.3,6.7 l-6.3,-6.7 zM1657.3,758.6 l6.3,6.7 l-6.3,6.7 l-6.3,-6.7 zM1661,726.2 l6.3,6.7 l-6.3,6.7 l-6.3,-6.7 zM1664.8,745.1 l6.3,6.7 l-6.3,6.7 l-6.3,-6.7 zM1668.6,764 l6.3,6.7 l-6.3,6.7 l-6.3,-6.7 zM1672.3,751.9 l6.3,6.7 l-6.3,6.7 l-6.3,-6.7 zM1676.1,757.3 l6.3,6.7 l-6.3,6.7 l-6.3,-6.7 zM1679.8,785 l6.3,6.7 l-6.3,6.7 l-6.3,-6.7 zM1683.6,743.8 l6.3,6.7 l-6.3,6.7 l-6.3,-6.7 zM1687.3,750.5 l6.3,6.7 l-6.3,6.7 l-6.3,-6.7 zM1691.1,735.7 l6.3,6.7 l-6.3,6.7 l-6.3,-6.7 zM1694.8,747.8 l6.3,6.7 l-6.3,6.7 l-6.3,-6.7 zM1698.6,765.4 l6.3,6.7 l-6.3,6.7 l-6.3,-6.7 zM1702.3,770.1 l6.3,6.7 l-6.3,6.7 l-6.3,-6.7 zM1706.1,753.2 l6.3,6.7 l-6.3,6.7 l-6.3,-6.7 zM1709.8,728.9 l6.3,6.7 l-6.3,6.7 l-6.3,-6.7 zM1713.6,751.9 l6.3,6.7 l-6.3,6.7 l-6.3,-6.7 zM1717.4,765.4 l6.3,6.7 l-6.3,6.7 l-6.3,-6.7 zM1721.1,772.1 l6.3,6.7 l-6.3,6.7 l-6.3,-6.7 zM1724.9,769.4 l6.3,6.7 l-6.3,6.7 l-6.3,-6.7 zM1728.6,742.4 l6.3,6.7 l-6.3,6.7 l-6.3,-6.7 zM1732.4,741.1 l6.3,6.7 l-6.3,6.7 l-6.3,-6.7 zM1736.1,776.9 l6.3,6.7 l-6.3,6.7 l-6.3,-6.7 zM1739.9,738.4 l6.3,6.7 l-6.3,6.7 l-6.3,-6.7 zM1743.6,754.6 l6.3,6.7 l-6.3,6.7 l-6.3,-6.7 zM1747.4,739.7 l6.3,6.7 l-6.3,6.7 l-6.3,-6.7 zM1751.1,731 l6.3,6.7 l-6.3,6.7 l-6.3,-6.7 zM1754.9,764 l6.3,6.7 l-6.3,6.7 l-6.3,-6.7 zM1758.7,739.7 l6.3,6.7 l-6.3,6.7 l-6.3,-6.7 zM1762.4,768.1 l6.3,6.7 l-6.3,6.7 l-6.3,-6.7 zM1766.2,757.3 l6.3,6.7 l-6.3,6.7 l-6.3,-6.7 zM1769.9,771.5 l6.3,6.7 l-6.3,6.7 l-6.3,-6.7 zM1773.7,751.9 l6.3,6.7 l-6.3,6.7 l-6.3,-6.7 zM1777.4,742.4 l6.3,6.7 l-6.3,6.7 l-6.3,-6.7 zM1781.2,728.9 l6.3,6.7 l-6.3,6.7 l-6.3,-6.7 zM1784.9,764.7 l6.3,6.7 l-6.3,6.7 l-6.3,-6.7 zM1788.7,754.6 l6.3,6.7 l-6.3,6.7 l-6.3,-6.7 zM1792.4,762.7 l6.3,6.7 l-6.3,6.7 l-6.3,-6.7 zM1796.2,764.7 l6.3,6.7 l-6.3,6.7 l-6.3,-6.7 zM1799.9,737 l6.3,6.7 l-6.3,6.7 l-6.3,-6.7 zM1803.7,754.6 l6.3,6.7 l-6.3,6.7 l-6.3,-6.7 zM1807.5,747.8 l6.3,6.7 l-6.3,6.7 l-6.3,-6.7 zM1811.2,743.8 l6.3,6.7 l-6.3,6.7 l-6.3,-6.7 zM1815,742.4 l6.3,6.7 l-6.3,6.7 l-6.3,-6.7 zM1818.7,753.2 l6.3,6.7 l-6.3,6.7 l-6.3,-6.7 zM1822.5,764 l6.3,6.7 l-6.3,6.7 l-6.3,-6.7 zM1826.2,748.5 l6.3,6.7 l-6.3,6.7 l-6.3,-6.7 zM1830,773.5 l6.3,6.7 l-6.3,6.7 l-6.3,-6.7 zM1833.7,757.3 l6.3,6.7 l-6.3,6.7 l-6.3,-6.7 zM1837.5,753.2 l6.3,6.7 l-6.3,6.7 l-6.3,-6.7 zM1841.2,754.6 l6.3,6.7 l-6.3,6.7 l-6.3,-6.7 zM1845,755.3 l6.3,6.7 l-6.3,6.7 l-6.3,-6.7 zM1848.7,733.7 l6.3,6.7 l-6.3,6.7 l-6.3,-6.7 zM1852.5,766.7 l6.3,6.7 l-6.3,6.7 l-6.3,-6.7 zM1856.3,747.8 l6.3,6.7 l-6.3,6.7 l-6.3,-6.7 zM1860,780.9 l6.3,6.7 l-6.3,6.7 l-6.3,-6.7 zM1863.8,773.5 l6.3,6.7 l-6.3,6.7 l-6.3,-6.7 zM1867.5,749.2 l6.3,6.7 l-6.3,6.7 l-6.3,-6.7 zM1871.3,764 l6.3,6.7 l-6.3,6.7 l-6.3,-6.7 zM1875,745.1 l6.3,6.7 l-6.3,6.7 l-6.3,-6.7 z" fill="#267d87"/>
<path d="M1428.3,906.1 L1432.1,896 L1435.8,892.6 L1439.6,898.7 L1443.3,898.7 L1447.1,904.8 L1450.8,904.1 L1454.6,900.1 L1458.3,898.7 L1462.1,897.4 L1465.8,901.4 L1469.6,906.1 L1473.3,906.1 L1477.1,910.2 L1480.9,911.5 L1484.6,903.4 L1488.4,902.1 L1492.1,907.5 L1495.9,909.5 L1499.6,906.8 L1503.4,908.8 L1507.1,907.5 L1510.9,905.5 L1514.6,904.8 L1518.4,903.4 L1522.1,899.4 L1525.9,913.6 L1529.7,894.7 L1533.4,906.1 L1537.2,916.9 L1540.9,909.5 L1544.7,914.2 L1548.4,919 L1552.2,904.8 L1555.9,900.1 L1559.7,914.2 L1563.4,910.2 L1567.2,913.6 L1571,895.3 L1574.7,906.1 L1578.5,900.7 L1582.2,906.1 L1586,914.2 L1589.7,902.8 L1593.5,899.4 L1597.2,906.1 L1601,904.8 L1604.7,899.4 L1608.5,906.1 L1612.2,916.3 L1616,904.1 L1619.8,905.5 L1623.5,904.1 L1627.3,913.6 L1631,905.5 L1634.8,903.4 L1638.5,907.5 L1642.3,913.6 L1646,914.9 L1649.8,908.2 L1653.5,904.1 L1657.3,896 L1661,907.5 L1664.8,912.2 L1668.6,906.1 L1672.3,905.5 L1676.1,916.9 L1679.8,902.1 L1683.6,902.1 L1687.3,916.3 L1691.1,904.8 L1694.8,905.5 L1698.6,912.9 L1702.3,913.6 L1706.1,912.2 L1709.8,903.4 L1713.6,911.5 L1717.4,911.5 L1721.1,920.3 L1724.9,911.5 L1728.6,908.2 L1732.4,919.6 L1736.1,912.9 L1739.9,923.7 L1743.6,921 L1747.4,913.6 L1751.1,926.4 L1754.9,933.1 L1758.7,927.1 L1762.4,937.9 L1766.2,921.7 L1769.9,930.4 L1773.7,922.3 L1777.4,935.2 L1781.2,930.4 L1784.9,925 L1788.7,926.4 L1792.4,923 L1796.2,937.2 L1799.9,939.2 L1803.7,933.8 L1807.5,931.8 L1811.2,935.8 L1815,945.3 L1818.7,935.2 L1822.5,943.9 L1826.2,939.9 L1830,941.9 L1833.7,943.3 L1837.5,943.9 L1841.2,948.7 L1845,936.5 L1848.7,948 L1852.5,946.6 L1856.3,943.3 L1860,955.4 L1863.8,935.8 L1867.5,958.8 L1871.3,960.1 L1875,964.2" stroke="#4270a7" stroke-width="3.4" fill="none" stroke-linejoin="round"/>
<path d="M1428.3,899.1 l7.5,12.8 h-15 zM1432.1,889 l7.5,12.8 h-15 zM1435.8,885.6 l7.5,12.8 h-15 zM1439.6,891.7 l7.5,12.8 h-15 zM1443.3,891.7 l7.5,12.8 h-15 zM1447.1,897.8 l7.5,12.8 h-15 zM1450.8,897.1 l7.5,12.8 h-15 zM1454.6,893.1 l7.5,12.8 h-15 zM1458.3,891.7 l7.5,12.8 h-15 zM1462.1,890.4 l7.5,12.8 h-15 zM1465.8,894.4 l7.5,12.8 h-15 zM1469.6,899.1 l7.5,12.8 h-15 zM1473.3,899.1 l7.5,12.8 h-15 zM1477.1,903.2 l7.5,12.8 h-15 zM1480.9,904.5 l7.5,12.8 h-15 zM1484.6,896.4 l7.5,12.8 h-15 zM1488.4,895.1 l7.5,12.8 h-15 zM1492.1,900.5 l7.5,12.8 h-15 zM1495.9,902.5 l7.5,12.8 h-15 zM1499.6,899.8 l7.5,12.8 h-15 zM1503.4,901.8 l7.5,12.8 h-15 zM1507.1,900.5 l7.5,12.8 h-15 zM1510.9,898.5 l7.5,12.8 h-15 zM1514.6,897.8 l7.5,12.8 h-15 zM1518.4,896.4 l7.5,12.8 h-15 zM1522.1,892.4 l7.5,12.8 h-15 zM1525.9,906.6 l7.5,12.8 h-15 zM1529.7,887.7 l7.5,12.8 h-15 zM1533.4,899.1 l7.5,12.8 h-15 zM1537.2,909.9 l7.5,12.8 h-15 zM1540.9,902.5 l7.5,12.8 h-15 zM1544.7,907.2 l7.5,12.8 h-15 zM1548.4,912 l7.5,12.8 h-15 zM1552.2,897.8 l7.5,12.8 h-15 zM1555.9,893.1 l7.5,12.8 h-15 zM1559.7,907.2 l7.5,12.8 h-15 zM1563.4,903.2 l7.5,12.8 h-15 zM1567.2,906.6 l7.5,12.8 h-15 zM1571,888.3 l7.5,12.8 h-15 zM1574.7,899.1 l7.5,12.8 h-15 zM1578.5,893.7 l7.5,12.8 h-15 zM1582.2,899.1 l7.5,12.8 h-15 zM1586,907.2 l7.5,12.8 h-15 zM1589.7,895.8 l7.5,12.8 h-15 zM1593.5,892.4 l7.5,12.8 h-15 zM1597.2,899.1 l7.5,12.8 h-15 zM1601,897.8 l7.5,12.8 h-15 zM1604.7,892.4 l7.5,12.8 h-15 zM1608.5,899.1 l7.5,12.8 h-15 zM1612.2,909.3 l7.5,12.8 h-15 zM1616,897.1 l7.5,12.8 h-15 zM1619.8,898.5 l7.5,12.8 h-15 zM1623.5,897.1 l7.5,12.8 h-15 zM1627.3,906.6 l7.5,12.8 h-15 zM1631,898.5 l7.5,12.8 h-15 zM1634.8,896.4 l7.5,12.8 h-15 zM1638.5,900.5 l7.5,12.8 h-15 zM1642.3,906.6 l7.5,12.8 h-15 zM1646,907.9 l7.5,12.8 h-15 zM1649.8,901.2 l7.5,12.8 h-15 zM1653.5,897.1 l7.5,12.8 h-15 zM1657.3,889 l7.5,12.8 h-15 zM1661,900.5 l7.5,12.8 h-15 zM1664.8,905.2 l7.5,12.8 h-15 zM1668.6,899.1 l7.5,12.8 h-15 zM1672.3,898.5 l7.5,12.8 h-15 zM1676.1,909.9 l7.5,12.8 h-15 zM1679.8,895.1 l7.5,12.8 h-15 zM1683.6,895.1 l7.5,12.8 h-15 zM1687.3,909.3 l7.5,12.8 h-15 zM1691.1,897.8 l7.5,12.8 h-15 zM1694.8,898.5 l7.5,12.8 h-15 zM1698.6,905.9 l7.5,12.8 h-15 zM1702.3,906.6 l7.5,12.8 h-15 zM1706.1,905.2 l7.5,12.8 h-15 zM1709.8,896.4 l7.5,12.8 h-15 zM1713.6,904.5 l7.5,12.8 h-15 zM1717.4,904.5 l7.5,12.8 h-15 zM1721.1,913.3 l7.5,12.8 h-15 zM1724.9,904.5 l7.5,12.8 h-15 zM1728.6,901.2 l7.5,12.8 h-15 zM1732.4,912.6 l7.5,12.8 h-15 zM1736.1,905.9 l7.5,12.8 h-15 zM1739.9,916.7 l7.5,12.8 h-15 zM1743.6,914 l7.5,12.8 h-15 zM1747.4,906.6 l7.5,12.8 h-15 zM1751.1,919.4 l7.5,12.8 h-15 zM1754.9,926.1 l7.5,12.8 h-15 zM1758.7,920.1 l7.5,12.8 h-15 zM1762.4,930.9 l7.5,12.8 h-15 zM1766.2,914.7 l7.5,12.8 h-15 zM1769.9,923.4 l7.5,12.8 h-15 zM1773.7,915.3 l7.5,12.8 h-15 zM1777.4,928.2 l7.5,12.8 h-15 zM1781.2,923.4 l7.5,12.8 h-15 zM1784.9,918 l7.5,12.8 h-15 zM1788.7,919.4 l7.5,12.8 h-15 zM1792.4,916 l7.5,12.8 h-15 zM1796.2,930.2 l7.5,12.8 h-15 zM1799.9,932.2 l7.5,12.8 h-15 zM1803.7,926.8 l7.5,12.8 h-15 zM1807.5,924.8 l7.5,12.8 h-15 zM1811.2,928.8 l7.5,12.8 h-15 zM1815,938.3 l7.5,12.8 h-15 zM1818.7,928.2 l7.5,12.8 h-15 zM1822.5,936.9 l7.5,12.8 h-15 zM1826.2,932.9 l7.5,12.8 h-15 zM1830,934.9 l7.5,12.8 h-15 zM1833.7,936.3 l7.5,12.8 h-15 zM1837.5,936.9 l7.5,12.8 h-15 zM1841.2,941.7 l7.5,12.8 h-15 zM1845,929.5 l7.5,12.8 h-15 zM1848.7,941 l7.5,12.8 h-15 zM1852.5,939.6 l7.5,12.8 h-15 zM1856.3,936.3 l7.5,12.8 h-15 zM1860,948.4 l7.5,12.8 h-15 zM1863.8,928.8 l7.5,12.8 h-15 zM1867.5,951.8 l7.5,12.8 h-15 zM1871.3,953.1 l7.5,12.8 h-15 zM1875,957.2 l7.5,12.8 h-15 z" fill="#4270a7"/>
<path d="M1410.8,640.6 H1470.3" stroke="#267d87" stroke-width="3.6"/>
<path d="M1440.4,634 l5.6,6.6 l-5.6,6.6 l-5.6,-6.6 z" fill="#267d87"/>
<path d="M1412.2,677.2 H1469.1" stroke="#4270a7" stroke-width="3.6"/>
<path d="M1440.4,669.2 l7.6,12.3 h-15.2 z" fill="#4270a7"/>
<text x="1484.8" y="649" font-size="24.8" text-anchor="start" fill="#000">Champion film</text>
<text x="1484.9" y="686" font-size="24.8" text-anchor="start" fill="#000">Pristine MAPbI<tspan font-size="16" dy="8.5">3</tspan></text>
<rect x="1387.1" y="609.6" width="525.4" height="406.7" fill="none" stroke="#000" stroke-width="4.1"/>
<path d="M1424.6,1016.3 v-8.3M1499.6,1016.3 v-8.3M1574.6,1016.3 v-8.3M1649.6,1016.3 v-8.3M1724.6,1016.3 v-8.3M1799.6,1016.3 v-8.3M1874.6,1016.3 v-8.3" stroke="#000" stroke-width="4.0" fill="none"/>
<path d="M1462.1,1016.3 v-4.4M1537.1,1016.3 v-4.4M1612.1,1016.3 v-4.4M1687.1,1016.3 v-4.4M1762.1,1016.3 v-4.4M1837.1,1016.3 v-4.4" stroke="#000" stroke-width="3.6" fill="none"/>
<text transform="translate(1441.6,1041.3) rotate(-45)" font-size="29.2" text-anchor="end">0</text>
<text transform="translate(1519.1,1041.3) rotate(-45)" font-size="29.2" text-anchor="end">20</text>
<text transform="translate(1594.1,1041.3) rotate(-45)" font-size="29.2" text-anchor="end">40</text>
<text transform="translate(1666.1,1041.3) rotate(-45)" font-size="29.2" text-anchor="end">60</text>
<text transform="translate(1739.6,1041.3) rotate(-45)" font-size="29.2" text-anchor="end">80</text>
<text transform="translate(1817.6,1041.3) rotate(-45)" font-size="29.2" text-anchor="end">100</text>
<text transform="translate(1891.6,1041.3) rotate(-45)" font-size="29.2" text-anchor="end">120</text>
<text x="1336.5" y="610.8" font-size="42.5" text-anchor="start" fill="#000">f</text>
<text transform="translate(1360.2,801) rotate(-90)" font-size="29.2" text-anchor="middle" fill="#000">Output intensity (a.u.)</text>
<text x="1650.3" y="1101.9" font-size="29.2" text-anchor="middle" fill="#000">Time (min)</text>
</g>
</svg>
</body></html>
